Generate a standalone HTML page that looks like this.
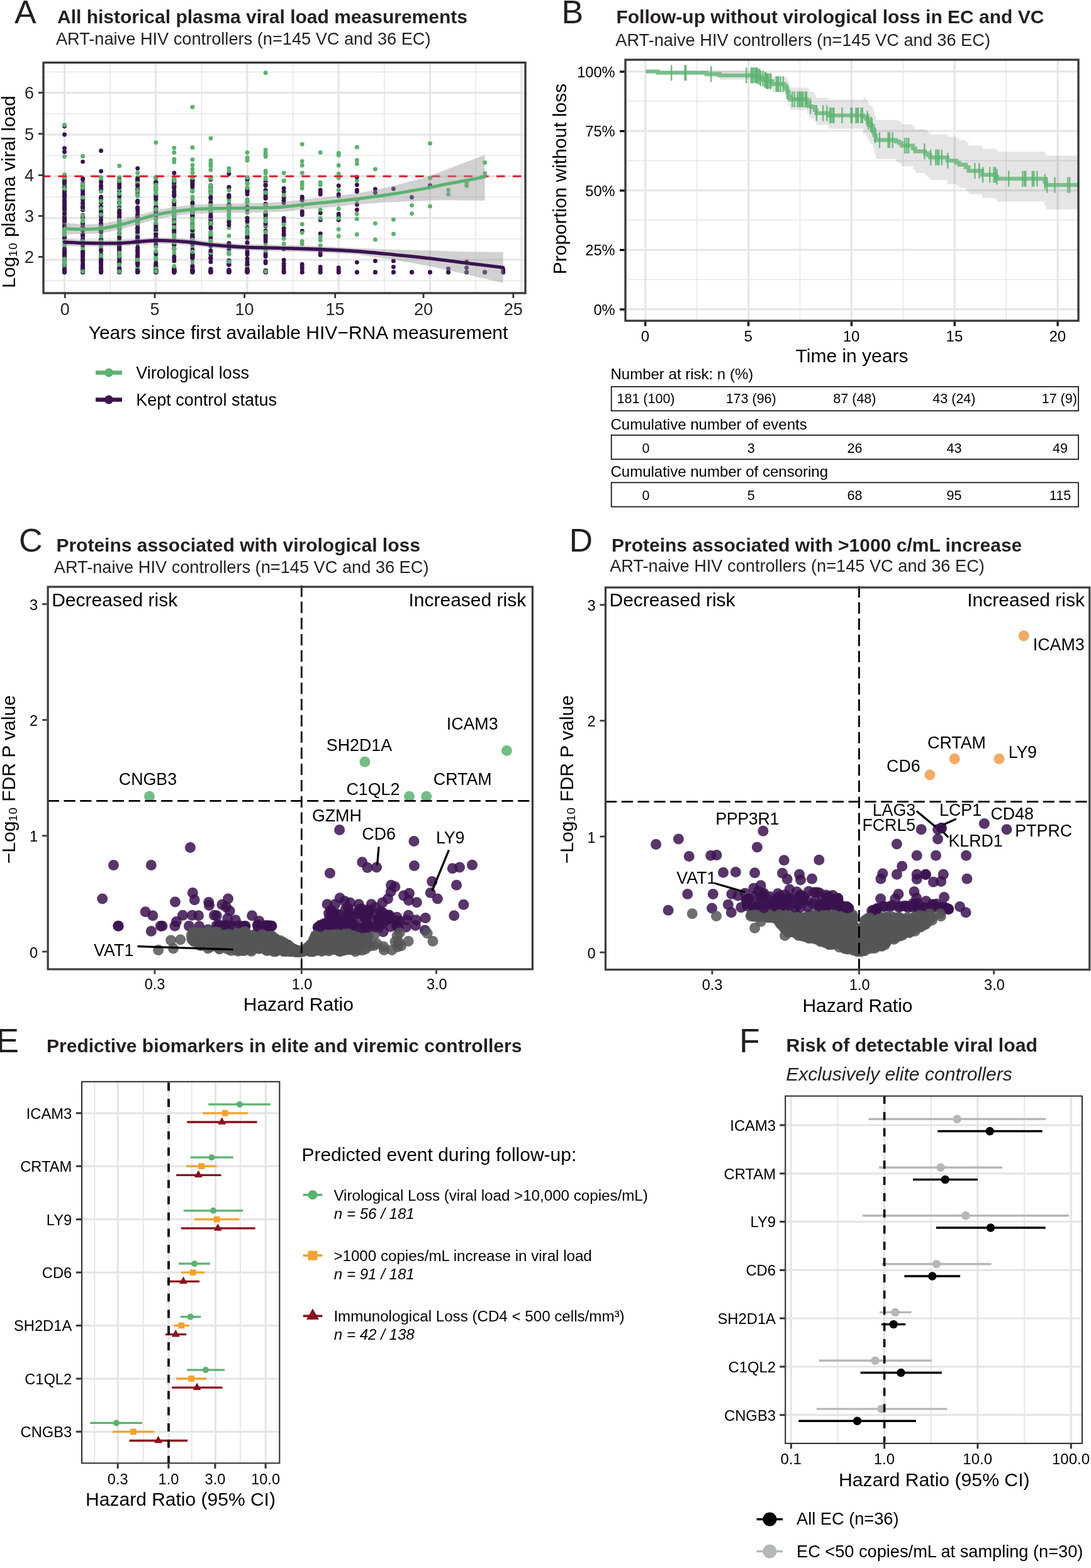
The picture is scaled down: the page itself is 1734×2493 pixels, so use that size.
<!DOCTYPE html>
<html lang="en"><head><meta charset="utf-8"><title>Figure</title>
<style>
html,body{margin:0;padding:0;background:#fff;}
svg{display:block;}
text{font-family:'Liberation Sans', sans-serif;}
</style></head>
<body>
<svg width="1734" height="2493" viewBox="0 0 1734 2493" font-family="'Liberation Sans', sans-serif">
<rect width="1734" height="2493" fill="#fff"/>
<text x="23.00" y="37.20" font-size="52" fill="#231F20">A</text>
<text x="91.00" y="37.30" font-size="30" font-weight="bold" fill="#231F20">All historical plasma viral load measurements</text>
<text x="88.90" y="71.00" font-size="27.2" fill="#231F20">ART-naive HIV controllers (n=145 VC and 36 EC)</text>
<clipPath id="clipA"><rect x="69.0" y="99.5" width="766.0" height="366.5"/></clipPath>
<g clip-path="url(#clipA)">
<line x1="175.12" y1="99.50" x2="175.12" y2="466.00" stroke="#E5E5E5" stroke-width="1.4"/>
<line x1="320.38" y1="99.50" x2="320.38" y2="466.00" stroke="#E5E5E5" stroke-width="1.4"/>
<line x1="465.62" y1="99.50" x2="465.62" y2="466.00" stroke="#E5E5E5" stroke-width="1.4"/>
<line x1="610.88" y1="99.50" x2="610.88" y2="466.00" stroke="#E5E5E5" stroke-width="1.4"/>
<line x1="756.12" y1="99.50" x2="756.12" y2="466.00" stroke="#E5E5E5" stroke-width="1.4"/>
<line x1="69.00" y1="446.18" x2="835.00" y2="446.18" stroke="#E5E5E5" stroke-width="1.4"/>
<line x1="69.00" y1="379.82" x2="835.00" y2="379.82" stroke="#E5E5E5" stroke-width="1.4"/>
<line x1="69.00" y1="313.48" x2="835.00" y2="313.48" stroke="#E5E5E5" stroke-width="1.4"/>
<line x1="69.00" y1="247.12" x2="835.00" y2="247.12" stroke="#E5E5E5" stroke-width="1.4"/>
<line x1="69.00" y1="180.78" x2="835.00" y2="180.78" stroke="#E5E5E5" stroke-width="1.4"/>
<line x1="69.00" y1="114.43" x2="835.00" y2="114.43" stroke="#E5E5E5" stroke-width="1.4"/>
<line x1="102.50" y1="99.50" x2="102.50" y2="466.00" stroke="#E5E5E5" stroke-width="3.0"/>
<line x1="247.75" y1="99.50" x2="247.75" y2="466.00" stroke="#E5E5E5" stroke-width="3.0"/>
<line x1="393.00" y1="99.50" x2="393.00" y2="466.00" stroke="#E5E5E5" stroke-width="3.0"/>
<line x1="538.25" y1="99.50" x2="538.25" y2="466.00" stroke="#E5E5E5" stroke-width="3.0"/>
<line x1="683.50" y1="99.50" x2="683.50" y2="466.00" stroke="#E5E5E5" stroke-width="3.0"/>
<line x1="828.75" y1="99.50" x2="828.75" y2="466.00" stroke="#E5E5E5" stroke-width="3.0"/>
<line x1="69.00" y1="413.00" x2="835.00" y2="413.00" stroke="#E5E5E5" stroke-width="3.0"/>
<line x1="69.00" y1="346.65" x2="835.00" y2="346.65" stroke="#E5E5E5" stroke-width="3.0"/>
<line x1="69.00" y1="280.30" x2="835.00" y2="280.30" stroke="#E5E5E5" stroke-width="3.0"/>
<line x1="69.00" y1="213.95" x2="835.00" y2="213.95" stroke="#E5E5E5" stroke-width="3.0"/>
<line x1="69.00" y1="147.60" x2="835.00" y2="147.60" stroke="#E5E5E5" stroke-width="3.0"/>
<circle cx="102.5" cy="311.5" r="3.45" fill="#3B1250"/>
<circle cx="276.8" cy="318.6" r="3.45" fill="#3B1250"/>
<circle cx="189.7" cy="408.5" r="3.45" fill="#3B1250"/>
<circle cx="363.9" cy="431.2" r="3.45" fill="#3B1250"/>
<circle cx="131.6" cy="312.2" r="3.45" fill="#5CB270"/>
<circle cx="363.9" cy="432.3" r="3.45" fill="#3B1250"/>
<circle cx="422.1" cy="430.3" r="3.45" fill="#3B1250"/>
<circle cx="247.8" cy="357.4" r="3.45" fill="#3B1250"/>
<circle cx="247.8" cy="289.9" r="3.45" fill="#3B1250"/>
<circle cx="247.8" cy="372.1" r="3.45" fill="#3B1250"/>
<circle cx="218.7" cy="431.7" r="3.45" fill="#3B1250"/>
<circle cx="393.0" cy="375.1" r="3.45" fill="#3B1250"/>
<circle cx="131.6" cy="408.1" r="3.45" fill="#3B1250"/>
<circle cx="131.6" cy="412.8" r="3.45" fill="#5CB270"/>
<circle cx="102.5" cy="393.7" r="3.45" fill="#5CB270"/>
<circle cx="102.5" cy="418.1" r="3.45" fill="#3B1250"/>
<circle cx="218.7" cy="380.8" r="3.45" fill="#3B1250"/>
<circle cx="160.6" cy="383.6" r="3.45" fill="#3B1250"/>
<circle cx="334.9" cy="405.1" r="3.45" fill="#3B1250"/>
<circle cx="189.7" cy="391.5" r="3.45" fill="#5CB270"/>
<circle cx="305.9" cy="430.8" r="3.45" fill="#3B1250"/>
<circle cx="102.5" cy="430.4" r="3.45" fill="#3B1250"/>
<circle cx="334.9" cy="348.9" r="3.45" fill="#3B1250"/>
<circle cx="102.5" cy="335.1" r="3.45" fill="#5CB270"/>
<circle cx="189.7" cy="403.2" r="3.45" fill="#3B1250"/>
<circle cx="276.8" cy="432.8" r="3.45" fill="#3B1250"/>
<circle cx="189.7" cy="300.8" r="3.45" fill="#3B1250"/>
<circle cx="160.6" cy="348.9" r="3.45" fill="#5CB270"/>
<circle cx="131.6" cy="402.3" r="3.45" fill="#3B1250"/>
<circle cx="218.7" cy="300.3" r="3.45" fill="#3B1250"/>
<circle cx="276.8" cy="429.5" r="3.45" fill="#3B1250"/>
<circle cx="247.8" cy="302.8" r="3.45" fill="#3B1250"/>
<circle cx="218.7" cy="415.9" r="3.45" fill="#3B1250"/>
<circle cx="102.5" cy="431.6" r="3.45" fill="#5CB270"/>
<circle cx="276.8" cy="304.9" r="3.45" fill="#5CB270"/>
<circle cx="102.5" cy="353.2" r="3.45" fill="#3B1250"/>
<circle cx="218.7" cy="282.3" r="3.45" fill="#5CB270"/>
<circle cx="363.9" cy="432.6" r="3.45" fill="#3B1250"/>
<circle cx="305.9" cy="377.8" r="3.45" fill="#5CB270"/>
<circle cx="363.9" cy="319.2" r="3.45" fill="#5CB270"/>
<circle cx="102.5" cy="427.1" r="3.45" fill="#3B1250"/>
<circle cx="189.7" cy="360.9" r="3.45" fill="#5CB270"/>
<circle cx="276.8" cy="291.1" r="3.45" fill="#3B1250"/>
<circle cx="160.6" cy="426.9" r="3.45" fill="#3B1250"/>
<circle cx="305.9" cy="415.5" r="3.45" fill="#5CB270"/>
<circle cx="247.8" cy="311.5" r="3.45" fill="#3B1250"/>
<circle cx="247.8" cy="318.9" r="3.45" fill="#5CB270"/>
<circle cx="393.0" cy="317.2" r="3.45" fill="#5CB270"/>
<circle cx="131.6" cy="300.3" r="3.45" fill="#3B1250"/>
<circle cx="218.7" cy="430.1" r="3.45" fill="#3B1250"/>
<circle cx="363.9" cy="299.1" r="3.45" fill="#3B1250"/>
<circle cx="102.5" cy="424.1" r="3.45" fill="#3B1250"/>
<circle cx="189.7" cy="329.6" r="3.45" fill="#3B1250"/>
<circle cx="189.7" cy="352.3" r="3.45" fill="#3B1250"/>
<circle cx="160.6" cy="282.3" r="3.45" fill="#5CB270"/>
<circle cx="276.8" cy="431.2" r="3.45" fill="#3B1250"/>
<circle cx="102.5" cy="431.8" r="3.45" fill="#3B1250"/>
<circle cx="160.6" cy="296.5" r="3.45" fill="#5CB270"/>
<circle cx="363.9" cy="315.6" r="3.45" fill="#5CB270"/>
<circle cx="160.6" cy="356.4" r="3.45" fill="#3B1250"/>
<circle cx="393.0" cy="283.7" r="3.45" fill="#3B1250"/>
<circle cx="102.5" cy="420.0" r="3.45" fill="#3B1250"/>
<circle cx="334.9" cy="334.1" r="3.45" fill="#3B1250"/>
<circle cx="131.6" cy="329.0" r="3.45" fill="#3B1250"/>
<circle cx="218.7" cy="405.2" r="3.45" fill="#3B1250"/>
<circle cx="131.6" cy="412.5" r="3.45" fill="#3B1250"/>
<circle cx="305.9" cy="431.0" r="3.45" fill="#3B1250"/>
<circle cx="334.9" cy="389.4" r="3.45" fill="#5CB270"/>
<circle cx="247.8" cy="383.3" r="3.45" fill="#3B1250"/>
<circle cx="305.9" cy="304.1" r="3.45" fill="#3B1250"/>
<circle cx="218.7" cy="386.0" r="3.45" fill="#3B1250"/>
<circle cx="189.7" cy="282.3" r="3.45" fill="#5CB270"/>
<circle cx="189.7" cy="345.8" r="3.45" fill="#3B1250"/>
<circle cx="393.0" cy="368.5" r="3.45" fill="#3B1250"/>
<circle cx="102.5" cy="432.6" r="3.45" fill="#3B1250"/>
<circle cx="422.1" cy="295.1" r="3.45" fill="#5CB270"/>
<circle cx="422.1" cy="304.4" r="3.45" fill="#5CB270"/>
<circle cx="189.7" cy="322.3" r="3.45" fill="#3B1250"/>
<circle cx="160.6" cy="396.3" r="3.45" fill="#3B1250"/>
<circle cx="189.7" cy="282.3" r="3.45" fill="#5CB270"/>
<circle cx="393.0" cy="328.9" r="3.45" fill="#3B1250"/>
<circle cx="247.8" cy="388.4" r="3.45" fill="#5CB270"/>
<circle cx="160.6" cy="408.4" r="3.45" fill="#3B1250"/>
<circle cx="334.9" cy="411.2" r="3.45" fill="#5CB270"/>
<circle cx="102.5" cy="414.3" r="3.45" fill="#3B1250"/>
<circle cx="218.7" cy="301.7" r="3.45" fill="#3B1250"/>
<circle cx="131.6" cy="293.9" r="3.45" fill="#3B1250"/>
<circle cx="218.7" cy="432.4" r="3.45" fill="#3B1250"/>
<circle cx="247.8" cy="299.0" r="3.45" fill="#3B1250"/>
<circle cx="334.9" cy="285.4" r="3.45" fill="#3B1250"/>
<circle cx="422.1" cy="353.7" r="3.45" fill="#5CB270"/>
<circle cx="131.6" cy="324.3" r="3.45" fill="#3B1250"/>
<circle cx="363.9" cy="324.6" r="3.45" fill="#5CB270"/>
<circle cx="422.1" cy="430.8" r="3.45" fill="#3B1250"/>
<circle cx="218.7" cy="405.7" r="3.45" fill="#5CB270"/>
<circle cx="247.8" cy="282.3" r="3.45" fill="#5CB270"/>
<circle cx="131.6" cy="426.7" r="3.45" fill="#3B1250"/>
<circle cx="189.7" cy="387.7" r="3.45" fill="#3B1250"/>
<circle cx="160.6" cy="413.2" r="3.45" fill="#3B1250"/>
<circle cx="102.5" cy="313.1" r="3.45" fill="#3B1250"/>
<circle cx="131.6" cy="429.5" r="3.45" fill="#3B1250"/>
<circle cx="102.5" cy="413.8" r="3.45" fill="#5CB270"/>
<circle cx="247.8" cy="340.7" r="3.45" fill="#3B1250"/>
<circle cx="276.8" cy="296.0" r="3.45" fill="#3B1250"/>
<circle cx="131.6" cy="432.3" r="3.45" fill="#3B1250"/>
<circle cx="363.9" cy="388.2" r="3.45" fill="#3B1250"/>
<circle cx="102.5" cy="403.9" r="3.45" fill="#3B1250"/>
<circle cx="102.5" cy="300.9" r="3.45" fill="#3B1250"/>
<circle cx="247.8" cy="421.3" r="3.45" fill="#3B1250"/>
<circle cx="189.7" cy="355.9" r="3.45" fill="#3B1250"/>
<circle cx="160.6" cy="355.3" r="3.45" fill="#3B1250"/>
<circle cx="102.5" cy="427.2" r="3.45" fill="#3B1250"/>
<circle cx="422.1" cy="315.5" r="3.45" fill="#3B1250"/>
<circle cx="422.1" cy="432.1" r="3.45" fill="#3B1250"/>
<circle cx="247.8" cy="432.5" r="3.45" fill="#3B1250"/>
<circle cx="189.7" cy="407.9" r="3.45" fill="#3B1250"/>
<circle cx="334.9" cy="356.8" r="3.45" fill="#3B1250"/>
<circle cx="102.5" cy="297.1" r="3.45" fill="#3B1250"/>
<circle cx="102.5" cy="405.3" r="3.45" fill="#3B1250"/>
<circle cx="131.6" cy="389.9" r="3.45" fill="#3B1250"/>
<circle cx="131.6" cy="309.6" r="3.45" fill="#5CB270"/>
<circle cx="393.0" cy="282.3" r="3.45" fill="#5CB270"/>
<circle cx="218.7" cy="286.2" r="3.45" fill="#3B1250"/>
<circle cx="276.8" cy="350.1" r="3.45" fill="#5CB270"/>
<circle cx="247.8" cy="328.2" r="3.45" fill="#3B1250"/>
<circle cx="160.6" cy="361.5" r="3.45" fill="#5CB270"/>
<circle cx="102.5" cy="350.8" r="3.45" fill="#3B1250"/>
<circle cx="218.7" cy="430.1" r="3.45" fill="#3B1250"/>
<circle cx="218.7" cy="282.3" r="3.45" fill="#5CB270"/>
<circle cx="160.6" cy="428.4" r="3.45" fill="#3B1250"/>
<circle cx="276.8" cy="371.6" r="3.45" fill="#5CB270"/>
<circle cx="131.6" cy="412.3" r="3.45" fill="#5CB270"/>
<circle cx="247.8" cy="429.9" r="3.45" fill="#3B1250"/>
<circle cx="334.9" cy="347.5" r="3.45" fill="#3B1250"/>
<circle cx="363.9" cy="432.6" r="3.45" fill="#3B1250"/>
<circle cx="131.6" cy="408.0" r="3.45" fill="#3B1250"/>
<circle cx="102.5" cy="289.5" r="3.45" fill="#3B1250"/>
<circle cx="247.8" cy="427.4" r="3.45" fill="#3B1250"/>
<circle cx="131.6" cy="390.3" r="3.45" fill="#3B1250"/>
<circle cx="102.5" cy="353.0" r="3.45" fill="#5CB270"/>
<circle cx="305.9" cy="286.7" r="3.45" fill="#3B1250"/>
<circle cx="393.0" cy="335.9" r="3.45" fill="#5CB270"/>
<circle cx="247.8" cy="282.3" r="3.45" fill="#5CB270"/>
<circle cx="189.7" cy="342.6" r="3.45" fill="#5CB270"/>
<circle cx="160.6" cy="418.1" r="3.45" fill="#3B1250"/>
<circle cx="247.8" cy="369.0" r="3.45" fill="#3B1250"/>
<circle cx="422.1" cy="375.8" r="3.45" fill="#5CB270"/>
<circle cx="131.6" cy="410.4" r="3.45" fill="#5CB270"/>
<circle cx="102.5" cy="374.3" r="3.45" fill="#3B1250"/>
<circle cx="422.1" cy="374.2" r="3.45" fill="#3B1250"/>
<circle cx="305.9" cy="379.8" r="3.45" fill="#3B1250"/>
<circle cx="218.7" cy="431.1" r="3.45" fill="#3B1250"/>
<circle cx="218.7" cy="375.4" r="3.45" fill="#3B1250"/>
<circle cx="102.5" cy="297.4" r="3.45" fill="#3B1250"/>
<circle cx="102.5" cy="333.5" r="3.45" fill="#3B1250"/>
<circle cx="160.6" cy="335.1" r="3.45" fill="#3B1250"/>
<circle cx="102.5" cy="431.4" r="3.45" fill="#3B1250"/>
<circle cx="189.7" cy="363.2" r="3.45" fill="#3B1250"/>
<circle cx="393.0" cy="421.0" r="3.45" fill="#3B1250"/>
<circle cx="422.1" cy="432.4" r="3.45" fill="#3B1250"/>
<circle cx="102.5" cy="356.6" r="3.45" fill="#3B1250"/>
<circle cx="393.0" cy="355.6" r="3.45" fill="#5CB270"/>
<circle cx="160.6" cy="425.3" r="3.45" fill="#3B1250"/>
<circle cx="305.9" cy="354.2" r="3.45" fill="#5CB270"/>
<circle cx="189.7" cy="303.8" r="3.45" fill="#3B1250"/>
<circle cx="276.8" cy="296.4" r="3.45" fill="#3B1250"/>
<circle cx="189.7" cy="286.2" r="3.45" fill="#3B1250"/>
<circle cx="247.8" cy="413.3" r="3.45" fill="#5CB270"/>
<circle cx="422.1" cy="359.5" r="3.45" fill="#3B1250"/>
<circle cx="218.7" cy="384.2" r="3.45" fill="#3B1250"/>
<circle cx="334.9" cy="432.2" r="3.45" fill="#3B1250"/>
<circle cx="102.5" cy="420.1" r="3.45" fill="#3B1250"/>
<circle cx="189.7" cy="287.9" r="3.45" fill="#3B1250"/>
<circle cx="189.7" cy="316.3" r="3.45" fill="#5CB270"/>
<circle cx="305.9" cy="428.8" r="3.45" fill="#3B1250"/>
<circle cx="189.7" cy="382.1" r="3.45" fill="#3B1250"/>
<circle cx="189.7" cy="430.2" r="3.45" fill="#3B1250"/>
<circle cx="189.7" cy="332.2" r="3.45" fill="#5CB270"/>
<circle cx="189.7" cy="391.1" r="3.45" fill="#3B1250"/>
<circle cx="102.5" cy="429.5" r="3.45" fill="#3B1250"/>
<circle cx="131.6" cy="353.1" r="3.45" fill="#3B1250"/>
<circle cx="422.1" cy="342.5" r="3.45" fill="#3B1250"/>
<circle cx="218.7" cy="386.2" r="3.45" fill="#5CB270"/>
<circle cx="189.7" cy="420.5" r="3.45" fill="#5CB270"/>
<circle cx="305.9" cy="432.2" r="3.45" fill="#3B1250"/>
<circle cx="276.8" cy="429.2" r="3.45" fill="#3B1250"/>
<circle cx="189.7" cy="431.1" r="3.45" fill="#3B1250"/>
<circle cx="131.6" cy="389.0" r="3.45" fill="#3B1250"/>
<circle cx="334.9" cy="282.3" r="3.45" fill="#5CB270"/>
<circle cx="102.5" cy="402.9" r="3.45" fill="#3B1250"/>
<circle cx="102.5" cy="412.6" r="3.45" fill="#3B1250"/>
<circle cx="218.7" cy="341.2" r="3.45" fill="#5CB270"/>
<circle cx="218.7" cy="432.3" r="3.45" fill="#3B1250"/>
<circle cx="276.8" cy="305.3" r="3.45" fill="#3B1250"/>
<circle cx="102.5" cy="429.6" r="3.45" fill="#3B1250"/>
<circle cx="218.7" cy="336.3" r="3.45" fill="#3B1250"/>
<circle cx="131.6" cy="430.8" r="3.45" fill="#3B1250"/>
<circle cx="160.6" cy="431.2" r="3.45" fill="#3B1250"/>
<circle cx="363.9" cy="392.1" r="3.45" fill="#5CB270"/>
<circle cx="218.7" cy="426.7" r="3.45" fill="#3B1250"/>
<circle cx="102.5" cy="419.4" r="3.45" fill="#3B1250"/>
<circle cx="276.8" cy="427.4" r="3.45" fill="#3B1250"/>
<circle cx="160.6" cy="314.5" r="3.45" fill="#3B1250"/>
<circle cx="363.9" cy="297.5" r="3.45" fill="#3B1250"/>
<circle cx="305.9" cy="403.5" r="3.45" fill="#3B1250"/>
<circle cx="276.8" cy="333.9" r="3.45" fill="#5CB270"/>
<circle cx="305.9" cy="365.8" r="3.45" fill="#3B1250"/>
<circle cx="363.9" cy="432.6" r="3.45" fill="#3B1250"/>
<circle cx="102.5" cy="428.5" r="3.45" fill="#3B1250"/>
<circle cx="102.5" cy="378.3" r="3.45" fill="#3B1250"/>
<circle cx="334.9" cy="401.7" r="3.45" fill="#3B1250"/>
<circle cx="102.5" cy="397.4" r="3.45" fill="#3B1250"/>
<circle cx="102.5" cy="282.3" r="3.45" fill="#5CB270"/>
<circle cx="276.8" cy="293.7" r="3.45" fill="#3B1250"/>
<circle cx="363.9" cy="335.1" r="3.45" fill="#5CB270"/>
<circle cx="102.5" cy="431.6" r="3.45" fill="#3B1250"/>
<circle cx="160.6" cy="302.6" r="3.45" fill="#3B1250"/>
<circle cx="102.5" cy="432.6" r="3.45" fill="#3B1250"/>
<circle cx="218.7" cy="332.6" r="3.45" fill="#3B1250"/>
<circle cx="276.8" cy="370.3" r="3.45" fill="#3B1250"/>
<circle cx="160.6" cy="370.2" r="3.45" fill="#5CB270"/>
<circle cx="305.9" cy="406.5" r="3.45" fill="#3B1250"/>
<circle cx="160.6" cy="432.5" r="3.45" fill="#3B1250"/>
<circle cx="218.7" cy="354.4" r="3.45" fill="#5CB270"/>
<circle cx="160.6" cy="428.2" r="3.45" fill="#3B1250"/>
<circle cx="218.7" cy="284.1" r="3.45" fill="#3B1250"/>
<circle cx="422.1" cy="366.9" r="3.45" fill="#3B1250"/>
<circle cx="102.5" cy="298.9" r="3.45" fill="#3B1250"/>
<circle cx="102.5" cy="417.8" r="3.45" fill="#3B1250"/>
<circle cx="189.7" cy="308.8" r="3.45" fill="#3B1250"/>
<circle cx="218.7" cy="292.5" r="3.45" fill="#3B1250"/>
<circle cx="189.7" cy="419.3" r="3.45" fill="#3B1250"/>
<circle cx="276.8" cy="299.1" r="3.45" fill="#5CB270"/>
<circle cx="276.8" cy="429.5" r="3.45" fill="#3B1250"/>
<circle cx="393.0" cy="321.6" r="3.45" fill="#3B1250"/>
<circle cx="102.5" cy="301.9" r="3.45" fill="#3B1250"/>
<circle cx="422.1" cy="295.2" r="3.45" fill="#3B1250"/>
<circle cx="218.7" cy="432.4" r="3.45" fill="#3B1250"/>
<circle cx="131.6" cy="373.5" r="3.45" fill="#3B1250"/>
<circle cx="102.5" cy="304.8" r="3.45" fill="#3B1250"/>
<circle cx="247.8" cy="298.0" r="3.45" fill="#3B1250"/>
<circle cx="218.7" cy="431.2" r="3.45" fill="#3B1250"/>
<circle cx="276.8" cy="307.3" r="3.45" fill="#5CB270"/>
<circle cx="422.1" cy="308.6" r="3.45" fill="#5CB270"/>
<circle cx="218.7" cy="346.8" r="3.45" fill="#3B1250"/>
<circle cx="393.0" cy="304.2" r="3.45" fill="#3B1250"/>
<circle cx="305.9" cy="304.4" r="3.45" fill="#5CB270"/>
<circle cx="102.5" cy="403.2" r="3.45" fill="#3B1250"/>
<circle cx="334.9" cy="344.7" r="3.45" fill="#3B1250"/>
<circle cx="189.7" cy="393.4" r="3.45" fill="#3B1250"/>
<circle cx="189.7" cy="298.6" r="3.45" fill="#3B1250"/>
<circle cx="189.7" cy="390.6" r="3.45" fill="#3B1250"/>
<circle cx="334.9" cy="341.7" r="3.45" fill="#3B1250"/>
<circle cx="218.7" cy="290.6" r="3.45" fill="#3B1250"/>
<circle cx="363.9" cy="325.3" r="3.45" fill="#5CB270"/>
<circle cx="334.9" cy="303.1" r="3.45" fill="#5CB270"/>
<circle cx="102.5" cy="426.0" r="3.45" fill="#3B1250"/>
<circle cx="189.7" cy="377.4" r="3.45" fill="#5CB270"/>
<circle cx="276.8" cy="426.4" r="3.45" fill="#3B1250"/>
<circle cx="131.6" cy="354.9" r="3.45" fill="#3B1250"/>
<circle cx="189.7" cy="308.2" r="3.45" fill="#3B1250"/>
<circle cx="422.1" cy="329.2" r="3.45" fill="#5CB270"/>
<circle cx="102.5" cy="428.2" r="3.45" fill="#3B1250"/>
<circle cx="189.7" cy="431.1" r="3.45" fill="#3B1250"/>
<circle cx="393.0" cy="404.2" r="3.45" fill="#5CB270"/>
<circle cx="247.8" cy="372.6" r="3.45" fill="#3B1250"/>
<circle cx="276.8" cy="414.9" r="3.45" fill="#3B1250"/>
<circle cx="276.8" cy="299.5" r="3.45" fill="#3B1250"/>
<circle cx="247.8" cy="337.8" r="3.45" fill="#3B1250"/>
<circle cx="131.6" cy="432.3" r="3.45" fill="#3B1250"/>
<circle cx="276.8" cy="389.5" r="3.45" fill="#5CB270"/>
<circle cx="305.9" cy="289.6" r="3.45" fill="#5CB270"/>
<circle cx="189.7" cy="321.4" r="3.45" fill="#3B1250"/>
<circle cx="247.8" cy="296.5" r="3.45" fill="#5CB270"/>
<circle cx="189.7" cy="386.3" r="3.45" fill="#3B1250"/>
<circle cx="102.5" cy="420.8" r="3.45" fill="#3B1250"/>
<circle cx="422.1" cy="346.1" r="3.45" fill="#5CB270"/>
<circle cx="160.6" cy="302.6" r="3.45" fill="#3B1250"/>
<circle cx="393.0" cy="369.5" r="3.45" fill="#5CB270"/>
<circle cx="334.9" cy="318.8" r="3.45" fill="#5CB270"/>
<circle cx="363.9" cy="310.1" r="3.45" fill="#5CB270"/>
<circle cx="160.6" cy="432.9" r="3.45" fill="#3B1250"/>
<circle cx="422.1" cy="294.5" r="3.45" fill="#5CB270"/>
<circle cx="131.6" cy="432.2" r="3.45" fill="#3B1250"/>
<circle cx="131.6" cy="432.8" r="3.45" fill="#3B1250"/>
<circle cx="102.5" cy="431.7" r="3.45" fill="#3B1250"/>
<circle cx="334.9" cy="391.3" r="3.45" fill="#3B1250"/>
<circle cx="131.6" cy="414.2" r="3.45" fill="#3B1250"/>
<circle cx="102.5" cy="316.8" r="3.45" fill="#3B1250"/>
<circle cx="189.7" cy="409.1" r="3.45" fill="#3B1250"/>
<circle cx="247.8" cy="330.1" r="3.45" fill="#3B1250"/>
<circle cx="189.7" cy="416.4" r="3.45" fill="#3B1250"/>
<circle cx="276.8" cy="366.5" r="3.45" fill="#3B1250"/>
<circle cx="160.6" cy="343.0" r="3.45" fill="#3B1250"/>
<circle cx="247.8" cy="330.6" r="3.45" fill="#3B1250"/>
<circle cx="131.6" cy="373.3" r="3.45" fill="#3B1250"/>
<circle cx="218.7" cy="412.4" r="3.45" fill="#5CB270"/>
<circle cx="189.7" cy="359.7" r="3.45" fill="#3B1250"/>
<circle cx="305.9" cy="392.0" r="3.45" fill="#5CB270"/>
<circle cx="131.6" cy="377.0" r="3.45" fill="#3B1250"/>
<circle cx="247.8" cy="282.3" r="3.45" fill="#5CB270"/>
<circle cx="189.7" cy="431.6" r="3.45" fill="#3B1250"/>
<circle cx="422.1" cy="432.3" r="3.45" fill="#3B1250"/>
<circle cx="334.9" cy="355.4" r="3.45" fill="#3B1250"/>
<circle cx="305.9" cy="431.7" r="3.45" fill="#3B1250"/>
<circle cx="393.0" cy="338.0" r="3.45" fill="#5CB270"/>
<circle cx="102.5" cy="432.8" r="3.45" fill="#3B1250"/>
<circle cx="334.9" cy="432.7" r="3.45" fill="#3B1250"/>
<circle cx="276.8" cy="429.2" r="3.45" fill="#3B1250"/>
<circle cx="422.1" cy="282.3" r="3.45" fill="#5CB270"/>
<circle cx="102.5" cy="408.0" r="3.45" fill="#5CB270"/>
<circle cx="247.8" cy="348.9" r="3.45" fill="#5CB270"/>
<circle cx="363.9" cy="350.6" r="3.45" fill="#5CB270"/>
<circle cx="189.7" cy="370.6" r="3.45" fill="#3B1250"/>
<circle cx="247.8" cy="365.0" r="3.45" fill="#5CB270"/>
<circle cx="131.6" cy="431.6" r="3.45" fill="#3B1250"/>
<circle cx="160.6" cy="341.0" r="3.45" fill="#5CB270"/>
<circle cx="189.7" cy="360.3" r="3.45" fill="#5CB270"/>
<circle cx="363.9" cy="430.2" r="3.45" fill="#3B1250"/>
<circle cx="334.9" cy="308.5" r="3.45" fill="#5CB270"/>
<circle cx="218.7" cy="357.5" r="3.45" fill="#3B1250"/>
<circle cx="131.6" cy="358.4" r="3.45" fill="#5CB270"/>
<circle cx="276.8" cy="388.4" r="3.45" fill="#3B1250"/>
<circle cx="102.5" cy="409.2" r="3.45" fill="#3B1250"/>
<circle cx="276.8" cy="431.7" r="3.45" fill="#3B1250"/>
<circle cx="422.1" cy="326.4" r="3.45" fill="#5CB270"/>
<circle cx="393.0" cy="378.7" r="3.45" fill="#3B1250"/>
<circle cx="160.6" cy="431.9" r="3.45" fill="#3B1250"/>
<circle cx="189.7" cy="288.2" r="3.45" fill="#3B1250"/>
<circle cx="247.8" cy="409.2" r="3.45" fill="#5CB270"/>
<circle cx="189.7" cy="421.4" r="3.45" fill="#5CB270"/>
<circle cx="160.6" cy="409.3" r="3.45" fill="#3B1250"/>
<circle cx="102.5" cy="432.4" r="3.45" fill="#3B1250"/>
<circle cx="334.9" cy="431.6" r="3.45" fill="#3B1250"/>
<circle cx="247.8" cy="390.0" r="3.45" fill="#3B1250"/>
<circle cx="305.9" cy="421.1" r="3.45" fill="#5CB270"/>
<circle cx="334.9" cy="356.7" r="3.45" fill="#5CB270"/>
<circle cx="102.5" cy="432.7" r="3.45" fill="#3B1250"/>
<circle cx="305.9" cy="383.8" r="3.45" fill="#3B1250"/>
<circle cx="247.8" cy="285.4" r="3.45" fill="#5CB270"/>
<circle cx="276.8" cy="282.3" r="3.45" fill="#5CB270"/>
<circle cx="160.6" cy="407.9" r="3.45" fill="#3B1250"/>
<circle cx="276.8" cy="429.4" r="3.45" fill="#3B1250"/>
<circle cx="102.5" cy="424.3" r="3.45" fill="#5CB270"/>
<circle cx="131.6" cy="432.2" r="3.45" fill="#3B1250"/>
<circle cx="189.7" cy="431.3" r="3.45" fill="#3B1250"/>
<circle cx="276.8" cy="431.2" r="3.45" fill="#3B1250"/>
<circle cx="102.5" cy="282.3" r="3.45" fill="#5CB270"/>
<circle cx="305.9" cy="428.9" r="3.45" fill="#3B1250"/>
<circle cx="189.7" cy="431.0" r="3.45" fill="#3B1250"/>
<circle cx="422.1" cy="432.1" r="3.45" fill="#3B1250"/>
<circle cx="247.8" cy="282.3" r="3.45" fill="#5CB270"/>
<circle cx="189.7" cy="430.9" r="3.45" fill="#3B1250"/>
<circle cx="218.7" cy="330.8" r="3.45" fill="#3B1250"/>
<circle cx="422.1" cy="290.1" r="3.45" fill="#5CB270"/>
<circle cx="334.9" cy="346.1" r="3.45" fill="#5CB270"/>
<circle cx="102.5" cy="397.6" r="3.45" fill="#3B1250"/>
<circle cx="247.8" cy="355.8" r="3.45" fill="#3B1250"/>
<circle cx="160.6" cy="410.3" r="3.45" fill="#5CB270"/>
<circle cx="305.9" cy="377.4" r="3.45" fill="#3B1250"/>
<circle cx="276.8" cy="350.1" r="3.45" fill="#3B1250"/>
<circle cx="305.9" cy="293.5" r="3.45" fill="#5CB270"/>
<circle cx="393.0" cy="361.9" r="3.45" fill="#3B1250"/>
<circle cx="131.6" cy="399.1" r="3.45" fill="#3B1250"/>
<circle cx="247.8" cy="296.5" r="3.45" fill="#5CB270"/>
<circle cx="102.5" cy="332.1" r="3.45" fill="#3B1250"/>
<circle cx="422.1" cy="430.3" r="3.45" fill="#3B1250"/>
<circle cx="131.6" cy="431.6" r="3.45" fill="#5CB270"/>
<circle cx="247.8" cy="431.1" r="3.45" fill="#3B1250"/>
<circle cx="393.0" cy="351.1" r="3.45" fill="#3B1250"/>
<circle cx="102.5" cy="321.6" r="3.45" fill="#3B1250"/>
<circle cx="160.6" cy="301.3" r="3.45" fill="#3B1250"/>
<circle cx="218.7" cy="384.9" r="3.45" fill="#3B1250"/>
<circle cx="218.7" cy="301.1" r="3.45" fill="#3B1250"/>
<circle cx="131.6" cy="431.2" r="3.45" fill="#3B1250"/>
<circle cx="102.5" cy="339.5" r="3.45" fill="#3B1250"/>
<circle cx="334.9" cy="338.1" r="3.45" fill="#3B1250"/>
<circle cx="276.8" cy="338.0" r="3.45" fill="#5CB270"/>
<circle cx="218.7" cy="432.3" r="3.45" fill="#3B1250"/>
<circle cx="131.6" cy="431.6" r="3.45" fill="#5CB270"/>
<circle cx="131.6" cy="285.6" r="3.45" fill="#3B1250"/>
<circle cx="189.7" cy="375.0" r="3.45" fill="#3B1250"/>
<circle cx="247.8" cy="320.2" r="3.45" fill="#5CB270"/>
<circle cx="305.9" cy="407.7" r="3.45" fill="#3B1250"/>
<circle cx="247.8" cy="314.4" r="3.45" fill="#3B1250"/>
<circle cx="305.9" cy="425.8" r="3.45" fill="#5CB270"/>
<circle cx="102.5" cy="432.7" r="3.45" fill="#3B1250"/>
<circle cx="160.6" cy="333.2" r="3.45" fill="#3B1250"/>
<circle cx="160.6" cy="359.3" r="3.45" fill="#3B1250"/>
<circle cx="160.6" cy="294.9" r="3.45" fill="#5CB270"/>
<circle cx="305.9" cy="324.5" r="3.45" fill="#3B1250"/>
<circle cx="160.6" cy="359.7" r="3.45" fill="#5CB270"/>
<circle cx="102.5" cy="432.2" r="3.45" fill="#3B1250"/>
<circle cx="363.9" cy="431.9" r="3.45" fill="#3B1250"/>
<circle cx="334.9" cy="363.2" r="3.45" fill="#3B1250"/>
<circle cx="189.7" cy="390.7" r="3.45" fill="#3B1250"/>
<circle cx="218.7" cy="347.5" r="3.45" fill="#5CB270"/>
<circle cx="131.6" cy="386.2" r="3.45" fill="#3B1250"/>
<circle cx="276.8" cy="432.0" r="3.45" fill="#3B1250"/>
<circle cx="160.6" cy="363.9" r="3.45" fill="#5CB270"/>
<circle cx="305.9" cy="287.3" r="3.45" fill="#3B1250"/>
<circle cx="131.6" cy="299.4" r="3.45" fill="#3B1250"/>
<circle cx="160.6" cy="282.3" r="3.45" fill="#5CB270"/>
<circle cx="422.1" cy="379.0" r="3.45" fill="#5CB270"/>
<circle cx="189.7" cy="356.2" r="3.45" fill="#5CB270"/>
<circle cx="189.7" cy="349.1" r="3.45" fill="#5CB270"/>
<circle cx="247.8" cy="431.8" r="3.45" fill="#3B1250"/>
<circle cx="189.7" cy="395.1" r="3.45" fill="#3B1250"/>
<circle cx="276.8" cy="394.8" r="3.45" fill="#3B1250"/>
<circle cx="189.7" cy="431.5" r="3.45" fill="#3B1250"/>
<circle cx="189.7" cy="411.0" r="3.45" fill="#3B1250"/>
<circle cx="334.9" cy="324.9" r="3.45" fill="#5CB270"/>
<circle cx="131.6" cy="394.4" r="3.45" fill="#5CB270"/>
<circle cx="102.5" cy="310.0" r="3.45" fill="#3B1250"/>
<circle cx="276.8" cy="359.3" r="3.45" fill="#5CB270"/>
<circle cx="393.0" cy="290.6" r="3.45" fill="#5CB270"/>
<circle cx="247.8" cy="282.3" r="3.45" fill="#5CB270"/>
<circle cx="247.8" cy="432.2" r="3.45" fill="#3B1250"/>
<circle cx="218.7" cy="431.6" r="3.45" fill="#5CB270"/>
<circle cx="247.8" cy="338.8" r="3.45" fill="#5CB270"/>
<circle cx="160.6" cy="362.5" r="3.45" fill="#3B1250"/>
<circle cx="334.9" cy="432.5" r="3.45" fill="#3B1250"/>
<circle cx="305.9" cy="387.7" r="3.45" fill="#3B1250"/>
<circle cx="218.7" cy="347.8" r="3.45" fill="#3B1250"/>
<circle cx="334.9" cy="416.4" r="3.45" fill="#3B1250"/>
<circle cx="276.8" cy="389.7" r="3.45" fill="#3B1250"/>
<circle cx="218.7" cy="415.0" r="3.45" fill="#3B1250"/>
<circle cx="218.7" cy="430.4" r="3.45" fill="#3B1250"/>
<circle cx="131.6" cy="419.8" r="3.45" fill="#3B1250"/>
<circle cx="131.6" cy="406.2" r="3.45" fill="#5CB270"/>
<circle cx="247.8" cy="312.4" r="3.45" fill="#3B1250"/>
<circle cx="218.7" cy="432.3" r="3.45" fill="#3B1250"/>
<circle cx="422.1" cy="288.8" r="3.45" fill="#3B1250"/>
<circle cx="218.7" cy="331.1" r="3.45" fill="#3B1250"/>
<circle cx="305.9" cy="337.8" r="3.45" fill="#5CB270"/>
<circle cx="160.6" cy="296.7" r="3.45" fill="#3B1250"/>
<circle cx="102.5" cy="421.1" r="3.45" fill="#3B1250"/>
<circle cx="189.7" cy="292.0" r="3.45" fill="#3B1250"/>
<circle cx="422.1" cy="326.0" r="3.45" fill="#5CB270"/>
<circle cx="422.1" cy="324.9" r="3.45" fill="#5CB270"/>
<circle cx="334.9" cy="409.6" r="3.45" fill="#3B1250"/>
<circle cx="131.6" cy="380.4" r="3.45" fill="#5CB270"/>
<circle cx="393.0" cy="346.7" r="3.45" fill="#3B1250"/>
<circle cx="131.6" cy="391.0" r="3.45" fill="#3B1250"/>
<circle cx="247.8" cy="290.9" r="3.45" fill="#3B1250"/>
<circle cx="305.9" cy="378.1" r="3.45" fill="#3B1250"/>
<circle cx="218.7" cy="418.8" r="3.45" fill="#3B1250"/>
<circle cx="102.5" cy="430.8" r="3.45" fill="#3B1250"/>
<circle cx="131.6" cy="318.2" r="3.45" fill="#3B1250"/>
<circle cx="276.8" cy="351.0" r="3.45" fill="#3B1250"/>
<circle cx="422.1" cy="375.1" r="3.45" fill="#3B1250"/>
<circle cx="247.8" cy="282.3" r="3.45" fill="#5CB270"/>
<circle cx="247.8" cy="424.6" r="3.45" fill="#3B1250"/>
<circle cx="276.8" cy="377.3" r="3.45" fill="#3B1250"/>
<circle cx="131.6" cy="283.6" r="3.45" fill="#5CB270"/>
<circle cx="305.9" cy="354.4" r="3.45" fill="#5CB270"/>
<circle cx="131.6" cy="310.6" r="3.45" fill="#5CB270"/>
<circle cx="363.9" cy="316.0" r="3.45" fill="#5CB270"/>
<circle cx="363.9" cy="431.7" r="3.45" fill="#3B1250"/>
<circle cx="305.9" cy="377.2" r="3.45" fill="#3B1250"/>
<circle cx="160.6" cy="431.3" r="3.45" fill="#3B1250"/>
<circle cx="422.1" cy="354.6" r="3.45" fill="#5CB270"/>
<circle cx="218.7" cy="344.2" r="3.45" fill="#5CB270"/>
<circle cx="422.1" cy="313.7" r="3.45" fill="#3B1250"/>
<circle cx="189.7" cy="312.3" r="3.45" fill="#3B1250"/>
<circle cx="102.5" cy="398.1" r="3.45" fill="#3B1250"/>
<circle cx="189.7" cy="428.5" r="3.45" fill="#3B1250"/>
<circle cx="363.9" cy="421.0" r="3.45" fill="#3B1250"/>
<circle cx="218.7" cy="382.5" r="3.45" fill="#3B1250"/>
<circle cx="160.6" cy="316.2" r="3.45" fill="#3B1250"/>
<circle cx="160.6" cy="419.8" r="3.45" fill="#3B1250"/>
<circle cx="102.5" cy="311.7" r="3.45" fill="#3B1250"/>
<circle cx="422.1" cy="431.7" r="3.45" fill="#3B1250"/>
<circle cx="276.8" cy="285.4" r="3.45" fill="#3B1250"/>
<circle cx="131.6" cy="386.1" r="3.45" fill="#3B1250"/>
<circle cx="247.8" cy="339.1" r="3.45" fill="#3B1250"/>
<circle cx="218.7" cy="409.5" r="3.45" fill="#3B1250"/>
<circle cx="247.8" cy="367.0" r="3.45" fill="#3B1250"/>
<circle cx="218.7" cy="287.2" r="3.45" fill="#3B1250"/>
<circle cx="305.9" cy="282.3" r="3.45" fill="#5CB270"/>
<circle cx="131.6" cy="431.1" r="3.45" fill="#3B1250"/>
<circle cx="334.9" cy="383.5" r="3.45" fill="#3B1250"/>
<circle cx="305.9" cy="432.1" r="3.45" fill="#3B1250"/>
<circle cx="393.0" cy="393.3" r="3.45" fill="#5CB270"/>
<circle cx="189.7" cy="431.6" r="3.45" fill="#3B1250"/>
<circle cx="189.7" cy="397.0" r="3.45" fill="#5CB270"/>
<circle cx="102.5" cy="327.6" r="3.45" fill="#3B1250"/>
<circle cx="189.7" cy="428.9" r="3.45" fill="#3B1250"/>
<circle cx="247.8" cy="301.3" r="3.45" fill="#3B1250"/>
<circle cx="189.7" cy="334.8" r="3.45" fill="#5CB270"/>
<circle cx="160.6" cy="317.2" r="3.45" fill="#3B1250"/>
<circle cx="305.9" cy="383.9" r="3.45" fill="#3B1250"/>
<circle cx="247.8" cy="407.8" r="3.45" fill="#5CB270"/>
<circle cx="247.8" cy="430.4" r="3.45" fill="#3B1250"/>
<circle cx="102.5" cy="367.6" r="3.45" fill="#3B1250"/>
<circle cx="334.9" cy="282.3" r="3.45" fill="#5CB270"/>
<circle cx="218.7" cy="285.6" r="3.45" fill="#3B1250"/>
<circle cx="160.6" cy="415.4" r="3.45" fill="#3B1250"/>
<circle cx="247.8" cy="309.3" r="3.45" fill="#3B1250"/>
<circle cx="422.1" cy="325.6" r="3.45" fill="#5CB270"/>
<circle cx="363.9" cy="419.7" r="3.45" fill="#3B1250"/>
<circle cx="189.7" cy="428.2" r="3.45" fill="#3B1250"/>
<circle cx="131.6" cy="318.6" r="3.45" fill="#5CB270"/>
<circle cx="189.7" cy="335.1" r="3.45" fill="#3B1250"/>
<circle cx="305.9" cy="383.3" r="3.45" fill="#3B1250"/>
<circle cx="218.7" cy="376.4" r="3.45" fill="#5CB270"/>
<circle cx="189.7" cy="350.6" r="3.45" fill="#3B1250"/>
<circle cx="276.8" cy="308.1" r="3.45" fill="#5CB270"/>
<circle cx="218.7" cy="296.7" r="3.45" fill="#5CB270"/>
<circle cx="247.8" cy="290.3" r="3.45" fill="#3B1250"/>
<circle cx="102.5" cy="389.0" r="3.45" fill="#3B1250"/>
<circle cx="276.8" cy="410.7" r="3.45" fill="#3B1250"/>
<circle cx="218.7" cy="372.6" r="3.45" fill="#3B1250"/>
<circle cx="305.9" cy="432.0" r="3.45" fill="#3B1250"/>
<circle cx="247.8" cy="429.7" r="3.45" fill="#3B1250"/>
<circle cx="276.8" cy="318.1" r="3.45" fill="#5CB270"/>
<circle cx="247.8" cy="410.9" r="3.45" fill="#5CB270"/>
<circle cx="393.0" cy="394.6" r="3.45" fill="#3B1250"/>
<circle cx="131.6" cy="382.2" r="3.45" fill="#3B1250"/>
<circle cx="102.5" cy="431.6" r="3.45" fill="#3B1250"/>
<circle cx="422.1" cy="432.1" r="3.45" fill="#3B1250"/>
<circle cx="305.9" cy="342.5" r="3.45" fill="#5CB270"/>
<circle cx="131.6" cy="411.3" r="3.45" fill="#3B1250"/>
<circle cx="189.7" cy="400.0" r="3.45" fill="#3B1250"/>
<circle cx="131.6" cy="431.4" r="3.45" fill="#3B1250"/>
<circle cx="102.5" cy="316.3" r="3.45" fill="#5CB270"/>
<circle cx="189.7" cy="432.5" r="3.45" fill="#3B1250"/>
<circle cx="247.8" cy="430.9" r="3.45" fill="#3B1250"/>
<circle cx="247.8" cy="334.5" r="3.45" fill="#3B1250"/>
<circle cx="305.9" cy="342.6" r="3.45" fill="#3B1250"/>
<circle cx="334.9" cy="294.8" r="3.45" fill="#3B1250"/>
<circle cx="218.7" cy="291.3" r="3.45" fill="#5CB270"/>
<circle cx="247.8" cy="378.2" r="3.45" fill="#3B1250"/>
<circle cx="422.1" cy="324.2" r="3.45" fill="#3B1250"/>
<circle cx="131.6" cy="299.6" r="3.45" fill="#3B1250"/>
<circle cx="393.0" cy="371.6" r="3.45" fill="#5CB270"/>
<circle cx="334.9" cy="431.1" r="3.45" fill="#3B1250"/>
<circle cx="102.5" cy="429.6" r="3.45" fill="#3B1250"/>
<circle cx="102.5" cy="344.1" r="3.45" fill="#3B1250"/>
<circle cx="131.6" cy="421.9" r="3.45" fill="#3B1250"/>
<circle cx="189.7" cy="423.9" r="3.45" fill="#5CB270"/>
<circle cx="160.6" cy="295.1" r="3.45" fill="#3B1250"/>
<circle cx="334.9" cy="334.2" r="3.45" fill="#5CB270"/>
<circle cx="393.0" cy="411.2" r="3.45" fill="#3B1250"/>
<circle cx="189.7" cy="415.1" r="3.45" fill="#5CB270"/>
<circle cx="305.9" cy="290.9" r="3.45" fill="#5CB270"/>
<circle cx="102.5" cy="332.1" r="3.45" fill="#5CB270"/>
<circle cx="247.8" cy="380.8" r="3.45" fill="#3B1250"/>
<circle cx="189.7" cy="431.6" r="3.45" fill="#5CB270"/>
<circle cx="218.7" cy="431.3" r="3.45" fill="#3B1250"/>
<circle cx="393.0" cy="298.4" r="3.45" fill="#5CB270"/>
<circle cx="334.9" cy="329.7" r="3.45" fill="#3B1250"/>
<circle cx="276.8" cy="341.6" r="3.45" fill="#3B1250"/>
<circle cx="305.9" cy="373.2" r="3.45" fill="#5CB270"/>
<circle cx="305.9" cy="336.3" r="3.45" fill="#3B1250"/>
<circle cx="131.6" cy="430.1" r="3.45" fill="#3B1250"/>
<circle cx="247.8" cy="430.5" r="3.45" fill="#3B1250"/>
<circle cx="276.8" cy="288.7" r="3.45" fill="#3B1250"/>
<circle cx="276.8" cy="363.8" r="3.45" fill="#3B1250"/>
<circle cx="334.9" cy="283.8" r="3.45" fill="#5CB270"/>
<circle cx="189.7" cy="407.6" r="3.45" fill="#3B1250"/>
<circle cx="160.6" cy="431.6" r="3.45" fill="#5CB270"/>
<circle cx="189.7" cy="304.5" r="3.45" fill="#3B1250"/>
<circle cx="393.0" cy="378.5" r="3.45" fill="#5CB270"/>
<circle cx="393.0" cy="332.6" r="3.45" fill="#3B1250"/>
<circle cx="102.5" cy="293.9" r="3.45" fill="#3B1250"/>
<circle cx="102.5" cy="431.0" r="3.45" fill="#3B1250"/>
<circle cx="334.9" cy="427.6" r="3.45" fill="#3B1250"/>
<circle cx="276.8" cy="311.8" r="3.45" fill="#3B1250"/>
<circle cx="276.8" cy="345.3" r="3.45" fill="#3B1250"/>
<circle cx="422.1" cy="379.6" r="3.45" fill="#3B1250"/>
<circle cx="189.7" cy="432.5" r="3.45" fill="#3B1250"/>
<circle cx="131.6" cy="333.4" r="3.45" fill="#3B1250"/>
<circle cx="218.7" cy="418.7" r="3.45" fill="#3B1250"/>
<circle cx="189.7" cy="414.7" r="3.45" fill="#3B1250"/>
<circle cx="160.6" cy="430.3" r="3.45" fill="#3B1250"/>
<circle cx="393.0" cy="430.1" r="3.45" fill="#3B1250"/>
<circle cx="189.7" cy="300.7" r="3.45" fill="#5CB270"/>
<circle cx="160.6" cy="392.1" r="3.45" fill="#3B1250"/>
<circle cx="160.6" cy="287.8" r="3.45" fill="#3B1250"/>
<circle cx="422.1" cy="346.5" r="3.45" fill="#3B1250"/>
<circle cx="305.9" cy="431.3" r="3.45" fill="#3B1250"/>
<circle cx="131.6" cy="303.6" r="3.45" fill="#5CB270"/>
<circle cx="305.9" cy="377.1" r="3.45" fill="#3B1250"/>
<circle cx="218.7" cy="307.0" r="3.45" fill="#5CB270"/>
<circle cx="363.9" cy="387.2" r="3.45" fill="#3B1250"/>
<circle cx="305.9" cy="423.8" r="3.45" fill="#3B1250"/>
<circle cx="102.5" cy="413.0" r="3.45" fill="#3B1250"/>
<circle cx="276.8" cy="330.2" r="3.45" fill="#3B1250"/>
<circle cx="189.7" cy="407.9" r="3.45" fill="#5CB270"/>
<circle cx="247.8" cy="381.0" r="3.45" fill="#3B1250"/>
<circle cx="363.9" cy="375.0" r="3.45" fill="#5CB270"/>
<circle cx="131.6" cy="381.0" r="3.45" fill="#3B1250"/>
<circle cx="393.0" cy="385.7" r="3.45" fill="#3B1250"/>
<circle cx="422.1" cy="387.8" r="3.45" fill="#5CB270"/>
<circle cx="102.5" cy="417.3" r="3.45" fill="#5CB270"/>
<circle cx="218.7" cy="409.4" r="3.45" fill="#3B1250"/>
<circle cx="131.6" cy="291.6" r="3.45" fill="#3B1250"/>
<circle cx="160.6" cy="328.4" r="3.45" fill="#3B1250"/>
<circle cx="276.8" cy="382.8" r="3.45" fill="#3B1250"/>
<circle cx="102.5" cy="313.5" r="3.45" fill="#5CB270"/>
<circle cx="102.5" cy="431.6" r="3.45" fill="#5CB270"/>
<circle cx="247.8" cy="377.0" r="3.45" fill="#3B1250"/>
<circle cx="276.8" cy="432.7" r="3.45" fill="#3B1250"/>
<circle cx="102.5" cy="325.5" r="3.45" fill="#3B1250"/>
<circle cx="305.9" cy="366.6" r="3.45" fill="#3B1250"/>
<circle cx="393.0" cy="282.3" r="3.45" fill="#5CB270"/>
<circle cx="218.7" cy="431.5" r="3.45" fill="#3B1250"/>
<circle cx="189.7" cy="430.1" r="3.45" fill="#3B1250"/>
<circle cx="276.8" cy="431.2" r="3.45" fill="#3B1250"/>
<circle cx="218.7" cy="322.2" r="3.45" fill="#3B1250"/>
<circle cx="102.5" cy="360.1" r="3.45" fill="#3B1250"/>
<circle cx="102.5" cy="293.7" r="3.45" fill="#3B1250"/>
<circle cx="131.6" cy="342.0" r="3.45" fill="#3B1250"/>
<circle cx="218.7" cy="370.8" r="3.45" fill="#5CB270"/>
<circle cx="102.5" cy="349.8" r="3.45" fill="#3B1250"/>
<circle cx="189.7" cy="431.6" r="3.45" fill="#3B1250"/>
<circle cx="102.5" cy="420.6" r="3.45" fill="#3B1250"/>
<circle cx="363.9" cy="329.7" r="3.45" fill="#5CB270"/>
<circle cx="160.6" cy="431.5" r="3.45" fill="#3B1250"/>
<circle cx="276.8" cy="432.2" r="3.45" fill="#3B1250"/>
<circle cx="102.5" cy="432.9" r="3.45" fill="#3B1250"/>
<circle cx="131.6" cy="432.9" r="3.45" fill="#3B1250"/>
<circle cx="160.6" cy="432.9" r="3.45" fill="#3B1250"/>
<circle cx="189.7" cy="432.9" r="3.45" fill="#3B1250"/>
<circle cx="218.7" cy="432.9" r="3.45" fill="#3B1250"/>
<circle cx="247.8" cy="432.9" r="3.45" fill="#3B1250"/>
<circle cx="276.8" cy="432.9" r="3.45" fill="#3B1250"/>
<circle cx="305.9" cy="432.9" r="3.45" fill="#3B1250"/>
<circle cx="334.9" cy="432.9" r="3.45" fill="#3B1250"/>
<circle cx="363.9" cy="432.9" r="3.45" fill="#3B1250"/>
<circle cx="393.0" cy="432.9" r="3.45" fill="#3B1250"/>
<circle cx="422.1" cy="432.9" r="3.45" fill="#3B1250"/>
<circle cx="451.1" cy="432.9" r="3.45" fill="#3B1250"/>
<circle cx="480.2" cy="432.9" r="3.45" fill="#3B1250"/>
<circle cx="509.2" cy="432.9" r="3.45" fill="#3B1250"/>
<circle cx="538.2" cy="432.9" r="3.45" fill="#3B1250"/>
<circle cx="567.3" cy="432.9" r="3.45" fill="#3B1250"/>
<circle cx="596.4" cy="432.9" r="3.45" fill="#3B1250"/>
<circle cx="625.4" cy="432.9" r="3.45" fill="#3B1250"/>
<circle cx="654.5" cy="432.9" r="3.45" fill="#3B1250"/>
<circle cx="683.5" cy="432.9" r="3.45" fill="#3B1250"/>
<circle cx="712.6" cy="432.9" r="3.45" fill="#3B1250"/>
<circle cx="741.6" cy="432.9" r="3.45" fill="#3B1250"/>
<circle cx="770.6" cy="432.9" r="3.45" fill="#3B1250"/>
<circle cx="799.7" cy="432.9" r="3.45" fill="#3B1250"/>
<circle cx="363.9" cy="415.4" r="3.45" fill="#3B1250"/>
<circle cx="160.6" cy="431.4" r="3.45" fill="#3B1250"/>
<circle cx="102.5" cy="327.3" r="3.45" fill="#3B1250"/>
<circle cx="218.7" cy="370.5" r="3.45" fill="#5CB270"/>
<circle cx="276.8" cy="297.6" r="3.45" fill="#3B1250"/>
<circle cx="305.9" cy="374.1" r="3.45" fill="#5CB270"/>
<circle cx="393.0" cy="432.3" r="3.45" fill="#3B1250"/>
<circle cx="218.7" cy="323.3" r="3.45" fill="#5CB270"/>
<circle cx="393.0" cy="377.0" r="3.45" fill="#3B1250"/>
<circle cx="218.7" cy="376.8" r="3.45" fill="#3B1250"/>
<circle cx="276.8" cy="432.7" r="3.45" fill="#3B1250"/>
<circle cx="102.5" cy="422.1" r="3.45" fill="#3B1250"/>
<circle cx="276.8" cy="291.7" r="3.45" fill="#5CB270"/>
<circle cx="334.9" cy="431.6" r="3.45" fill="#3B1250"/>
<circle cx="218.7" cy="398.4" r="3.45" fill="#3B1250"/>
<circle cx="102.5" cy="430.5" r="3.45" fill="#3B1250"/>
<circle cx="422.1" cy="383.4" r="3.45" fill="#3B1250"/>
<circle cx="305.9" cy="338.3" r="3.45" fill="#3B1250"/>
<circle cx="102.5" cy="313.8" r="3.45" fill="#5CB270"/>
<circle cx="131.6" cy="307.6" r="3.45" fill="#3B1250"/>
<circle cx="102.5" cy="312.4" r="3.45" fill="#3B1250"/>
<circle cx="160.6" cy="416.2" r="3.45" fill="#3B1250"/>
<circle cx="102.5" cy="337.8" r="3.45" fill="#3B1250"/>
<circle cx="276.8" cy="322.6" r="3.45" fill="#3B1250"/>
<circle cx="131.6" cy="326.0" r="3.45" fill="#3B1250"/>
<circle cx="131.6" cy="407.3" r="3.45" fill="#3B1250"/>
<circle cx="102.5" cy="289.5" r="3.45" fill="#3B1250"/>
<circle cx="160.6" cy="366.0" r="3.45" fill="#3B1250"/>
<circle cx="189.7" cy="431.8" r="3.45" fill="#3B1250"/>
<circle cx="276.8" cy="356.4" r="3.45" fill="#3B1250"/>
<circle cx="276.8" cy="431.7" r="3.45" fill="#3B1250"/>
<circle cx="276.8" cy="326.6" r="3.45" fill="#3B1250"/>
<circle cx="218.7" cy="432.4" r="3.45" fill="#3B1250"/>
<circle cx="131.6" cy="387.6" r="3.45" fill="#3B1250"/>
<circle cx="160.6" cy="282.3" r="3.45" fill="#5CB270"/>
<circle cx="160.6" cy="389.4" r="3.45" fill="#5CB270"/>
<circle cx="334.9" cy="375.0" r="3.45" fill="#3B1250"/>
<circle cx="102.5" cy="347.7" r="3.45" fill="#3B1250"/>
<circle cx="102.5" cy="413.2" r="3.45" fill="#3B1250"/>
<circle cx="422.1" cy="358.3" r="3.45" fill="#5CB270"/>
<circle cx="247.8" cy="418.2" r="3.45" fill="#3B1250"/>
<circle cx="247.8" cy="364.5" r="3.45" fill="#3B1250"/>
<circle cx="102.5" cy="412.8" r="3.45" fill="#3B1250"/>
<circle cx="160.6" cy="431.4" r="3.45" fill="#3B1250"/>
<circle cx="102.5" cy="427.9" r="3.45" fill="#3B1250"/>
<circle cx="276.8" cy="321.7" r="3.45" fill="#3B1250"/>
<circle cx="276.8" cy="431.2" r="3.45" fill="#3B1250"/>
<circle cx="305.9" cy="406.4" r="3.45" fill="#3B1250"/>
<circle cx="131.6" cy="424.2" r="3.45" fill="#3B1250"/>
<circle cx="363.9" cy="386.6" r="3.45" fill="#3B1250"/>
<circle cx="422.1" cy="415.2" r="3.45" fill="#5CB270"/>
<circle cx="334.9" cy="432.8" r="3.45" fill="#3B1250"/>
<circle cx="102.5" cy="427.0" r="3.45" fill="#3B1250"/>
<circle cx="422.1" cy="432.6" r="3.45" fill="#3B1250"/>
<circle cx="247.8" cy="343.0" r="3.45" fill="#3B1250"/>
<circle cx="189.7" cy="345.7" r="3.45" fill="#3B1250"/>
<circle cx="131.6" cy="432.8" r="3.45" fill="#3B1250"/>
<circle cx="189.7" cy="431.5" r="3.45" fill="#3B1250"/>
<circle cx="363.9" cy="328.6" r="3.45" fill="#5CB270"/>
<circle cx="305.9" cy="297.4" r="3.45" fill="#5CB270"/>
<circle cx="189.7" cy="337.1" r="3.45" fill="#3B1250"/>
<circle cx="393.0" cy="304.9" r="3.45" fill="#3B1250"/>
<circle cx="102.5" cy="282.3" r="3.45" fill="#5CB270"/>
<circle cx="218.7" cy="431.6" r="3.45" fill="#5CB270"/>
<circle cx="276.8" cy="402.9" r="3.45" fill="#5CB270"/>
<circle cx="422.1" cy="432.6" r="3.45" fill="#3B1250"/>
<circle cx="218.7" cy="399.6" r="3.45" fill="#5CB270"/>
<circle cx="131.6" cy="324.4" r="3.45" fill="#5CB270"/>
<circle cx="160.6" cy="430.9" r="3.45" fill="#3B1250"/>
<circle cx="334.9" cy="401.3" r="3.45" fill="#3B1250"/>
<circle cx="276.8" cy="288.7" r="3.45" fill="#3B1250"/>
<circle cx="131.6" cy="384.1" r="3.45" fill="#5CB270"/>
<circle cx="131.6" cy="429.9" r="3.45" fill="#3B1250"/>
<circle cx="363.9" cy="326.0" r="3.45" fill="#3B1250"/>
<circle cx="189.7" cy="430.1" r="3.45" fill="#3B1250"/>
<circle cx="160.6" cy="380.3" r="3.45" fill="#3B1250"/>
<circle cx="102.5" cy="331.1" r="3.45" fill="#5CB270"/>
<circle cx="160.6" cy="329.3" r="3.45" fill="#3B1250"/>
<circle cx="131.6" cy="363.1" r="3.45" fill="#3B1250"/>
<circle cx="218.7" cy="369.4" r="3.45" fill="#3B1250"/>
<circle cx="247.8" cy="293.5" r="3.45" fill="#3B1250"/>
<circle cx="363.9" cy="430.8" r="3.45" fill="#3B1250"/>
<circle cx="334.9" cy="308.6" r="3.45" fill="#5CB270"/>
<circle cx="305.9" cy="282.3" r="3.45" fill="#5CB270"/>
<circle cx="422.1" cy="339.2" r="3.45" fill="#3B1250"/>
<circle cx="218.7" cy="354.0" r="3.45" fill="#3B1250"/>
<circle cx="422.1" cy="307.8" r="3.45" fill="#3B1250"/>
<circle cx="247.8" cy="332.1" r="3.45" fill="#3B1250"/>
<circle cx="131.6" cy="366.8" r="3.45" fill="#5CB270"/>
<circle cx="189.7" cy="324.4" r="3.45" fill="#5CB270"/>
<circle cx="276.8" cy="285.6" r="3.45" fill="#5CB270"/>
<circle cx="276.8" cy="367.0" r="3.45" fill="#3B1250"/>
<circle cx="102.5" cy="331.3" r="3.45" fill="#3B1250"/>
<circle cx="276.8" cy="305.0" r="3.45" fill="#3B1250"/>
<circle cx="247.8" cy="347.1" r="3.45" fill="#5CB270"/>
<circle cx="334.9" cy="355.4" r="3.45" fill="#3B1250"/>
<circle cx="102.5" cy="387.7" r="3.45" fill="#3B1250"/>
<circle cx="160.6" cy="431.6" r="3.45" fill="#5CB270"/>
<circle cx="102.5" cy="368.9" r="3.45" fill="#3B1250"/>
<circle cx="305.9" cy="372.2" r="3.45" fill="#3B1250"/>
<circle cx="422.1" cy="431.2" r="3.45" fill="#3B1250"/>
<circle cx="334.9" cy="373.0" r="3.45" fill="#5CB270"/>
<circle cx="363.9" cy="419.2" r="3.45" fill="#3B1250"/>
<circle cx="160.6" cy="399.1" r="3.45" fill="#3B1250"/>
<circle cx="334.9" cy="344.8" r="3.45" fill="#5CB270"/>
<circle cx="218.7" cy="355.2" r="3.45" fill="#3B1250"/>
<circle cx="160.6" cy="335.2" r="3.45" fill="#5CB270"/>
<circle cx="276.8" cy="342.1" r="3.45" fill="#5CB270"/>
<circle cx="102.5" cy="315.8" r="3.45" fill="#3B1250"/>
<circle cx="160.6" cy="331.8" r="3.45" fill="#3B1250"/>
<circle cx="131.6" cy="365.9" r="3.45" fill="#3B1250"/>
<circle cx="160.6" cy="349.2" r="3.45" fill="#5CB270"/>
<circle cx="218.7" cy="329.9" r="3.45" fill="#3B1250"/>
<circle cx="102.5" cy="407.4" r="3.45" fill="#3B1250"/>
<circle cx="102.5" cy="431.1" r="3.45" fill="#3B1250"/>
<circle cx="160.6" cy="316.9" r="3.45" fill="#3B1250"/>
<circle cx="393.0" cy="404.7" r="3.45" fill="#3B1250"/>
<circle cx="393.0" cy="431.7" r="3.45" fill="#3B1250"/>
<circle cx="393.0" cy="432.2" r="3.45" fill="#3B1250"/>
<circle cx="102.5" cy="305.3" r="3.45" fill="#3B1250"/>
<circle cx="131.6" cy="317.0" r="3.45" fill="#3B1250"/>
<circle cx="102.5" cy="400.0" r="3.45" fill="#5CB270"/>
<circle cx="363.9" cy="396.6" r="3.45" fill="#3B1250"/>
<circle cx="393.0" cy="432.1" r="3.45" fill="#3B1250"/>
<circle cx="160.6" cy="344.1" r="3.45" fill="#3B1250"/>
<circle cx="102.5" cy="356.9" r="3.45" fill="#3B1250"/>
<circle cx="102.5" cy="282.3" r="3.45" fill="#5CB270"/>
<circle cx="247.8" cy="355.4" r="3.45" fill="#5CB270"/>
<circle cx="247.8" cy="384.5" r="3.45" fill="#3B1250"/>
<circle cx="276.8" cy="339.7" r="3.45" fill="#3B1250"/>
<circle cx="305.9" cy="405.3" r="3.45" fill="#3B1250"/>
<circle cx="102.5" cy="310.6" r="3.45" fill="#3B1250"/>
<circle cx="102.5" cy="353.1" r="3.45" fill="#5CB270"/>
<circle cx="189.7" cy="374.1" r="3.45" fill="#5CB270"/>
<circle cx="276.8" cy="361.3" r="3.45" fill="#5CB270"/>
<circle cx="218.7" cy="386.6" r="3.45" fill="#3B1250"/>
<circle cx="102.5" cy="389.1" r="3.45" fill="#5CB270"/>
<circle cx="305.9" cy="292.5" r="3.45" fill="#3B1250"/>
<circle cx="363.9" cy="312.1" r="3.45" fill="#3B1250"/>
<circle cx="334.9" cy="410.1" r="3.45" fill="#3B1250"/>
<circle cx="160.6" cy="304.7" r="3.45" fill="#5CB270"/>
<circle cx="189.7" cy="417.9" r="3.45" fill="#3B1250"/>
<circle cx="305.9" cy="286.4" r="3.45" fill="#3B1250"/>
<circle cx="218.7" cy="344.6" r="3.45" fill="#3B1250"/>
<circle cx="131.6" cy="430.3" r="3.45" fill="#3B1250"/>
<circle cx="131.6" cy="430.1" r="3.45" fill="#3B1250"/>
<circle cx="160.6" cy="364.4" r="3.45" fill="#5CB270"/>
<circle cx="102.5" cy="358.5" r="3.45" fill="#3B1250"/>
<circle cx="131.6" cy="322.7" r="3.45" fill="#3B1250"/>
<circle cx="218.7" cy="431.9" r="3.45" fill="#3B1250"/>
<circle cx="218.7" cy="430.9" r="3.45" fill="#3B1250"/>
<circle cx="363.9" cy="432.5" r="3.45" fill="#3B1250"/>
<circle cx="218.7" cy="412.1" r="3.45" fill="#3B1250"/>
<circle cx="102.5" cy="427.2" r="3.45" fill="#3B1250"/>
<circle cx="218.7" cy="397.6" r="3.45" fill="#3B1250"/>
<circle cx="102.5" cy="378.4" r="3.45" fill="#3B1250"/>
<circle cx="131.6" cy="392.3" r="3.45" fill="#5CB270"/>
<circle cx="131.6" cy="362.1" r="3.45" fill="#3B1250"/>
<circle cx="189.7" cy="408.5" r="3.45" fill="#3B1250"/>
<circle cx="131.6" cy="355.4" r="3.45" fill="#3B1250"/>
<circle cx="160.6" cy="284.9" r="3.45" fill="#5CB270"/>
<circle cx="305.9" cy="351.1" r="3.45" fill="#5CB270"/>
<circle cx="131.6" cy="426.1" r="3.45" fill="#3B1250"/>
<circle cx="218.7" cy="419.2" r="3.45" fill="#3B1250"/>
<circle cx="305.9" cy="285.2" r="3.45" fill="#5CB270"/>
<circle cx="102.5" cy="431.7" r="3.45" fill="#3B1250"/>
<circle cx="334.9" cy="316.9" r="3.45" fill="#5CB270"/>
<circle cx="305.9" cy="294.1" r="3.45" fill="#3B1250"/>
<circle cx="102.5" cy="432.4" r="3.45" fill="#3B1250"/>
<circle cx="363.9" cy="431.6" r="3.45" fill="#3B1250"/>
<circle cx="247.8" cy="424.6" r="3.45" fill="#5CB270"/>
<circle cx="131.6" cy="431.6" r="3.45" fill="#5CB270"/>
<circle cx="102.5" cy="310.3" r="3.45" fill="#3B1250"/>
<circle cx="247.8" cy="289.9" r="3.45" fill="#3B1250"/>
<circle cx="102.5" cy="421.1" r="3.45" fill="#3B1250"/>
<circle cx="160.6" cy="368.3" r="3.45" fill="#3B1250"/>
<circle cx="422.1" cy="407.7" r="3.45" fill="#3B1250"/>
<circle cx="160.6" cy="432.0" r="3.45" fill="#3B1250"/>
<circle cx="131.6" cy="346.4" r="3.45" fill="#5CB270"/>
<circle cx="305.9" cy="356.6" r="3.45" fill="#5CB270"/>
<circle cx="305.9" cy="409.3" r="3.45" fill="#3B1250"/>
<circle cx="102.5" cy="290.2" r="3.45" fill="#3B1250"/>
<circle cx="247.8" cy="371.9" r="3.45" fill="#3B1250"/>
<circle cx="276.8" cy="408.1" r="3.45" fill="#3B1250"/>
<circle cx="131.6" cy="401.7" r="3.45" fill="#3B1250"/>
<circle cx="218.7" cy="431.6" r="3.45" fill="#5CB270"/>
<circle cx="363.9" cy="313.0" r="3.45" fill="#3B1250"/>
<circle cx="102.5" cy="287.2" r="3.45" fill="#3B1250"/>
<circle cx="363.9" cy="302.6" r="3.45" fill="#5CB270"/>
<circle cx="160.6" cy="398.4" r="3.45" fill="#5CB270"/>
<circle cx="160.6" cy="428.2" r="3.45" fill="#3B1250"/>
<circle cx="102.5" cy="363.8" r="3.45" fill="#5CB270"/>
<circle cx="247.8" cy="367.2" r="3.45" fill="#5CB270"/>
<circle cx="131.6" cy="430.4" r="3.45" fill="#3B1250"/>
<circle cx="102.5" cy="370.2" r="3.45" fill="#3B1250"/>
<circle cx="160.6" cy="289.8" r="3.45" fill="#3B1250"/>
<circle cx="102.5" cy="396.0" r="3.45" fill="#3B1250"/>
<circle cx="276.8" cy="373.8" r="3.45" fill="#5CB270"/>
<circle cx="422.1" cy="355.6" r="3.45" fill="#3B1250"/>
<circle cx="160.6" cy="392.4" r="3.45" fill="#5CB270"/>
<circle cx="305.9" cy="430.5" r="3.45" fill="#3B1250"/>
<circle cx="160.6" cy="430.4" r="3.45" fill="#3B1250"/>
<circle cx="422.1" cy="405.6" r="3.45" fill="#3B1250"/>
<circle cx="393.0" cy="308.7" r="3.45" fill="#3B1250"/>
<circle cx="160.6" cy="431.1" r="3.45" fill="#3B1250"/>
<circle cx="393.0" cy="426.6" r="3.45" fill="#3B1250"/>
<circle cx="422.1" cy="301.7" r="3.45" fill="#5CB270"/>
<circle cx="247.8" cy="299.9" r="3.45" fill="#5CB270"/>
<circle cx="247.8" cy="382.7" r="3.45" fill="#3B1250"/>
<circle cx="218.7" cy="362.8" r="3.45" fill="#3B1250"/>
<circle cx="305.9" cy="301.0" r="3.45" fill="#5CB270"/>
<circle cx="305.9" cy="345.8" r="3.45" fill="#3B1250"/>
<circle cx="102.5" cy="431.2" r="3.45" fill="#3B1250"/>
<circle cx="160.6" cy="282.3" r="3.45" fill="#5CB270"/>
<circle cx="102.5" cy="402.3" r="3.45" fill="#5CB270"/>
<circle cx="334.9" cy="313.5" r="3.45" fill="#3B1250"/>
<circle cx="131.6" cy="403.6" r="3.45" fill="#3B1250"/>
<circle cx="276.8" cy="286.8" r="3.45" fill="#3B1250"/>
<circle cx="131.6" cy="372.5" r="3.45" fill="#3B1250"/>
<circle cx="160.6" cy="425.7" r="3.45" fill="#5CB270"/>
<circle cx="160.6" cy="350.1" r="3.45" fill="#3B1250"/>
<circle cx="189.7" cy="430.4" r="3.45" fill="#3B1250"/>
<circle cx="189.7" cy="427.3" r="3.45" fill="#3B1250"/>
<circle cx="334.9" cy="344.2" r="3.45" fill="#3B1250"/>
<circle cx="363.9" cy="390.5" r="3.45" fill="#3B1250"/>
<circle cx="131.6" cy="431.8" r="3.45" fill="#3B1250"/>
<circle cx="305.9" cy="432.5" r="3.45" fill="#3B1250"/>
<circle cx="305.9" cy="332.9" r="3.45" fill="#5CB270"/>
<circle cx="218.7" cy="353.6" r="3.45" fill="#3B1250"/>
<circle cx="160.6" cy="429.2" r="3.45" fill="#3B1250"/>
<circle cx="334.9" cy="432.6" r="3.45" fill="#3B1250"/>
<circle cx="160.6" cy="357.9" r="3.45" fill="#3B1250"/>
<circle cx="102.5" cy="409.1" r="3.45" fill="#3B1250"/>
<circle cx="305.9" cy="324.0" r="3.45" fill="#5CB270"/>
<circle cx="102.5" cy="428.6" r="3.45" fill="#3B1250"/>
<circle cx="276.8" cy="432.3" r="3.45" fill="#3B1250"/>
<circle cx="393.0" cy="421.4" r="3.45" fill="#3B1250"/>
<circle cx="218.7" cy="393.2" r="3.45" fill="#3B1250"/>
<circle cx="102.5" cy="408.0" r="3.45" fill="#3B1250"/>
<circle cx="218.7" cy="385.1" r="3.45" fill="#3B1250"/>
<circle cx="363.9" cy="389.5" r="3.45" fill="#3B1250"/>
<circle cx="102.5" cy="312.8" r="3.45" fill="#3B1250"/>
<circle cx="131.6" cy="333.7" r="3.45" fill="#3B1250"/>
<circle cx="305.9" cy="313.0" r="3.45" fill="#5CB270"/>
<circle cx="102.5" cy="430.1" r="3.45" fill="#3B1250"/>
<circle cx="218.7" cy="311.7" r="3.45" fill="#5CB270"/>
<circle cx="131.6" cy="366.4" r="3.45" fill="#3B1250"/>
<circle cx="305.9" cy="429.7" r="3.45" fill="#3B1250"/>
<circle cx="160.6" cy="432.6" r="3.45" fill="#3B1250"/>
<circle cx="102.5" cy="311.3" r="3.45" fill="#3B1250"/>
<circle cx="422.1" cy="339.8" r="3.45" fill="#3B1250"/>
<circle cx="160.6" cy="419.9" r="3.45" fill="#3B1250"/>
<circle cx="422.1" cy="284.5" r="3.45" fill="#5CB270"/>
<circle cx="102.5" cy="430.7" r="3.45" fill="#3B1250"/>
<circle cx="189.7" cy="297.7" r="3.45" fill="#3B1250"/>
<circle cx="160.6" cy="367.6" r="3.45" fill="#3B1250"/>
<circle cx="189.7" cy="397.9" r="3.45" fill="#3B1250"/>
<circle cx="131.6" cy="402.0" r="3.45" fill="#3B1250"/>
<circle cx="102.5" cy="356.0" r="3.45" fill="#5CB270"/>
<circle cx="102.5" cy="347.2" r="3.45" fill="#3B1250"/>
<circle cx="102.5" cy="398.1" r="3.45" fill="#5CB270"/>
<circle cx="160.6" cy="375.9" r="3.45" fill="#5CB270"/>
<circle cx="305.9" cy="403.5" r="3.45" fill="#3B1250"/>
<circle cx="102.5" cy="416.0" r="3.45" fill="#3B1250"/>
<circle cx="422.1" cy="293.0" r="3.45" fill="#5CB270"/>
<circle cx="102.5" cy="412.3" r="3.45" fill="#3B1250"/>
<circle cx="363.9" cy="326.8" r="3.45" fill="#3B1250"/>
<circle cx="393.0" cy="321.9" r="3.45" fill="#5CB270"/>
<circle cx="363.9" cy="362.2" r="3.45" fill="#5CB270"/>
<circle cx="363.9" cy="414.2" r="3.45" fill="#3B1250"/>
<circle cx="189.7" cy="405.1" r="3.45" fill="#3B1250"/>
<circle cx="160.6" cy="432.2" r="3.45" fill="#3B1250"/>
<circle cx="276.8" cy="395.6" r="3.45" fill="#3B1250"/>
<circle cx="276.8" cy="431.1" r="3.45" fill="#3B1250"/>
<circle cx="102.5" cy="305.7" r="3.45" fill="#3B1250"/>
<circle cx="102.5" cy="401.1" r="3.45" fill="#3B1250"/>
<circle cx="393.0" cy="318.4" r="3.45" fill="#5CB270"/>
<circle cx="247.8" cy="282.3" r="3.45" fill="#5CB270"/>
<circle cx="276.8" cy="343.4" r="3.45" fill="#5CB270"/>
<circle cx="102.5" cy="334.9" r="3.45" fill="#5CB270"/>
<circle cx="247.8" cy="430.8" r="3.45" fill="#3B1250"/>
<circle cx="218.7" cy="321.3" r="3.45" fill="#3B1250"/>
<circle cx="131.6" cy="431.9" r="3.45" fill="#3B1250"/>
<circle cx="102.5" cy="302.0" r="3.45" fill="#3B1250"/>
<circle cx="160.6" cy="342.2" r="3.45" fill="#3B1250"/>
<circle cx="131.6" cy="351.8" r="3.45" fill="#5CB270"/>
<circle cx="363.9" cy="431.6" r="3.45" fill="#5CB270"/>
<circle cx="305.9" cy="342.2" r="3.45" fill="#3B1250"/>
<circle cx="131.6" cy="430.0" r="3.45" fill="#3B1250"/>
<circle cx="247.8" cy="424.0" r="3.45" fill="#3B1250"/>
<circle cx="393.0" cy="431.5" r="3.45" fill="#3B1250"/>
<circle cx="305.9" cy="358.5" r="3.45" fill="#3B1250"/>
<circle cx="189.7" cy="381.3" r="3.45" fill="#5CB270"/>
<circle cx="305.9" cy="369.0" r="3.45" fill="#5CB270"/>
<circle cx="247.8" cy="379.3" r="3.45" fill="#3B1250"/>
<circle cx="247.8" cy="367.6" r="3.45" fill="#3B1250"/>
<circle cx="334.9" cy="304.4" r="3.45" fill="#3B1250"/>
<circle cx="218.7" cy="396.8" r="3.45" fill="#3B1250"/>
<circle cx="422.1" cy="415.6" r="3.45" fill="#3B1250"/>
<circle cx="189.7" cy="379.7" r="3.45" fill="#5CB270"/>
<circle cx="102.5" cy="290.3" r="3.45" fill="#3B1250"/>
<circle cx="131.6" cy="415.8" r="3.45" fill="#3B1250"/>
<circle cx="218.7" cy="426.1" r="3.45" fill="#5CB270"/>
<circle cx="305.9" cy="430.1" r="3.45" fill="#3B1250"/>
<circle cx="276.8" cy="431.5" r="3.45" fill="#3B1250"/>
<circle cx="189.7" cy="426.4" r="3.45" fill="#3B1250"/>
<circle cx="276.8" cy="430.6" r="3.45" fill="#3B1250"/>
<circle cx="247.8" cy="428.8" r="3.45" fill="#3B1250"/>
<circle cx="334.9" cy="359.3" r="3.45" fill="#5CB270"/>
<circle cx="363.9" cy="310.5" r="3.45" fill="#3B1250"/>
<circle cx="102.5" cy="376.5" r="3.45" fill="#5CB270"/>
<circle cx="189.7" cy="391.3" r="3.45" fill="#3B1250"/>
<circle cx="102.5" cy="430.1" r="3.45" fill="#3B1250"/>
<circle cx="160.6" cy="418.0" r="3.45" fill="#3B1250"/>
<circle cx="305.9" cy="397.1" r="3.45" fill="#3B1250"/>
<circle cx="160.6" cy="393.8" r="3.45" fill="#5CB270"/>
<circle cx="276.8" cy="397.1" r="3.45" fill="#5CB270"/>
<circle cx="393.0" cy="351.9" r="3.45" fill="#3B1250"/>
<circle cx="363.9" cy="353.6" r="3.45" fill="#5CB270"/>
<circle cx="276.8" cy="427.7" r="3.45" fill="#3B1250"/>
<circle cx="305.9" cy="409.6" r="3.45" fill="#3B1250"/>
<circle cx="189.7" cy="396.2" r="3.45" fill="#3B1250"/>
<circle cx="102.5" cy="373.4" r="3.45" fill="#5CB270"/>
<circle cx="393.0" cy="421.3" r="3.45" fill="#5CB270"/>
<circle cx="189.7" cy="294.3" r="3.45" fill="#3B1250"/>
<circle cx="276.8" cy="282.3" r="3.45" fill="#5CB270"/>
<circle cx="160.6" cy="361.0" r="3.45" fill="#5CB270"/>
<circle cx="393.0" cy="401.5" r="3.45" fill="#3B1250"/>
<circle cx="247.8" cy="332.0" r="3.45" fill="#3B1250"/>
<circle cx="393.0" cy="299.3" r="3.45" fill="#5CB270"/>
<circle cx="247.8" cy="400.6" r="3.45" fill="#3B1250"/>
<circle cx="131.6" cy="382.5" r="3.45" fill="#3B1250"/>
<circle cx="393.0" cy="427.8" r="3.45" fill="#5CB270"/>
<circle cx="422.1" cy="402.6" r="3.45" fill="#3B1250"/>
<circle cx="218.7" cy="374.0" r="3.45" fill="#5CB270"/>
<circle cx="218.7" cy="355.6" r="3.45" fill="#5CB270"/>
<circle cx="393.0" cy="419.7" r="3.45" fill="#3B1250"/>
<circle cx="363.9" cy="421.1" r="3.45" fill="#3B1250"/>
<circle cx="276.8" cy="432.9" r="3.45" fill="#3B1250"/>
<circle cx="363.9" cy="328.7" r="3.45" fill="#3B1250"/>
<circle cx="131.6" cy="331.2" r="3.45" fill="#5CB270"/>
<circle cx="305.9" cy="288.0" r="3.45" fill="#3B1250"/>
<circle cx="247.8" cy="316.5" r="3.45" fill="#3B1250"/>
<circle cx="247.8" cy="354.1" r="3.45" fill="#5CB270"/>
<circle cx="247.8" cy="432.8" r="3.45" fill="#3B1250"/>
<circle cx="102.5" cy="382.2" r="3.45" fill="#3B1250"/>
<circle cx="160.6" cy="343.3" r="3.45" fill="#3B1250"/>
<circle cx="102.5" cy="382.9" r="3.45" fill="#3B1250"/>
<circle cx="305.9" cy="405.5" r="3.45" fill="#3B1250"/>
<circle cx="102.5" cy="398.5" r="3.45" fill="#3B1250"/>
<circle cx="102.5" cy="386.0" r="3.45" fill="#5CB270"/>
<circle cx="247.8" cy="368.6" r="3.45" fill="#5CB270"/>
<circle cx="160.6" cy="424.7" r="3.45" fill="#3B1250"/>
<circle cx="393.0" cy="285.4" r="3.45" fill="#3B1250"/>
<circle cx="102.5" cy="430.1" r="3.45" fill="#3B1250"/>
<circle cx="393.0" cy="301.4" r="3.45" fill="#3B1250"/>
<circle cx="247.8" cy="403.8" r="3.45" fill="#3B1250"/>
<circle cx="334.9" cy="431.1" r="3.45" fill="#3B1250"/>
<circle cx="131.6" cy="389.6" r="3.45" fill="#3B1250"/>
<circle cx="276.8" cy="431.5" r="3.45" fill="#3B1250"/>
<circle cx="102.5" cy="432.6" r="3.45" fill="#3B1250"/>
<circle cx="218.7" cy="362.8" r="3.45" fill="#3B1250"/>
<circle cx="218.7" cy="409.5" r="3.45" fill="#5CB270"/>
<circle cx="102.5" cy="432.2" r="3.45" fill="#3B1250"/>
<circle cx="422.1" cy="311.9" r="3.45" fill="#3B1250"/>
<circle cx="334.9" cy="401.8" r="3.45" fill="#5CB270"/>
<circle cx="160.6" cy="355.4" r="3.45" fill="#3B1250"/>
<circle cx="131.6" cy="345.6" r="3.45" fill="#3B1250"/>
<circle cx="160.6" cy="382.2" r="3.45" fill="#3B1250"/>
<circle cx="363.9" cy="350.8" r="3.45" fill="#5CB270"/>
<circle cx="131.6" cy="310.4" r="3.45" fill="#3B1250"/>
<circle cx="218.7" cy="406.4" r="3.45" fill="#3B1250"/>
<circle cx="422.1" cy="336.8" r="3.45" fill="#5CB270"/>
<circle cx="334.9" cy="297.6" r="3.45" fill="#5CB270"/>
<circle cx="363.9" cy="344.5" r="3.45" fill="#5CB270"/>
<circle cx="102.5" cy="330.3" r="3.45" fill="#3B1250"/>
<circle cx="218.7" cy="344.6" r="3.45" fill="#3B1250"/>
<circle cx="334.9" cy="379.1" r="3.45" fill="#3B1250"/>
<circle cx="218.7" cy="381.7" r="3.45" fill="#3B1250"/>
<circle cx="160.6" cy="431.6" r="3.45" fill="#5CB270"/>
<circle cx="363.9" cy="339.6" r="3.45" fill="#5CB270"/>
<circle cx="160.6" cy="431.5" r="3.45" fill="#3B1250"/>
<circle cx="276.8" cy="344.8" r="3.45" fill="#5CB270"/>
<circle cx="247.8" cy="428.1" r="3.45" fill="#3B1250"/>
<circle cx="160.6" cy="322.0" r="3.45" fill="#3B1250"/>
<circle cx="363.9" cy="432.5" r="3.45" fill="#3B1250"/>
<circle cx="422.1" cy="432.4" r="3.45" fill="#3B1250"/>
<circle cx="131.6" cy="383.8" r="3.45" fill="#3B1250"/>
<circle cx="393.0" cy="431.9" r="3.45" fill="#3B1250"/>
<circle cx="247.8" cy="399.5" r="3.45" fill="#5CB270"/>
<circle cx="218.7" cy="319.4" r="3.45" fill="#3B1250"/>
<circle cx="218.7" cy="295.2" r="3.45" fill="#3B1250"/>
<circle cx="189.7" cy="403.0" r="3.45" fill="#3B1250"/>
<circle cx="102.5" cy="431.4" r="3.45" fill="#3B1250"/>
<circle cx="276.8" cy="429.2" r="3.45" fill="#3B1250"/>
<circle cx="305.9" cy="358.6" r="3.45" fill="#5CB270"/>
<circle cx="189.7" cy="360.5" r="3.45" fill="#3B1250"/>
<circle cx="276.8" cy="431.4" r="3.45" fill="#3B1250"/>
<circle cx="218.7" cy="378.9" r="3.45" fill="#3B1250"/>
<circle cx="102.5" cy="282.3" r="3.45" fill="#5CB270"/>
<circle cx="218.7" cy="308.4" r="3.45" fill="#3B1250"/>
<circle cx="218.7" cy="308.4" r="3.45" fill="#5CB270"/>
<circle cx="334.9" cy="298.9" r="3.45" fill="#3B1250"/>
<circle cx="247.8" cy="431.9" r="3.45" fill="#3B1250"/>
<circle cx="131.6" cy="363.7" r="3.45" fill="#3B1250"/>
<circle cx="422.1" cy="294.3" r="3.45" fill="#3B1250"/>
<circle cx="131.6" cy="329.6" r="3.45" fill="#3B1250"/>
<circle cx="218.7" cy="319.9" r="3.45" fill="#3B1250"/>
<circle cx="305.9" cy="365.4" r="3.45" fill="#5CB270"/>
<circle cx="247.8" cy="364.4" r="3.45" fill="#3B1250"/>
<circle cx="102.5" cy="333.3" r="3.45" fill="#3B1250"/>
<circle cx="102.5" cy="432.3" r="3.45" fill="#3B1250"/>
<circle cx="218.7" cy="408.6" r="3.45" fill="#3B1250"/>
<circle cx="334.9" cy="428.2" r="3.45" fill="#3B1250"/>
<circle cx="102.5" cy="369.8" r="3.45" fill="#5CB270"/>
<circle cx="102.5" cy="366.5" r="3.45" fill="#3B1250"/>
<circle cx="305.9" cy="317.1" r="3.45" fill="#5CB270"/>
<circle cx="102.5" cy="293.1" r="3.45" fill="#5CB270"/>
<circle cx="189.7" cy="352.7" r="3.45" fill="#5CB270"/>
<circle cx="363.9" cy="432.4" r="3.45" fill="#3B1250"/>
<circle cx="189.7" cy="407.3" r="3.45" fill="#5CB270"/>
<circle cx="363.9" cy="431.6" r="3.45" fill="#3B1250"/>
<circle cx="218.7" cy="432.1" r="3.45" fill="#3B1250"/>
<circle cx="247.8" cy="424.1" r="3.45" fill="#3B1250"/>
<circle cx="131.6" cy="313.9" r="3.45" fill="#5CB270"/>
<circle cx="276.8" cy="377.7" r="3.45" fill="#5CB270"/>
<circle cx="218.7" cy="401.6" r="3.45" fill="#3B1250"/>
<circle cx="305.9" cy="381.2" r="3.45" fill="#5CB270"/>
<circle cx="160.6" cy="313.2" r="3.45" fill="#3B1250"/>
<circle cx="218.7" cy="320.0" r="3.45" fill="#3B1250"/>
<circle cx="189.7" cy="420.6" r="3.45" fill="#5CB270"/>
<circle cx="218.7" cy="304.3" r="3.45" fill="#3B1250"/>
<circle cx="102.5" cy="352.1" r="3.45" fill="#3B1250"/>
<circle cx="131.6" cy="342.6" r="3.45" fill="#5CB270"/>
<circle cx="189.7" cy="368.0" r="3.45" fill="#5CB270"/>
<circle cx="363.9" cy="348.6" r="3.45" fill="#5CB270"/>
<circle cx="247.8" cy="432.6" r="3.45" fill="#3B1250"/>
<circle cx="334.9" cy="371.8" r="3.45" fill="#5CB270"/>
<circle cx="334.9" cy="398.4" r="3.45" fill="#3B1250"/>
<circle cx="247.8" cy="426.9" r="3.45" fill="#5CB270"/>
<circle cx="334.9" cy="354.1" r="3.45" fill="#3B1250"/>
<circle cx="189.7" cy="338.2" r="3.45" fill="#3B1250"/>
<circle cx="218.7" cy="294.9" r="3.45" fill="#3B1250"/>
<circle cx="393.0" cy="428.2" r="3.45" fill="#3B1250"/>
<circle cx="218.7" cy="364.4" r="3.45" fill="#3B1250"/>
<circle cx="305.9" cy="410.3" r="3.45" fill="#3B1250"/>
<circle cx="363.9" cy="429.7" r="3.45" fill="#3B1250"/>
<circle cx="102.5" cy="358.2" r="3.45" fill="#3B1250"/>
<circle cx="102.5" cy="358.4" r="3.45" fill="#5CB270"/>
<circle cx="305.9" cy="432.8" r="3.45" fill="#3B1250"/>
<circle cx="276.8" cy="344.0" r="3.45" fill="#5CB270"/>
<circle cx="422.1" cy="326.4" r="3.45" fill="#5CB270"/>
<circle cx="218.7" cy="430.3" r="3.45" fill="#3B1250"/>
<circle cx="305.9" cy="282.3" r="3.45" fill="#5CB270"/>
<circle cx="305.9" cy="322.5" r="3.45" fill="#3B1250"/>
<circle cx="247.8" cy="431.7" r="3.45" fill="#3B1250"/>
<circle cx="393.0" cy="371.3" r="3.45" fill="#5CB270"/>
<circle cx="247.8" cy="392.4" r="3.45" fill="#5CB270"/>
<circle cx="189.7" cy="350.0" r="3.45" fill="#5CB270"/>
<circle cx="422.1" cy="351.8" r="3.45" fill="#5CB270"/>
<circle cx="131.6" cy="299.2" r="3.45" fill="#3B1250"/>
<circle cx="102.5" cy="359.2" r="3.45" fill="#3B1250"/>
<circle cx="160.6" cy="414.0" r="3.45" fill="#3B1250"/>
<circle cx="334.9" cy="361.7" r="3.45" fill="#3B1250"/>
<circle cx="276.8" cy="310.5" r="3.45" fill="#3B1250"/>
<circle cx="334.9" cy="410.9" r="3.45" fill="#3B1250"/>
<circle cx="160.6" cy="343.8" r="3.45" fill="#3B1250"/>
<circle cx="393.0" cy="431.2" r="3.45" fill="#3B1250"/>
<circle cx="305.9" cy="282.3" r="3.45" fill="#5CB270"/>
<circle cx="102.5" cy="340.3" r="3.45" fill="#5CB270"/>
<circle cx="363.9" cy="432.0" r="3.45" fill="#3B1250"/>
<circle cx="363.9" cy="357.8" r="3.45" fill="#3B1250"/>
<circle cx="334.9" cy="322.0" r="3.45" fill="#3B1250"/>
<circle cx="218.7" cy="432.5" r="3.45" fill="#3B1250"/>
<circle cx="131.6" cy="295.7" r="3.45" fill="#3B1250"/>
<circle cx="451.1" cy="299.4" r="3.45" fill="#3B1250"/>
<circle cx="451.1" cy="304.8" r="3.45" fill="#3B1250"/>
<circle cx="451.1" cy="314.3" r="3.45" fill="#3B1250"/>
<circle cx="451.1" cy="318.4" r="3.45" fill="#3B1250"/>
<circle cx="451.1" cy="322.5" r="3.45" fill="#3B1250"/>
<circle cx="451.1" cy="347.0" r="3.45" fill="#3B1250"/>
<circle cx="451.1" cy="350.5" r="3.45" fill="#3B1250"/>
<circle cx="451.1" cy="353.8" r="3.45" fill="#3B1250"/>
<circle cx="451.1" cy="363.3" r="3.45" fill="#3B1250"/>
<circle cx="451.1" cy="367.3" r="3.45" fill="#3B1250"/>
<circle cx="451.1" cy="371.4" r="3.45" fill="#3B1250"/>
<circle cx="451.1" cy="374.1" r="3.45" fill="#3B1250"/>
<circle cx="451.1" cy="395.9" r="3.45" fill="#3B1250"/>
<circle cx="451.1" cy="413.5" r="3.45" fill="#3B1250"/>
<circle cx="451.1" cy="419.0" r="3.45" fill="#3B1250"/>
<circle cx="451.1" cy="423.0" r="3.45" fill="#3B1250"/>
<circle cx="451.1" cy="427.1" r="3.45" fill="#3B1250"/>
<circle cx="451.1" cy="430.7" r="3.45" fill="#3B1250"/>
<circle cx="451.1" cy="432.8" r="3.45" fill="#3B1250"/>
<circle cx="480.2" cy="313.0" r="3.45" fill="#3B1250"/>
<circle cx="480.2" cy="315.7" r="3.45" fill="#3B1250"/>
<circle cx="480.2" cy="318.4" r="3.45" fill="#3B1250"/>
<circle cx="480.2" cy="336.1" r="3.45" fill="#3B1250"/>
<circle cx="480.2" cy="338.8" r="3.45" fill="#3B1250"/>
<circle cx="480.2" cy="341.5" r="3.45" fill="#3B1250"/>
<circle cx="480.2" cy="367.3" r="3.45" fill="#3B1250"/>
<circle cx="480.2" cy="420.3" r="3.45" fill="#3B1250"/>
<circle cx="480.2" cy="423.9" r="3.45" fill="#3B1250"/>
<circle cx="480.2" cy="427.4" r="3.45" fill="#3B1250"/>
<circle cx="480.2" cy="432.8" r="3.45" fill="#3B1250"/>
<circle cx="509.2" cy="302.1" r="3.45" fill="#3B1250"/>
<circle cx="509.2" cy="305.7" r="3.45" fill="#3B1250"/>
<circle cx="509.2" cy="308.9" r="3.45" fill="#3B1250"/>
<circle cx="509.2" cy="338.8" r="3.45" fill="#3B1250"/>
<circle cx="509.2" cy="349.7" r="3.45" fill="#3B1250"/>
<circle cx="509.2" cy="371.4" r="3.45" fill="#3B1250"/>
<circle cx="509.2" cy="401.3" r="3.45" fill="#3B1250"/>
<circle cx="509.2" cy="405.4" r="3.45" fill="#3B1250"/>
<circle cx="509.2" cy="424.4" r="3.45" fill="#3B1250"/>
<circle cx="509.2" cy="428.5" r="3.45" fill="#3B1250"/>
<circle cx="509.2" cy="432.8" r="3.45" fill="#3B1250"/>
<circle cx="538.2" cy="295.3" r="3.45" fill="#3B1250"/>
<circle cx="538.2" cy="308.9" r="3.45" fill="#3B1250"/>
<circle cx="538.2" cy="311.6" r="3.45" fill="#3B1250"/>
<circle cx="538.2" cy="340.2" r="3.45" fill="#3B1250"/>
<circle cx="538.2" cy="344.2" r="3.45" fill="#3B1250"/>
<circle cx="538.2" cy="349.7" r="3.45" fill="#3B1250"/>
<circle cx="538.2" cy="425.8" r="3.45" fill="#3B1250"/>
<circle cx="538.2" cy="429.0" r="3.45" fill="#3B1250"/>
<circle cx="538.2" cy="432.8" r="3.45" fill="#3B1250"/>
<circle cx="567.3" cy="294.0" r="3.45" fill="#3B1250"/>
<circle cx="567.3" cy="302.1" r="3.45" fill="#3B1250"/>
<circle cx="567.3" cy="304.8" r="3.45" fill="#3B1250"/>
<circle cx="567.3" cy="325.2" r="3.45" fill="#3B1250"/>
<circle cx="567.3" cy="333.4" r="3.45" fill="#3B1250"/>
<circle cx="567.3" cy="417.1" r="3.45" fill="#3B1250"/>
<circle cx="567.3" cy="432.8" r="3.45" fill="#3B1250"/>
<circle cx="596.4" cy="300.8" r="3.45" fill="#3B1250"/>
<circle cx="596.4" cy="306.2" r="3.45" fill="#3B1250"/>
<circle cx="596.4" cy="414.9" r="3.45" fill="#3B1250"/>
<circle cx="596.4" cy="432.8" r="3.45" fill="#3B1250"/>
<circle cx="625.4" cy="300.2" r="3.45" fill="#3B1250"/>
<circle cx="625.4" cy="414.9" r="3.45" fill="#3B1250"/>
<circle cx="625.4" cy="424.4" r="3.45" fill="#3B1250"/>
<circle cx="625.4" cy="432.8" r="3.45" fill="#3B1250"/>
<circle cx="654.5" cy="313.8" r="3.45" fill="#3B1250"/>
<circle cx="654.5" cy="432.8" r="3.45" fill="#3B1250"/>
<circle cx="683.5" cy="294.8" r="3.45" fill="#3B1250"/>
<circle cx="683.5" cy="432.8" r="3.45" fill="#3B1250"/>
<circle cx="712.6" cy="427.1" r="3.45" fill="#3B1250"/>
<circle cx="712.6" cy="432.8" r="3.45" fill="#3B1250"/>
<circle cx="741.6" cy="416.2" r="3.45" fill="#3B1250"/>
<circle cx="741.6" cy="425.8" r="3.45" fill="#3B1250"/>
<circle cx="741.6" cy="432.8" r="3.45" fill="#3B1250"/>
<circle cx="770.6" cy="432.8" r="3.45" fill="#3B1250"/>
<circle cx="799.7" cy="428.5" r="3.45" fill="#3B1250"/>
<circle cx="799.7" cy="432.8" r="3.45" fill="#3B1250"/>
<circle cx="422.1" cy="432.2" r="3.45" fill="#3B1250"/>
<circle cx="160.6" cy="398.0" r="3.45" fill="#3B1250"/>
<circle cx="102.5" cy="317.2" r="3.45" fill="#3B1250"/>
<circle cx="102.5" cy="339.8" r="3.45" fill="#3B1250"/>
<circle cx="218.7" cy="362.3" r="3.45" fill="#3B1250"/>
<circle cx="160.6" cy="404.6" r="3.45" fill="#3B1250"/>
<circle cx="189.7" cy="388.1" r="3.45" fill="#3B1250"/>
<circle cx="102.5" cy="349.9" r="3.45" fill="#3B1250"/>
<circle cx="334.9" cy="306.3" r="3.45" fill="#5CB270"/>
<circle cx="102.5" cy="381.7" r="3.45" fill="#5CB270"/>
<circle cx="305.9" cy="297.1" r="3.45" fill="#3B1250"/>
<circle cx="102.5" cy="429.6" r="3.45" fill="#3B1250"/>
<circle cx="276.8" cy="428.0" r="3.45" fill="#3B1250"/>
<circle cx="102.5" cy="321.1" r="3.45" fill="#3B1250"/>
<circle cx="334.9" cy="315.1" r="3.45" fill="#3B1250"/>
<circle cx="393.0" cy="399.6" r="3.45" fill="#3B1250"/>
<circle cx="102.5" cy="316.8" r="3.45" fill="#5CB270"/>
<circle cx="247.8" cy="282.3" r="3.45" fill="#5CB270"/>
<circle cx="247.8" cy="361.5" r="3.45" fill="#5CB270"/>
<circle cx="131.6" cy="359.1" r="3.45" fill="#3B1250"/>
<circle cx="247.8" cy="432.8" r="3.45" fill="#3B1250"/>
<circle cx="102.5" cy="351.7" r="3.45" fill="#3B1250"/>
<circle cx="393.0" cy="386.2" r="3.45" fill="#3B1250"/>
<circle cx="160.6" cy="427.3" r="3.45" fill="#3B1250"/>
<circle cx="102.5" cy="425.2" r="3.45" fill="#5CB270"/>
<circle cx="131.6" cy="329.4" r="3.45" fill="#3B1250"/>
<circle cx="102.5" cy="291.6" r="3.45" fill="#3B1250"/>
<circle cx="393.0" cy="432.4" r="3.45" fill="#3B1250"/>
<circle cx="102.5" cy="360.6" r="3.45" fill="#3B1250"/>
<circle cx="189.7" cy="318.5" r="3.45" fill="#5CB270"/>
<circle cx="247.8" cy="431.1" r="3.45" fill="#3B1250"/>
<circle cx="160.6" cy="383.9" r="3.45" fill="#5CB270"/>
<circle cx="247.8" cy="341.7" r="3.45" fill="#3B1250"/>
<circle cx="276.8" cy="291.0" r="3.45" fill="#3B1250"/>
<circle cx="218.7" cy="377.1" r="3.45" fill="#3B1250"/>
<circle cx="247.8" cy="431.6" r="3.45" fill="#3B1250"/>
<circle cx="276.8" cy="309.5" r="3.45" fill="#3B1250"/>
<circle cx="393.0" cy="429.3" r="3.45" fill="#3B1250"/>
<circle cx="160.6" cy="331.7" r="3.45" fill="#5CB270"/>
<circle cx="305.9" cy="347.3" r="3.45" fill="#3B1250"/>
<circle cx="160.6" cy="407.4" r="3.45" fill="#5CB270"/>
<circle cx="305.9" cy="339.7" r="3.45" fill="#3B1250"/>
<circle cx="276.8" cy="430.6" r="3.45" fill="#3B1250"/>
<circle cx="247.8" cy="303.1" r="3.45" fill="#5CB270"/>
<circle cx="160.6" cy="413.3" r="3.45" fill="#3B1250"/>
<circle cx="160.6" cy="432.7" r="3.45" fill="#3B1250"/>
<circle cx="131.6" cy="430.9" r="3.45" fill="#3B1250"/>
<circle cx="131.6" cy="429.4" r="3.45" fill="#3B1250"/>
<circle cx="218.7" cy="341.2" r="3.45" fill="#3B1250"/>
<circle cx="305.9" cy="365.9" r="3.45" fill="#3B1250"/>
<circle cx="305.9" cy="333.2" r="3.45" fill="#3B1250"/>
<circle cx="276.8" cy="288.1" r="3.45" fill="#3B1250"/>
<circle cx="276.8" cy="385.5" r="3.45" fill="#5CB270"/>
<circle cx="393.0" cy="321.0" r="3.45" fill="#5CB270"/>
<circle cx="422.1" cy="369.0" r="3.45" fill="#5CB270"/>
<circle cx="131.6" cy="284.1" r="3.45" fill="#3B1250"/>
<circle cx="305.9" cy="423.9" r="3.45" fill="#3B1250"/>
<circle cx="247.8" cy="431.6" r="3.45" fill="#3B1250"/>
<circle cx="189.7" cy="343.0" r="3.45" fill="#3B1250"/>
<circle cx="189.7" cy="361.4" r="3.45" fill="#5CB270"/>
<circle cx="422.1" cy="302.6" r="3.45" fill="#3B1250"/>
<circle cx="276.8" cy="282.3" r="3.45" fill="#5CB270"/>
<circle cx="276.8" cy="330.9" r="3.45" fill="#5CB270"/>
<circle cx="131.6" cy="304.1" r="3.45" fill="#3B1250"/>
<circle cx="393.0" cy="292.3" r="3.45" fill="#5CB270"/>
<circle cx="160.6" cy="339.6" r="3.45" fill="#5CB270"/>
<circle cx="102.5" cy="318.7" r="3.45" fill="#3B1250"/>
<circle cx="363.9" cy="353.2" r="3.45" fill="#3B1250"/>
<circle cx="422.1" cy="431.8" r="3.45" fill="#3B1250"/>
<circle cx="305.9" cy="374.2" r="3.45" fill="#3B1250"/>
<circle cx="102.5" cy="377.4" r="3.45" fill="#3B1250"/>
<circle cx="393.0" cy="298.5" r="3.45" fill="#5CB270"/>
<circle cx="276.8" cy="287.2" r="3.45" fill="#5CB270"/>
<circle cx="189.7" cy="339.6" r="3.45" fill="#3B1250"/>
<circle cx="276.8" cy="319.5" r="3.45" fill="#5CB270"/>
<circle cx="247.8" cy="282.3" r="3.45" fill="#5CB270"/>
<circle cx="305.9" cy="360.2" r="3.45" fill="#5CB270"/>
<circle cx="131.6" cy="431.4" r="3.45" fill="#3B1250"/>
<circle cx="247.8" cy="432.1" r="3.45" fill="#3B1250"/>
<circle cx="160.6" cy="421.9" r="3.45" fill="#3B1250"/>
<circle cx="393.0" cy="415.9" r="3.45" fill="#3B1250"/>
<circle cx="247.8" cy="360.7" r="3.45" fill="#3B1250"/>
<circle cx="102.5" cy="428.4" r="3.45" fill="#3B1250"/>
<circle cx="102.5" cy="366.3" r="3.45" fill="#5CB270"/>
<circle cx="276.8" cy="423.3" r="3.45" fill="#5CB270"/>
<circle cx="102.5" cy="431.0" r="3.45" fill="#3B1250"/>
<circle cx="247.8" cy="373.2" r="3.45" fill="#3B1250"/>
<circle cx="160.6" cy="337.3" r="3.45" fill="#3B1250"/>
<circle cx="102.5" cy="313.0" r="3.45" fill="#3B1250"/>
<circle cx="305.9" cy="333.7" r="3.45" fill="#5CB270"/>
<circle cx="305.9" cy="348.0" r="3.45" fill="#5CB270"/>
<circle cx="131.6" cy="292.9" r="3.45" fill="#5CB270"/>
<circle cx="363.9" cy="429.2" r="3.45" fill="#3B1250"/>
<circle cx="334.9" cy="352.5" r="3.45" fill="#3B1250"/>
<circle cx="218.7" cy="431.2" r="3.45" fill="#3B1250"/>
<circle cx="334.9" cy="382.9" r="3.45" fill="#5CB270"/>
<circle cx="363.9" cy="341.8" r="3.45" fill="#5CB270"/>
<circle cx="102.5" cy="427.7" r="3.45" fill="#3B1250"/>
<circle cx="218.7" cy="421.6" r="3.45" fill="#3B1250"/>
<circle cx="131.6" cy="403.2" r="3.45" fill="#3B1250"/>
<circle cx="363.9" cy="403.1" r="3.45" fill="#3B1250"/>
<circle cx="422.1" cy="418.2" r="3.45" fill="#3B1250"/>
<circle cx="189.7" cy="378.3" r="3.45" fill="#3B1250"/>
<circle cx="334.9" cy="354.5" r="3.45" fill="#5CB270"/>
<circle cx="218.7" cy="368.3" r="3.45" fill="#3B1250"/>
<circle cx="189.7" cy="287.3" r="3.45" fill="#5CB270"/>
<circle cx="218.7" cy="303.4" r="3.45" fill="#5CB270"/>
<circle cx="218.7" cy="431.9" r="3.45" fill="#3B1250"/>
<circle cx="131.6" cy="431.6" r="3.45" fill="#5CB270"/>
<circle cx="102.5" cy="402.7" r="3.45" fill="#3B1250"/>
<circle cx="102.5" cy="410.6" r="3.45" fill="#3B1250"/>
<circle cx="451.1" cy="287.2" r="3.45" fill="#5CB270"/>
<circle cx="451.1" cy="310.3" r="3.45" fill="#5CB270"/>
<circle cx="451.1" cy="357.0" r="3.45" fill="#5CB270"/>
<circle cx="451.1" cy="379.6" r="3.45" fill="#5CB270"/>
<circle cx="451.1" cy="387.7" r="3.45" fill="#5CB270"/>
<circle cx="480.2" cy="289.9" r="3.45" fill="#5CB270"/>
<circle cx="480.2" cy="294.0" r="3.45" fill="#5CB270"/>
<circle cx="480.2" cy="299.4" r="3.45" fill="#5CB270"/>
<circle cx="480.2" cy="326.6" r="3.45" fill="#5CB270"/>
<circle cx="480.2" cy="356.5" r="3.45" fill="#5CB270"/>
<circle cx="480.2" cy="370.1" r="3.45" fill="#5CB270"/>
<circle cx="480.2" cy="383.6" r="3.45" fill="#5CB270"/>
<circle cx="480.2" cy="387.7" r="3.45" fill="#5CB270"/>
<circle cx="509.2" cy="289.9" r="3.45" fill="#5CB270"/>
<circle cx="509.2" cy="294.0" r="3.45" fill="#5CB270"/>
<circle cx="509.2" cy="333.4" r="3.45" fill="#5CB270"/>
<circle cx="509.2" cy="347.0" r="3.45" fill="#5CB270"/>
<circle cx="509.2" cy="376.8" r="3.45" fill="#5CB270"/>
<circle cx="509.2" cy="382.3" r="3.45" fill="#5CB270"/>
<circle cx="509.2" cy="390.4" r="3.45" fill="#5CB270"/>
<circle cx="538.2" cy="302.1" r="3.45" fill="#5CB270"/>
<circle cx="538.2" cy="332.0" r="3.45" fill="#5CB270"/>
<circle cx="538.2" cy="347.0" r="3.45" fill="#5CB270"/>
<circle cx="538.2" cy="364.6" r="3.45" fill="#5CB270"/>
<circle cx="538.2" cy="375.5" r="3.45" fill="#5CB270"/>
<circle cx="567.3" cy="287.2" r="3.45" fill="#5CB270"/>
<circle cx="567.3" cy="318.4" r="3.45" fill="#5CB270"/>
<circle cx="567.3" cy="340.2" r="3.45" fill="#5CB270"/>
<circle cx="567.3" cy="348.3" r="3.45" fill="#5CB270"/>
<circle cx="567.3" cy="372.8" r="3.45" fill="#5CB270"/>
<circle cx="596.4" cy="355.1" r="3.45" fill="#5CB270"/>
<circle cx="596.4" cy="380.9" r="3.45" fill="#5CB270"/>
<circle cx="625.4" cy="349.1" r="3.45" fill="#5CB270"/>
<circle cx="625.4" cy="372.0" r="3.45" fill="#5CB270"/>
<circle cx="654.5" cy="326.6" r="3.45" fill="#5CB270"/>
<circle cx="654.5" cy="339.6" r="3.45" fill="#5CB270"/>
<circle cx="683.5" cy="283.1" r="3.45" fill="#5CB270"/>
<circle cx="683.5" cy="327.9" r="3.45" fill="#5CB270"/>
<circle cx="712.6" cy="302.1" r="3.45" fill="#5CB270"/>
<circle cx="712.6" cy="308.9" r="3.45" fill="#5CB270"/>
<circle cx="741.6" cy="290.4" r="3.45" fill="#5CB270"/>
<circle cx="741.6" cy="295.3" r="3.45" fill="#5CB270"/>
<circle cx="189.7" cy="402.1" r="3.45" fill="#5CB270"/>
<circle cx="102.5" cy="368.1" r="3.45" fill="#5CB270"/>
<circle cx="393.0" cy="363.4" r="3.45" fill="#5CB270"/>
<circle cx="247.8" cy="293.9" r="3.45" fill="#5CB270"/>
<circle cx="363.9" cy="404.1" r="3.45" fill="#5CB270"/>
<circle cx="363.9" cy="415.9" r="3.45" fill="#5CB270"/>
<circle cx="131.6" cy="298.6" r="3.45" fill="#5CB270"/>
<circle cx="102.5" cy="418.9" r="3.45" fill="#5CB270"/>
<circle cx="189.7" cy="307.8" r="3.45" fill="#5CB270"/>
<circle cx="247.8" cy="282.3" r="3.45" fill="#5CB270"/>
<circle cx="305.9" cy="362.5" r="3.45" fill="#5CB270"/>
<circle cx="160.6" cy="406.1" r="3.45" fill="#5CB270"/>
<circle cx="247.8" cy="307.5" r="3.45" fill="#5CB270"/>
<circle cx="393.0" cy="282.3" r="3.45" fill="#5CB270"/>
<circle cx="393.0" cy="291.1" r="3.45" fill="#5CB270"/>
<circle cx="305.9" cy="338.0" r="3.45" fill="#5CB270"/>
<circle cx="422.1" cy="398.2" r="3.45" fill="#5CB270"/>
<circle cx="102.5" cy="373.0" r="3.45" fill="#5CB270"/>
<circle cx="131.6" cy="349.5" r="3.45" fill="#5CB270"/>
<circle cx="334.9" cy="335.3" r="3.45" fill="#5CB270"/>
<circle cx="276.8" cy="352.3" r="3.45" fill="#5CB270"/>
<circle cx="276.8" cy="394.4" r="3.45" fill="#5CB270"/>
<circle cx="247.8" cy="431.6" r="3.45" fill="#5CB270"/>
<circle cx="160.6" cy="341.2" r="3.45" fill="#5CB270"/>
<circle cx="363.9" cy="327.5" r="3.45" fill="#5CB270"/>
<circle cx="334.9" cy="383.2" r="3.45" fill="#5CB270"/>
<circle cx="247.8" cy="323.8" r="3.45" fill="#5CB270"/>
<circle cx="422.1" cy="348.1" r="3.45" fill="#5CB270"/>
<circle cx="247.8" cy="332.7" r="3.45" fill="#5CB270"/>
<circle cx="102.5" cy="416.5" r="3.45" fill="#5CB270"/>
<circle cx="276.8" cy="282.3" r="3.45" fill="#5CB270"/>
<circle cx="305.9" cy="282.3" r="3.45" fill="#5CB270"/>
<circle cx="334.9" cy="300.6" r="3.45" fill="#5CB270"/>
<circle cx="334.9" cy="332.2" r="3.45" fill="#5CB270"/>
<circle cx="422.1" cy="431.6" r="3.45" fill="#5CB270"/>
<circle cx="363.9" cy="401.1" r="3.45" fill="#5CB270"/>
<circle cx="334.9" cy="368.9" r="3.45" fill="#5CB270"/>
<circle cx="276.8" cy="339.1" r="3.45" fill="#5CB270"/>
<circle cx="218.7" cy="385.7" r="3.45" fill="#5CB270"/>
<circle cx="189.7" cy="431.6" r="3.45" fill="#5CB270"/>
<circle cx="218.7" cy="412.9" r="3.45" fill="#5CB270"/>
<circle cx="276.8" cy="282.3" r="3.45" fill="#5CB270"/>
<circle cx="334.9" cy="294.5" r="3.45" fill="#5CB270"/>
<circle cx="102.5" cy="388.7" r="3.45" fill="#5CB270"/>
<circle cx="334.9" cy="326.5" r="3.45" fill="#5CB270"/>
<circle cx="305.9" cy="400.3" r="3.45" fill="#5CB270"/>
<circle cx="160.6" cy="319.7" r="3.45" fill="#5CB270"/>
<circle cx="218.7" cy="311.0" r="3.45" fill="#5CB270"/>
<circle cx="422.1" cy="306.3" r="3.45" fill="#5CB270"/>
<circle cx="131.6" cy="383.7" r="3.45" fill="#5CB270"/>
<circle cx="305.9" cy="329.8" r="3.45" fill="#5CB270"/>
<circle cx="102.5" cy="300.1" r="3.45" fill="#5CB270"/>
<circle cx="102.5" cy="411.6" r="3.45" fill="#5CB270"/>
<circle cx="102.5" cy="200.7" r="3.45" fill="#3B1250"/>
<circle cx="102.5" cy="214.0" r="3.45" fill="#3B1250"/>
<circle cx="102.5" cy="235.8" r="3.45" fill="#3B1250"/>
<circle cx="102.5" cy="241.5" r="3.45" fill="#3B1250"/>
<circle cx="131.6" cy="257.1" r="3.45" fill="#3B1250"/>
<circle cx="160.6" cy="239.8" r="3.45" fill="#3B1250"/>
<circle cx="160.6" cy="272.3" r="3.45" fill="#3B1250"/>
<circle cx="218.7" cy="267.7" r="3.45" fill="#3B1250"/>
<circle cx="276.8" cy="275.0" r="3.45" fill="#3B1250"/>
<circle cx="363.9" cy="276.3" r="3.45" fill="#3B1250"/>
<circle cx="567.3" cy="281.6" r="3.45" fill="#3B1250"/>
<circle cx="102.5" cy="198.7" r="3.45" fill="#5CB270"/>
<circle cx="102.5" cy="249.1" r="3.45" fill="#5CB270"/>
<circle cx="102.5" cy="277.6" r="3.45" fill="#5CB270"/>
<circle cx="131.6" cy="248.5" r="3.45" fill="#5CB270"/>
<circle cx="189.7" cy="263.7" r="3.45" fill="#5CB270"/>
<circle cx="218.7" cy="275.0" r="3.45" fill="#5CB270"/>
<circle cx="247.8" cy="226.6" r="3.45" fill="#5CB270"/>
<circle cx="276.8" cy="235.2" r="3.45" fill="#5CB270"/>
<circle cx="276.8" cy="242.5" r="3.45" fill="#5CB270"/>
<circle cx="276.8" cy="253.1" r="3.45" fill="#5CB270"/>
<circle cx="276.8" cy="257.7" r="3.45" fill="#5CB270"/>
<circle cx="305.9" cy="170.2" r="3.45" fill="#5CB270"/>
<circle cx="305.9" cy="234.5" r="3.45" fill="#5CB270"/>
<circle cx="305.9" cy="253.8" r="3.45" fill="#5CB270"/>
<circle cx="305.9" cy="262.4" r="3.45" fill="#5CB270"/>
<circle cx="305.9" cy="269.0" r="3.45" fill="#5CB270"/>
<circle cx="305.9" cy="275.0" r="3.45" fill="#5CB270"/>
<circle cx="334.9" cy="219.9" r="3.45" fill="#5CB270"/>
<circle cx="334.9" cy="255.1" r="3.45" fill="#5CB270"/>
<circle cx="334.9" cy="259.7" r="3.45" fill="#5CB270"/>
<circle cx="334.9" cy="264.0" r="3.45" fill="#5CB270"/>
<circle cx="334.9" cy="270.3" r="3.45" fill="#5CB270"/>
<circle cx="363.9" cy="267.7" r="3.45" fill="#5CB270"/>
<circle cx="363.9" cy="271.7" r="3.45" fill="#5CB270"/>
<circle cx="393.0" cy="242.5" r="3.45" fill="#5CB270"/>
<circle cx="393.0" cy="250.8" r="3.45" fill="#5CB270"/>
<circle cx="393.0" cy="255.1" r="3.45" fill="#5CB270"/>
<circle cx="422.1" cy="115.8" r="3.45" fill="#5CB270"/>
<circle cx="422.1" cy="238.5" r="3.45" fill="#5CB270"/>
<circle cx="422.1" cy="242.5" r="3.45" fill="#5CB270"/>
<circle cx="422.1" cy="246.5" r="3.45" fill="#5CB270"/>
<circle cx="422.1" cy="249.1" r="3.45" fill="#5CB270"/>
<circle cx="422.1" cy="271.7" r="3.45" fill="#5CB270"/>
<circle cx="422.1" cy="275.3" r="3.45" fill="#5CB270"/>
<circle cx="451.1" cy="275.0" r="3.45" fill="#5CB270"/>
<circle cx="451.1" cy="287.6" r="3.45" fill="#5CB270"/>
<circle cx="480.2" cy="229.2" r="3.45" fill="#5CB270"/>
<circle cx="480.2" cy="256.4" r="3.45" fill="#5CB270"/>
<circle cx="480.2" cy="263.0" r="3.45" fill="#5CB270"/>
<circle cx="480.2" cy="275.0" r="3.45" fill="#5CB270"/>
<circle cx="509.2" cy="242.5" r="3.45" fill="#5CB270"/>
<circle cx="538.2" cy="243.5" r="3.45" fill="#5CB270"/>
<circle cx="538.2" cy="246.5" r="3.45" fill="#5CB270"/>
<circle cx="538.2" cy="263.0" r="3.45" fill="#5CB270"/>
<circle cx="538.2" cy="276.3" r="3.45" fill="#5CB270"/>
<circle cx="538.2" cy="283.0" r="3.45" fill="#5CB270"/>
<circle cx="567.3" cy="233.9" r="3.45" fill="#5CB270"/>
<circle cx="567.3" cy="254.8" r="3.45" fill="#5CB270"/>
<circle cx="567.3" cy="260.4" r="3.45" fill="#5CB270"/>
<circle cx="596.4" cy="269.0" r="3.45" fill="#5CB270"/>
<circle cx="683.5" cy="227.9" r="3.45" fill="#5CB270"/>
<circle cx="683.5" cy="283.0" r="3.45" fill="#5CB270"/>
<circle cx="770.6" cy="258.4" r="3.45" fill="#5CB270"/>
<circle cx="770.6" cy="275.7" r="3.45" fill="#5CB270"/>
<line x1="66.70" y1="280.30" x2="835.00" y2="280.30" stroke="#E8192C" stroke-width="3" stroke-dasharray="13.4 12.4"/>
<path d="M102.5 353.8L117.0 355.5L131.6 357.1L146.1 356.5L160.6 355.9L175.1 353.2L189.7 350.5L204.2 346.5L218.7 342.5L233.2 338.5L247.8 334.4L262.3 331.8L276.8 329.2L291.3 327.5L305.9 325.7L320.4 325.0L334.9 324.3L349.4 324.0L363.9 323.7L378.5 323.4L393.0 323.1L407.5 322.8L422.1 322.4L436.6 321.6L451.1 320.9L465.6 319.2L480.2 317.4L494.7 315.8L509.2 314.2L523.7 312.7L538.2 311.1L552.8 309.3L567.3 307.6L581.8 304.8L596.4 301.9L610.9 298.8L625.4 295.4L639.9 291.6L654.5 287.8L669.0 283.9L683.5 280.0L698.0 274.1L712.6 268.3L727.1 262.8L741.6 257.4L756.1 251.9L770.6 246.3L770.6 318.8L756.1 318.8L741.6 318.7L727.1 318.5L712.6 318.3L698.0 318.6L683.5 318.8L669.0 319.4L654.5 320.1L639.9 320.6L625.4 321.2L610.9 321.7L596.4 323.0L581.8 324.1L567.3 325.1L552.8 326.6L538.2 328.1L523.7 329.4L509.2 330.8L494.7 332.1L480.2 333.4L465.6 334.9L451.1 336.4L436.6 337.0L422.1 337.6L407.5 337.9L393.0 338.1L378.5 338.3L363.9 338.4L349.4 338.6L334.9 338.8L320.4 339.4L305.9 340.0L291.3 341.6L276.8 343.2L262.3 345.9L247.8 348.6L233.2 352.8L218.7 356.9L204.2 361.0L189.7 365.1L175.1 367.9L160.6 370.7L146.1 371.4L131.6 372.1L117.0 372.5L102.5 372.8Z" fill="#999999" opacity="0.45"/>
<path d="M102.5 379.0L117.0 380.2L131.6 381.4L146.1 381.6L160.6 381.8L175.1 381.7L189.7 381.6L204.2 380.6L218.7 379.5L233.2 378.4L247.8 377.3L262.3 377.7L276.8 378.1L291.3 379.3L305.9 380.5L320.4 382.3L334.9 384.1L349.4 385.3L363.9 386.5L378.5 387.4L393.0 388.2L407.5 388.6L422.1 389.0L436.6 389.3L451.1 389.6L465.6 390.1L480.2 390.6L494.7 391.0L509.2 391.5L523.7 392.2L538.2 393.0L552.8 393.8L567.3 394.5L581.8 395.1L596.4 395.6L610.9 396.2L625.4 396.8L639.9 397.2L654.5 397.6L669.0 397.9L683.5 398.3L698.0 398.8L712.6 399.3L727.1 399.8L741.6 400.3L756.1 400.4L770.6 400.6L785.2 400.7L799.7 400.8L799.7 449.8L785.2 446.4L770.6 443.1L756.1 439.7L741.6 436.3L727.1 433.1L712.6 429.8L698.0 426.6L683.5 423.3L669.0 420.7L654.5 418.1L639.9 415.4L625.4 412.8L610.9 410.7L596.4 408.6L581.8 406.6L567.3 404.5L552.8 403.8L538.2 403.0L523.7 402.2L509.2 401.5L494.7 401.0L480.2 400.6L465.6 400.1L451.1 399.6L436.6 399.3L422.1 399.0L407.5 398.6L393.0 398.2L378.5 397.4L363.9 396.5L349.4 395.3L334.9 394.1L320.4 392.3L305.9 390.5L291.3 389.3L276.8 388.1L262.3 387.7L247.8 387.3L233.2 388.4L218.7 389.5L204.2 390.6L189.7 391.6L175.1 391.7L160.6 391.8L146.1 391.6L131.6 391.4L117.0 391.2L102.5 391.0Z" fill="#999999" opacity="0.45"/>
<path d="M102.5 363.3C107.3 363.5 121.9 364.6 131.6 364.6C141.2 364.6 150.9 364.4 160.6 363.3C170.3 362.2 180.0 360.1 189.7 357.8C199.3 355.5 209.0 352.4 218.7 349.7C228.4 347.0 238.1 343.8 247.8 341.5C257.4 339.2 267.1 337.6 276.8 336.2C286.5 334.8 296.2 333.7 305.9 332.9C315.5 332.1 325.2 331.9 334.9 331.6C344.6 331.3 354.3 331.3 363.9 331.2C373.6 331.1 383.3 331.0 393.0 330.8C402.7 330.6 412.4 330.5 422.1 330.2C431.7 329.9 441.4 329.7 451.1 328.9C460.8 328.1 470.5 326.7 480.2 325.6C489.8 324.6 499.5 323.6 509.2 322.6C518.9 321.6 528.6 320.7 538.2 319.6C547.9 318.6 557.6 317.5 567.3 316.3C577.0 315.1 586.7 313.9 596.4 312.6C606.0 311.3 615.7 309.9 625.4 308.3C635.1 306.8 644.8 305.0 654.5 303.3C664.1 301.6 673.8 300.0 683.5 298.1C693.2 296.2 702.9 293.9 712.6 292.0C722.2 290.1 731.9 288.6 741.6 286.8C751.3 285.0 765.8 282.2 770.6 281.3" fill="none" stroke="#5CB270" stroke-width="5" stroke-linecap="round"/>
<path d="M102.5 385.0C107.3 385.2 121.9 386.1 131.6 386.4C141.2 386.7 150.9 386.8 160.6 386.8C170.3 386.8 180.0 387.0 189.7 386.6C199.3 386.2 209.0 385.2 218.7 384.5C228.4 383.8 238.1 382.5 247.8 382.3C257.4 382.1 267.1 382.6 276.8 383.1C286.5 383.6 296.2 384.5 305.9 385.5C315.5 386.5 325.2 388.1 334.9 389.1C344.6 390.1 354.3 390.8 363.9 391.5C373.6 392.2 383.3 392.8 393.0 393.2C402.7 393.6 412.4 393.8 422.1 394.0C431.7 394.2 436.6 394.2 451.1 394.6C465.6 395.0 489.8 395.7 509.2 396.5C528.6 397.3 547.9 398.1 567.3 399.5C586.7 400.9 606.0 402.9 625.4 404.8C644.8 406.7 664.1 408.6 683.5 410.8C702.9 413.1 722.2 415.9 741.6 418.3C761.0 420.7 790.0 424.1 799.7 425.3" fill="none" stroke="#3B1250" stroke-width="5.3" stroke-linecap="round"/>
</g>
<rect x="69.00" y="99.50" width="766.00" height="366.50" fill="none" stroke="#343838" stroke-width="3.3"/>
<line x1="61.00" y1="147.40" x2="69.00" y2="147.40" stroke="#343838" stroke-width="2.8"/>
<text x="54.00" y="157.20" font-size="27" text-anchor="end" fill="#262626">6</text>
<line x1="61.00" y1="212.70" x2="69.00" y2="212.70" stroke="#343838" stroke-width="2.8"/>
<text x="54.00" y="222.50" font-size="27" text-anchor="end" fill="#262626">5</text>
<line x1="61.00" y1="278.50" x2="69.00" y2="278.50" stroke="#343838" stroke-width="2.8"/>
<text x="54.00" y="288.30" font-size="27" text-anchor="end" fill="#262626">4</text>
<line x1="61.00" y1="343.40" x2="69.00" y2="343.40" stroke="#343838" stroke-width="2.8"/>
<text x="54.00" y="353.20" font-size="27" text-anchor="end" fill="#262626">3</text>
<line x1="61.00" y1="408.40" x2="69.00" y2="408.40" stroke="#343838" stroke-width="2.8"/>
<text x="54.00" y="418.20" font-size="27" text-anchor="end" fill="#262626">2</text>
<line x1="103.30" y1="466.00" x2="103.30" y2="474.00" stroke="#343838" stroke-width="2.8"/>
<text x="103.30" y="501.20" font-size="27" text-anchor="middle" fill="#262626">0</text>
<line x1="246.00" y1="466.00" x2="246.00" y2="474.00" stroke="#343838" stroke-width="2.8"/>
<text x="246.00" y="501.20" font-size="27" text-anchor="middle" fill="#262626">5</text>
<line x1="388.60" y1="466.00" x2="388.60" y2="474.00" stroke="#343838" stroke-width="2.8"/>
<text x="388.60" y="501.20" font-size="27" text-anchor="middle" fill="#262626">10</text>
<line x1="532.60" y1="466.00" x2="532.60" y2="474.00" stroke="#343838" stroke-width="2.8"/>
<text x="532.60" y="501.20" font-size="27" text-anchor="middle" fill="#262626">15</text>
<line x1="673.00" y1="466.00" x2="673.00" y2="474.00" stroke="#343838" stroke-width="2.8"/>
<text x="673.00" y="501.20" font-size="27" text-anchor="middle" fill="#262626">20</text>
<line x1="815.80" y1="466.00" x2="815.80" y2="474.00" stroke="#343838" stroke-width="2.8"/>
<text x="815.80" y="501.20" font-size="27" text-anchor="middle" fill="#262626">25</text>
<text transform="translate(24.10 305.00) rotate(-90)" font-size="30" text-anchor="middle" fill="#000">Log₁₀ plasma viral load</text>
<text x="474.00" y="539.30" font-size="30" text-anchor="middle" fill="#000">Years since first available HIV−RNA measurement</text>
<line x1="152.00" y1="592.50" x2="194.00" y2="592.50" stroke="#5CB270" stroke-width="6.6"/>
<circle cx="173.0" cy="592.5" r="6.9" fill="#5CB270"/>
<text x="216.30" y="602.00" font-size="27" fill="#000">Virological loss</text>
<line x1="152.00" y1="635.50" x2="194.00" y2="635.50" stroke="#3B1250" stroke-width="6.6"/>
<circle cx="173.0" cy="635.5" r="6.9" fill="#3B1250"/>
<text x="216.30" y="645.00" font-size="27" fill="#000">Kept control status</text>
<text x="892.60" y="37.20" font-size="52" fill="#231F20">B</text>
<text x="979.40" y="37.30" font-size="30" font-weight="bold" fill="#231F20">Follow-up without virological loss in EC and VC</text>
<text x="978.30" y="72.50" font-size="27.2" fill="#231F20">ART-naive HIV controllers (n=145 VC and 36 EC)</text>
<clipPath id="clipB"><rect x="994.0" y="95.0" width="720.0" height="415.0"/></clipPath>
<g clip-path="url(#clipB)">
<line x1="1107.62" y1="95.00" x2="1107.62" y2="510.00" stroke="#E5E5E5" stroke-width="1.4"/>
<line x1="1271.47" y1="95.00" x2="1271.47" y2="510.00" stroke="#E5E5E5" stroke-width="1.4"/>
<line x1="1435.33" y1="95.00" x2="1435.33" y2="510.00" stroke="#E5E5E5" stroke-width="1.4"/>
<line x1="1599.17" y1="95.00" x2="1599.17" y2="510.00" stroke="#E5E5E5" stroke-width="1.4"/>
<line x1="994.00" y1="444.45" x2="1714.00" y2="444.45" stroke="#E5E5E5" stroke-width="1.4"/>
<line x1="994.00" y1="349.95" x2="1714.00" y2="349.95" stroke="#E5E5E5" stroke-width="1.4"/>
<line x1="994.00" y1="255.45" x2="1714.00" y2="255.45" stroke="#E5E5E5" stroke-width="1.4"/>
<line x1="994.00" y1="160.95" x2="1714.00" y2="160.95" stroke="#E5E5E5" stroke-width="1.4"/>
<line x1="1025.70" y1="95.00" x2="1025.70" y2="510.00" stroke="#E5E5E5" stroke-width="3.0"/>
<line x1="1189.55" y1="95.00" x2="1189.55" y2="510.00" stroke="#E5E5E5" stroke-width="3.0"/>
<line x1="1353.40" y1="95.00" x2="1353.40" y2="510.00" stroke="#E5E5E5" stroke-width="3.0"/>
<line x1="1517.25" y1="95.00" x2="1517.25" y2="510.00" stroke="#E5E5E5" stroke-width="3.0"/>
<line x1="1681.10" y1="95.00" x2="1681.10" y2="510.00" stroke="#E5E5E5" stroke-width="3.0"/>
<line x1="994.00" y1="491.70" x2="1714.00" y2="491.70" stroke="#E5E5E5" stroke-width="3.0"/>
<line x1="994.00" y1="397.20" x2="1714.00" y2="397.20" stroke="#E5E5E5" stroke-width="3.0"/>
<line x1="994.00" y1="302.70" x2="1714.00" y2="302.70" stroke="#E5E5E5" stroke-width="3.0"/>
<line x1="994.00" y1="208.20" x2="1714.00" y2="208.20" stroke="#E5E5E5" stroke-width="3.0"/>
<line x1="994.00" y1="113.70" x2="1714.00" y2="113.70" stroke="#E5E5E5" stroke-width="3.0"/>
<path d="M1026.2 112.3H1045.5V113.5H1122.5V112.2H1144.0V112.2H1203.5V112.7H1208.5V115.0H1213.0V116.9H1218.0V118.4H1227.5V122.1H1247.0V121.6H1249.5V124.5H1251.5V128.5H1253.5V135.7H1256.0V139.3H1283.0V140.1H1285.5V145.6H1290.0V146.2H1295.0V150.8H1297.5V155.6H1316.5V158.5H1372.0V155.3H1376.5V158.4H1379.0V162.9H1381.5V166.7H1384.5V168.9H1387.5V175.4H1389.5V183.2H1392.0V190.7H1424.0V191.3H1429.0V193.4H1433.0V197.4H1451.0V200.9H1454.5V205.4H1470.0V207.5H1474.5V210.2H1478.5V213.8H1506.0V217.3H1520.0V219.6H1524.5V222.6H1535.0V226.2H1539.5V231.5H1561.0V236.4H1582.5V238.2H1585.0V241.1H1660.5V242.4H1662.5V247.4H1714.0V332.8H1662.5V327.7H1660.5V320.6H1585.0V317.5H1582.5V314.7H1561.0V308.7H1539.5V303.1H1535.0V299.1H1524.5V295.8H1520.0V292.8H1506.0V286.4H1478.5V282.3H1474.5V279.0H1470.0V275.0H1454.5V270.2H1451.0V264.4H1433.0V259.9H1429.0V257.3H1424.0V252.7H1392.0V244.7H1389.5V236.5H1387.5V229.3H1384.5V226.4H1381.5V222.1H1379.0V217.1H1376.5V213.0H1372.0V204.4H1316.5V198.7H1297.5V193.6H1295.0V188.2H1290.0V186.7H1285.5V180.7H1283.0V174.4H1256.0V169.9H1253.5V162.0H1251.5V157.2H1249.5V153.4H1247.0V146.7H1227.5V140.1H1218.0V137.0H1213.0V133.7H1208.5V129.9H1203.5V126.7H1144.0V123.2H1122.5V117.9H1045.5V114.9H1026.2Z" fill="#000" opacity="0.1"/>
<path d="M1026.2 113.6H1045.5V115.7H1122.5V117.7H1144.0V119.8H1203.5V121.8H1208.5V124.6H1213.0V127.0H1218.0V129.0H1227.5V133.7H1247.0V138.0H1249.5V141.5H1251.5V146.0H1253.5V153.7H1256.0V157.9H1283.0V163.0H1285.5V168.9H1290.0V170.2H1295.0V175.0H1297.5V179.9H1316.5V183.5H1372.0V185.4H1376.5V189.0H1379.0V193.7H1381.5V197.7H1384.5V200.2H1387.5V207.0H1389.5V215.0H1392.0V222.7H1424.0V225.0H1429.0V227.3H1433.0V231.5H1451.0V236.0H1454.5V240.6H1470.0V243.5H1474.5V246.5H1478.5V250.3H1506.0V255.3H1520.0V258.5H1524.5V261.8H1535.0V266.0H1539.5V271.6H1561.0V277.9H1582.5V281.0H1585.0V284.1H1660.5V289.0H1662.5V294.1H1714.0" fill="none" stroke="#5CB270" stroke-width="6.2" opacity="0.76" stroke-linejoin="miter"/>
<line x1="1067.20" y1="103.20" x2="1067.20" y2="128.20" stroke="#5CB270" stroke-width="2.3" stroke-opacity="0.9"/>
<line x1="1088.50" y1="103.20" x2="1088.50" y2="128.20" stroke="#5CB270" stroke-width="2.3" stroke-opacity="0.9"/>
<line x1="1090.20" y1="103.20" x2="1090.20" y2="128.20" stroke="#5CB270" stroke-width="2.3" stroke-opacity="0.9"/>
<line x1="1130.20" y1="105.20" x2="1130.20" y2="130.20" stroke="#5CB270" stroke-width="2.3" stroke-opacity="0.9"/>
<line x1="1186.30" y1="107.30" x2="1186.30" y2="132.30" stroke="#5CB270" stroke-width="2.3" stroke-opacity="0.9"/>
<line x1="1193.80" y1="107.30" x2="1193.80" y2="132.30" stroke="#5CB270" stroke-width="2.3" stroke-opacity="0.9"/>
<line x1="1195.60" y1="107.30" x2="1195.60" y2="132.30" stroke="#5CB270" stroke-width="2.3" stroke-opacity="0.9"/>
<line x1="1197.70" y1="107.30" x2="1197.70" y2="132.30" stroke="#5CB270" stroke-width="2.3" stroke-opacity="0.9"/>
<line x1="1200.40" y1="107.30" x2="1200.40" y2="132.30" stroke="#5CB270" stroke-width="2.3" stroke-opacity="0.9"/>
<line x1="1201.80" y1="107.30" x2="1201.80" y2="132.30" stroke="#5CB270" stroke-width="2.3" stroke-opacity="0.9"/>
<line x1="1203.20" y1="107.30" x2="1203.20" y2="132.30" stroke="#5CB270" stroke-width="2.3" stroke-opacity="0.9"/>
<line x1="1204.60" y1="109.30" x2="1204.60" y2="134.30" stroke="#5CB270" stroke-width="2.3" stroke-opacity="0.9"/>
<line x1="1207.30" y1="109.30" x2="1207.30" y2="134.30" stroke="#5CB270" stroke-width="2.3" stroke-opacity="0.9"/>
<line x1="1208.70" y1="112.10" x2="1208.70" y2="137.10" stroke="#5CB270" stroke-width="2.3" stroke-opacity="0.9"/>
<line x1="1212.40" y1="112.10" x2="1212.40" y2="137.10" stroke="#5CB270" stroke-width="2.3" stroke-opacity="0.9"/>
<line x1="1215.60" y1="114.50" x2="1215.60" y2="139.50" stroke="#5CB270" stroke-width="2.3" stroke-opacity="0.9"/>
<line x1="1217.00" y1="114.50" x2="1217.00" y2="139.50" stroke="#5CB270" stroke-width="2.3" stroke-opacity="0.9"/>
<line x1="1218.30" y1="116.50" x2="1218.30" y2="141.50" stroke="#5CB270" stroke-width="2.3" stroke-opacity="0.9"/>
<line x1="1219.70" y1="116.50" x2="1219.70" y2="141.50" stroke="#5CB270" stroke-width="2.3" stroke-opacity="0.9"/>
<line x1="1221.10" y1="116.50" x2="1221.10" y2="141.50" stroke="#5CB270" stroke-width="2.3" stroke-opacity="0.9"/>
<line x1="1223.90" y1="116.50" x2="1223.90" y2="141.50" stroke="#5CB270" stroke-width="2.3" stroke-opacity="0.9"/>
<line x1="1225.20" y1="116.50" x2="1225.20" y2="141.50" stroke="#5CB270" stroke-width="2.3" stroke-opacity="0.9"/>
<line x1="1233.70" y1="121.20" x2="1233.70" y2="146.20" stroke="#5CB270" stroke-width="2.3" stroke-opacity="0.9"/>
<line x1="1235.80" y1="121.20" x2="1235.80" y2="146.20" stroke="#5CB270" stroke-width="2.3" stroke-opacity="0.9"/>
<line x1="1237.20" y1="121.20" x2="1237.20" y2="146.20" stroke="#5CB270" stroke-width="2.3" stroke-opacity="0.9"/>
<line x1="1240.60" y1="121.20" x2="1240.60" y2="146.20" stroke="#5CB270" stroke-width="2.3" stroke-opacity="0.9"/>
<line x1="1244.80" y1="121.20" x2="1244.80" y2="146.20" stroke="#5CB270" stroke-width="2.3" stroke-opacity="0.9"/>
<line x1="1251.70" y1="133.50" x2="1251.70" y2="158.50" stroke="#5CB270" stroke-width="2.3" stroke-opacity="0.9"/>
<line x1="1259.20" y1="145.40" x2="1259.20" y2="170.40" stroke="#5CB270" stroke-width="2.3" stroke-opacity="0.9"/>
<line x1="1262.70" y1="145.40" x2="1262.70" y2="170.40" stroke="#5CB270" stroke-width="2.3" stroke-opacity="0.9"/>
<line x1="1267.50" y1="145.40" x2="1267.50" y2="170.40" stroke="#5CB270" stroke-width="2.3" stroke-opacity="0.9"/>
<line x1="1270.20" y1="145.40" x2="1270.20" y2="170.40" stroke="#5CB270" stroke-width="2.3" stroke-opacity="0.9"/>
<line x1="1272.30" y1="145.40" x2="1272.30" y2="170.40" stroke="#5CB270" stroke-width="2.3" stroke-opacity="0.9"/>
<line x1="1274.40" y1="145.40" x2="1274.40" y2="170.40" stroke="#5CB270" stroke-width="2.3" stroke-opacity="0.9"/>
<line x1="1276.40" y1="145.40" x2="1276.40" y2="170.40" stroke="#5CB270" stroke-width="2.3" stroke-opacity="0.9"/>
<line x1="1279.90" y1="145.40" x2="1279.90" y2="170.40" stroke="#5CB270" stroke-width="2.3" stroke-opacity="0.9"/>
<line x1="1282.00" y1="145.40" x2="1282.00" y2="170.40" stroke="#5CB270" stroke-width="2.3" stroke-opacity="0.9"/>
<line x1="1288.20" y1="156.40" x2="1288.20" y2="181.40" stroke="#5CB270" stroke-width="2.3" stroke-opacity="0.9"/>
<line x1="1297.80" y1="167.40" x2="1297.80" y2="192.40" stroke="#5CB270" stroke-width="2.3" stroke-opacity="0.9"/>
<line x1="1308.10" y1="167.40" x2="1308.10" y2="192.40" stroke="#5CB270" stroke-width="2.3" stroke-opacity="0.9"/>
<line x1="1314.30" y1="167.40" x2="1314.30" y2="192.40" stroke="#5CB270" stroke-width="2.3" stroke-opacity="0.9"/>
<line x1="1319.10" y1="171.00" x2="1319.10" y2="196.00" stroke="#5CB270" stroke-width="2.3" stroke-opacity="0.9"/>
<line x1="1321.20" y1="171.00" x2="1321.20" y2="196.00" stroke="#5CB270" stroke-width="2.3" stroke-opacity="0.9"/>
<line x1="1324.00" y1="171.00" x2="1324.00" y2="196.00" stroke="#5CB270" stroke-width="2.3" stroke-opacity="0.9"/>
<line x1="1325.30" y1="171.00" x2="1325.30" y2="196.00" stroke="#5CB270" stroke-width="2.3" stroke-opacity="0.9"/>
<line x1="1338.40" y1="171.00" x2="1338.40" y2="196.00" stroke="#5CB270" stroke-width="2.3" stroke-opacity="0.9"/>
<line x1="1352.60" y1="171.00" x2="1352.60" y2="196.00" stroke="#5CB270" stroke-width="2.3" stroke-opacity="0.9"/>
<line x1="1354.20" y1="171.00" x2="1354.20" y2="196.00" stroke="#5CB270" stroke-width="2.3" stroke-opacity="0.9"/>
<line x1="1360.40" y1="171.00" x2="1360.40" y2="196.00" stroke="#5CB270" stroke-width="2.3" stroke-opacity="0.9"/>
<line x1="1362.50" y1="171.00" x2="1362.50" y2="196.00" stroke="#5CB270" stroke-width="2.3" stroke-opacity="0.9"/>
<line x1="1363.90" y1="171.00" x2="1363.90" y2="196.00" stroke="#5CB270" stroke-width="2.3" stroke-opacity="0.9"/>
<line x1="1368.70" y1="171.00" x2="1368.70" y2="196.00" stroke="#5CB270" stroke-width="2.3" stroke-opacity="0.9"/>
<line x1="1370.80" y1="171.00" x2="1370.80" y2="196.00" stroke="#5CB270" stroke-width="2.3" stroke-opacity="0.9"/>
<line x1="1378.50" y1="176.50" x2="1378.50" y2="201.50" stroke="#5CB270" stroke-width="2.3" stroke-opacity="0.9"/>
<line x1="1380.30" y1="181.20" x2="1380.30" y2="206.20" stroke="#5CB270" stroke-width="2.3" stroke-opacity="0.9"/>
<line x1="1384.00" y1="185.20" x2="1384.00" y2="210.20" stroke="#5CB270" stroke-width="2.3" stroke-opacity="0.9"/>
<line x1="1386.00" y1="187.70" x2="1386.00" y2="212.70" stroke="#5CB270" stroke-width="2.3" stroke-opacity="0.9"/>
<line x1="1391.00" y1="202.50" x2="1391.00" y2="227.50" stroke="#5CB270" stroke-width="2.3" stroke-opacity="0.9"/>
<line x1="1397.90" y1="210.20" x2="1397.90" y2="235.20" stroke="#5CB270" stroke-width="2.3" stroke-opacity="0.9"/>
<line x1="1411.60" y1="210.20" x2="1411.60" y2="235.20" stroke="#5CB270" stroke-width="2.3" stroke-opacity="0.9"/>
<line x1="1414.00" y1="210.20" x2="1414.00" y2="235.20" stroke="#5CB270" stroke-width="2.3" stroke-opacity="0.9"/>
<line x1="1418.70" y1="210.20" x2="1418.70" y2="235.20" stroke="#5CB270" stroke-width="2.3" stroke-opacity="0.9"/>
<line x1="1438.00" y1="219.00" x2="1438.00" y2="244.00" stroke="#5CB270" stroke-width="2.3" stroke-opacity="0.9"/>
<line x1="1441.20" y1="219.00" x2="1441.20" y2="244.00" stroke="#5CB270" stroke-width="2.3" stroke-opacity="0.9"/>
<line x1="1444.20" y1="219.00" x2="1444.20" y2="244.00" stroke="#5CB270" stroke-width="2.3" stroke-opacity="0.9"/>
<line x1="1469.30" y1="228.10" x2="1469.30" y2="253.10" stroke="#5CB270" stroke-width="2.3" stroke-opacity="0.9"/>
<line x1="1479.30" y1="237.80" x2="1479.30" y2="262.80" stroke="#5CB270" stroke-width="2.3" stroke-opacity="0.9"/>
<line x1="1487.30" y1="237.80" x2="1487.30" y2="262.80" stroke="#5CB270" stroke-width="2.3" stroke-opacity="0.9"/>
<line x1="1489.80" y1="237.80" x2="1489.80" y2="262.80" stroke="#5CB270" stroke-width="2.3" stroke-opacity="0.9"/>
<line x1="1492.30" y1="237.80" x2="1492.30" y2="262.80" stroke="#5CB270" stroke-width="2.3" stroke-opacity="0.9"/>
<line x1="1496.80" y1="237.80" x2="1496.80" y2="262.80" stroke="#5CB270" stroke-width="2.3" stroke-opacity="0.9"/>
<line x1="1506.30" y1="242.80" x2="1506.30" y2="267.80" stroke="#5CB270" stroke-width="2.3" stroke-opacity="0.9"/>
<line x1="1549.40" y1="259.10" x2="1549.40" y2="284.10" stroke="#5CB270" stroke-width="2.3" stroke-opacity="0.9"/>
<line x1="1556.40" y1="259.10" x2="1556.40" y2="284.10" stroke="#5CB270" stroke-width="2.3" stroke-opacity="0.9"/>
<line x1="1562.00" y1="265.40" x2="1562.00" y2="290.40" stroke="#5CB270" stroke-width="2.3" stroke-opacity="0.9"/>
<line x1="1573.20" y1="265.40" x2="1573.20" y2="290.40" stroke="#5CB270" stroke-width="2.3" stroke-opacity="0.9"/>
<line x1="1579.50" y1="265.40" x2="1579.50" y2="290.40" stroke="#5CB270" stroke-width="2.3" stroke-opacity="0.9"/>
<line x1="1582.00" y1="265.40" x2="1582.00" y2="290.40" stroke="#5CB270" stroke-width="2.3" stroke-opacity="0.9"/>
<line x1="1584.50" y1="268.50" x2="1584.50" y2="293.50" stroke="#5CB270" stroke-width="2.3" stroke-opacity="0.9"/>
<line x1="1603.30" y1="271.60" x2="1603.30" y2="296.60" stroke="#5CB270" stroke-width="2.3" stroke-opacity="0.9"/>
<line x1="1625.30" y1="271.60" x2="1625.30" y2="296.60" stroke="#5CB270" stroke-width="2.3" stroke-opacity="0.9"/>
<line x1="1628.30" y1="271.60" x2="1628.30" y2="296.60" stroke="#5CB270" stroke-width="2.3" stroke-opacity="0.9"/>
<line x1="1630.30" y1="271.60" x2="1630.30" y2="296.60" stroke="#5CB270" stroke-width="2.3" stroke-opacity="0.9"/>
<line x1="1640.80" y1="271.60" x2="1640.80" y2="296.60" stroke="#5CB270" stroke-width="2.3" stroke-opacity="0.9"/>
<line x1="1643.30" y1="271.60" x2="1643.30" y2="296.60" stroke="#5CB270" stroke-width="2.3" stroke-opacity="0.9"/>
<line x1="1648.30" y1="271.60" x2="1648.30" y2="296.60" stroke="#5CB270" stroke-width="2.3" stroke-opacity="0.9"/>
<line x1="1660.90" y1="276.50" x2="1660.90" y2="301.50" stroke="#5CB270" stroke-width="2.3" stroke-opacity="0.9"/>
<line x1="1664.10" y1="281.60" x2="1664.10" y2="306.60" stroke="#5CB270" stroke-width="2.3" stroke-opacity="0.9"/>
<line x1="1676.40" y1="281.60" x2="1676.40" y2="306.60" stroke="#5CB270" stroke-width="2.3" stroke-opacity="0.9"/>
<line x1="1697.20" y1="281.60" x2="1697.20" y2="306.60" stroke="#5CB270" stroke-width="2.3" stroke-opacity="0.9"/>
<line x1="1700.20" y1="281.60" x2="1700.20" y2="306.60" stroke="#5CB270" stroke-width="2.3" stroke-opacity="0.9"/>
</g>
<rect x="994.00" y="95.00" width="720.00" height="415.00" fill="none" stroke="#343838" stroke-width="3.3"/>
<line x1="985.00" y1="492.00" x2="992.50" y2="492.00" stroke="#000" stroke-width="3.3"/>
<text x="977.50" y="500.60" font-size="23.6" text-anchor="end" fill="#000">0%</text>
<line x1="985.00" y1="397.50" x2="992.50" y2="397.50" stroke="#000" stroke-width="3.3"/>
<text x="977.50" y="406.10" font-size="23.6" text-anchor="end" fill="#000">25%</text>
<line x1="985.00" y1="303.00" x2="992.50" y2="303.00" stroke="#000" stroke-width="3.3"/>
<text x="977.50" y="311.60" font-size="23.6" text-anchor="end" fill="#000">50%</text>
<line x1="985.00" y1="208.50" x2="992.50" y2="208.50" stroke="#000" stroke-width="3.3"/>
<text x="977.50" y="217.10" font-size="23.6" text-anchor="end" fill="#000">75%</text>
<line x1="985.00" y1="114.00" x2="992.50" y2="114.00" stroke="#000" stroke-width="3.3"/>
<text x="977.50" y="122.60" font-size="23.6" text-anchor="end" fill="#000">100%</text>
<line x1="1025.70" y1="511.50" x2="1025.70" y2="518.50" stroke="#000" stroke-width="3.3"/>
<text x="1025.40" y="543.00" font-size="24" text-anchor="middle" fill="#000">0</text>
<line x1="1189.55" y1="511.50" x2="1189.55" y2="518.50" stroke="#000" stroke-width="3.3"/>
<text x="1189.25" y="543.00" font-size="24" text-anchor="middle" fill="#000">5</text>
<line x1="1353.40" y1="511.50" x2="1353.40" y2="518.50" stroke="#000" stroke-width="3.3"/>
<text x="1353.10" y="543.00" font-size="24" text-anchor="middle" fill="#000">10</text>
<line x1="1517.25" y1="511.50" x2="1517.25" y2="518.50" stroke="#000" stroke-width="3.3"/>
<text x="1516.95" y="543.00" font-size="24" text-anchor="middle" fill="#000">15</text>
<line x1="1681.10" y1="511.50" x2="1681.10" y2="518.50" stroke="#000" stroke-width="3.3"/>
<text x="1680.80" y="543.00" font-size="24" text-anchor="middle" fill="#000">20</text>
<text x="1354.00" y="576.40" font-size="30" text-anchor="middle" fill="#000">Time in years</text>
<text transform="translate(900.20 284.50) rotate(-90)" font-size="30" text-anchor="middle" fill="#000">Proportion without loss</text>
<text x="970.50" y="602.60" font-size="24" fill="#000">Number at risk: n (%)</text>
<rect x="971.70" y="614.80" width="742.30" height="38.40" fill="none" stroke="#111" stroke-width="1.7"/>
<text x="1026.50" y="640.80" font-size="21.5" text-anchor="middle" fill="#000">181 (100)</text>
<text x="1193.70" y="640.80" font-size="21.5" text-anchor="middle" fill="#000">173 (96)</text>
<text x="1358.40" y="640.80" font-size="21.5" text-anchor="middle" fill="#000">87 (48)</text>
<text x="1516.40" y="640.80" font-size="21.5" text-anchor="middle" fill="#000">43 (24)</text>
<text x="1711.90" y="640.80" font-size="21.5" text-anchor="end" fill="#000">17 (9)</text>
<text x="970.50" y="682.70" font-size="24" fill="#000">Cumulative number of events</text>
<rect x="971.70" y="691.80" width="742.30" height="38.40" fill="none" stroke="#111" stroke-width="1.7"/>
<text x="1026.50" y="719.90" font-size="21.5" text-anchor="middle" fill="#000">0</text>
<text x="1193.70" y="719.90" font-size="21.5" text-anchor="middle" fill="#000">3</text>
<text x="1358.40" y="719.90" font-size="21.5" text-anchor="middle" fill="#000">26</text>
<text x="1516.40" y="719.90" font-size="21.5" text-anchor="middle" fill="#000">43</text>
<text x="1685.00" y="719.90" font-size="21.5" text-anchor="middle" fill="#000">49</text>
<text x="970.50" y="757.60" font-size="24" fill="#000">Cumulative number of censoring</text>
<rect x="971.70" y="767.30" width="742.30" height="38.40" fill="none" stroke="#111" stroke-width="1.7"/>
<text x="1026.50" y="794.80" font-size="21.5" text-anchor="middle" fill="#000">0</text>
<text x="1193.70" y="794.80" font-size="21.5" text-anchor="middle" fill="#000">5</text>
<text x="1358.40" y="794.80" font-size="21.5" text-anchor="middle" fill="#000">68</text>
<text x="1516.40" y="794.80" font-size="21.5" text-anchor="middle" fill="#000">95</text>
<text x="1685.00" y="794.80" font-size="21.5" text-anchor="middle" fill="#000">115</text>
<text x="30.00" y="877.30" font-size="52" fill="#231F20">C</text>
<text x="89.40" y="876.90" font-size="30" font-weight="bold" fill="#231F20">Proteins associated with virological loss</text>
<text x="85.80" y="910.70" font-size="27.2" fill="#231F20">ART-naive HIV controllers (n=145 VC and 36 EC)</text>
<g fill-opacity="0.85">
<circle cx="302.4" cy="1347.6" r="8.5" fill="#3B1250"/>
<circle cx="180.5" cy="1375.4" r="8.5" fill="#3B1250"/>
<circle cx="240.3" cy="1375.4" r="8.5" fill="#3B1250"/>
<circle cx="162.7" cy="1429.0" r="8.5" fill="#3B1250"/>
<circle cx="306.2" cy="1419.5" r="8.5" fill="#3B1250"/>
<circle cx="309.2" cy="1430.8" r="8.5" fill="#3B1250"/>
<circle cx="278.4" cy="1434.0" r="8.5" fill="#3B1250"/>
<circle cx="331.7" cy="1434.5" r="8.5" fill="#3B1250"/>
<circle cx="332.5" cy="1439.5" r="8.5" fill="#3B1250"/>
<circle cx="362.5" cy="1429.0" r="8.5" fill="#3B1250"/>
<circle cx="353.0" cy="1438.3" r="8.5" fill="#3B1250"/>
<circle cx="359.3" cy="1442.0" r="8.5" fill="#3B1250"/>
<circle cx="365.1" cy="1448.3" r="8.5" fill="#3B1250"/>
<circle cx="231.1" cy="1449.8" r="8.5" fill="#3B1250"/>
<circle cx="242.8" cy="1455.8" r="8.5" fill="#3B1250"/>
<circle cx="290.4" cy="1455.3" r="8.5" fill="#3B1250"/>
<circle cx="305.4" cy="1455.3" r="8.5" fill="#3B1250"/>
<circle cx="315.5" cy="1455.8" r="8.5" fill="#3B1250"/>
<circle cx="340.5" cy="1455.3" r="8.5" fill="#3B1250"/>
<circle cx="344.3" cy="1455.8" r="8.5" fill="#3B1250"/>
<circle cx="400.6" cy="1455.8" r="8.5" fill="#3B1250"/>
<circle cx="361.8" cy="1460.3" r="8.5" fill="#3B1250"/>
<circle cx="374.3" cy="1462.8" r="8.5" fill="#3B1250"/>
<circle cx="411.9" cy="1464.6" r="8.5" fill="#3B1250"/>
<circle cx="188.0" cy="1472.3" r="8.5" fill="#3B1250"/>
<circle cx="188.0" cy="1472.3" r="8.5" fill="#3B1250"/>
<circle cx="255.3" cy="1472.3" r="8.5" fill="#3B1250"/>
<circle cx="257.9" cy="1472.3" r="8.5" fill="#3B1250"/>
<circle cx="280.4" cy="1465.3" r="8.5" fill="#3B1250"/>
<circle cx="277.9" cy="1472.3" r="8.5" fill="#3B1250"/>
<circle cx="300.4" cy="1472.3" r="8.5" fill="#3B1250"/>
<circle cx="316.7" cy="1472.8" r="8.5" fill="#3B1250"/>
<circle cx="348.0" cy="1470.3" r="8.5" fill="#3B1250"/>
<circle cx="358.0" cy="1470.8" r="8.5" fill="#3B1250"/>
<circle cx="368.1" cy="1472.3" r="8.5" fill="#3B1250"/>
<circle cx="376.8" cy="1472.8" r="8.5" fill="#3B1250"/>
<circle cx="389.3" cy="1472.3" r="8.5" fill="#3B1250"/>
<circle cx="409.4" cy="1470.3" r="8.5" fill="#3B1250"/>
<circle cx="431.9" cy="1472.3" r="8.5" fill="#3B1250"/>
<circle cx="240.3" cy="1480.4" r="8.5" fill="#3B1250"/>
<circle cx="330.5" cy="1477.9" r="8.5" fill="#3B1250"/>
<circle cx="415.6" cy="1474.1" r="8.5" fill="#3B1250"/>
<circle cx="539.6" cy="1319.6" r="8.5" fill="#3B1250"/>
<circle cx="657.9" cy="1337.6" r="8.5" fill="#3B1250"/>
<circle cx="575.7" cy="1370.7" r="8.5" fill="#3B1250"/>
<circle cx="584.0" cy="1379.4" r="8.5" fill="#3B1250"/>
<circle cx="598.5" cy="1378.9" r="8.5" fill="#3B1250"/>
<circle cx="524.4" cy="1388.2" r="8.5" fill="#3B1250"/>
<circle cx="658.4" cy="1376.4" r="8.5" fill="#3B1250"/>
<circle cx="719.2" cy="1380.7" r="8.5" fill="#3B1250"/>
<circle cx="730.5" cy="1378.9" r="8.5" fill="#3B1250"/>
<circle cx="750.5" cy="1375.2" r="8.5" fill="#3B1250"/>
<circle cx="686.7" cy="1401.5" r="8.5" fill="#3B1250"/>
<circle cx="725.5" cy="1407.2" r="8.5" fill="#3B1250"/>
<circle cx="621.6" cy="1407.2" r="8.5" fill="#3B1250"/>
<circle cx="627.8" cy="1409.7" r="8.5" fill="#3B1250"/>
<circle cx="621.1" cy="1417.7" r="8.5" fill="#3B1250"/>
<circle cx="641.6" cy="1424.0" r="8.5" fill="#3B1250"/>
<circle cx="650.4" cy="1420.2" r="8.5" fill="#3B1250"/>
<circle cx="649.6" cy="1431.5" r="8.5" fill="#3B1250"/>
<circle cx="662.4" cy="1434.8" r="8.5" fill="#3B1250"/>
<circle cx="684.2" cy="1419.5" r="8.5" fill="#3B1250"/>
<circle cx="695.4" cy="1429.0" r="8.5" fill="#3B1250"/>
<circle cx="736.8" cy="1438.3" r="8.5" fill="#3B1250"/>
<circle cx="721.7" cy="1455.8" r="8.5" fill="#3B1250"/>
<circle cx="616.5" cy="1429.0" r="8.5" fill="#3B1250"/>
<circle cx="607.8" cy="1435.3" r="8.5" fill="#3B1250"/>
<circle cx="520.1" cy="1437.8" r="8.5" fill="#3B1250"/>
<circle cx="532.6" cy="1437.8" r="8.5" fill="#3B1250"/>
<circle cx="540.2" cy="1427.8" r="8.5" fill="#3B1250"/>
<circle cx="547.7" cy="1432.8" r="8.5" fill="#3B1250"/>
<circle cx="556.4" cy="1435.3" r="8.5" fill="#3B1250"/>
<circle cx="570.2" cy="1437.8" r="8.5" fill="#3B1250"/>
<circle cx="590.2" cy="1437.8" r="8.5" fill="#3B1250"/>
<circle cx="596.5" cy="1442.8" r="8.5" fill="#3B1250"/>
<circle cx="605.3" cy="1449.0" r="8.5" fill="#3B1250"/>
<circle cx="616.5" cy="1457.8" r="8.5" fill="#3B1250"/>
<circle cx="527.6" cy="1455.3" r="8.5" fill="#3B1250"/>
<circle cx="577.7" cy="1454.1" r="8.5" fill="#3B1250"/>
<circle cx="649.1" cy="1455.3" r="8.5" fill="#3B1250"/>
<circle cx="646.6" cy="1462.8" r="8.5" fill="#3B1250"/>
<circle cx="661.6" cy="1462.8" r="8.5" fill="#3B1250"/>
<circle cx="676.2" cy="1459.6" r="8.5" fill="#3B1250"/>
<circle cx="660.4" cy="1471.6" r="8.5" fill="#3B1250"/>
<circle cx="645.3" cy="1474.1" r="8.5" fill="#3B1250"/>
<circle cx="630.3" cy="1471.6" r="8.5" fill="#3B1250"/>
<circle cx="675.4" cy="1479.1" r="8.5" fill="#3B1250"/>
<circle cx="609.0" cy="1481.6" r="8.5" fill="#3B1250"/>
<circle cx="405.1" cy="1486.0" r="8.5" fill="#555657"/>
<circle cx="431.2" cy="1472.3" r="8.5" fill="#3B1250"/>
<circle cx="529.8" cy="1453.5" r="8.5" fill="#3B1250"/>
<circle cx="554.8" cy="1454.5" r="8.5" fill="#3B1250"/>
<circle cx="552.8" cy="1475.4" r="8.5" fill="#3B1250"/>
<circle cx="505.8" cy="1474.0" r="8.5" fill="#3B1250"/>
<circle cx="620.3" cy="1473.6" r="8.5" fill="#3B1250"/>
<circle cx="407.3" cy="1500.1" r="8.5" fill="#555657"/>
<circle cx="557.7" cy="1500.5" r="8.5" fill="#555657"/>
<circle cx="463.9" cy="1512.6" r="8.5" fill="#555657"/>
<circle cx="492.1" cy="1509.2" r="8.5" fill="#555657"/>
<circle cx="526.2" cy="1500.2" r="8.5" fill="#555657"/>
<circle cx="450.5" cy="1499.8" r="8.5" fill="#555657"/>
<circle cx="486.0" cy="1510.0" r="8.5" fill="#555657"/>
<circle cx="441.4" cy="1498.7" r="8.5" fill="#555657"/>
<circle cx="469.4" cy="1510.1" r="8.5" fill="#555657"/>
<circle cx="489.5" cy="1507.7" r="8.5" fill="#555657"/>
<circle cx="340.2" cy="1480.1" r="8.5" fill="#555657"/>
<circle cx="492.9" cy="1507.1" r="8.5" fill="#555657"/>
<circle cx="498.3" cy="1493.8" r="8.5" fill="#555657"/>
<circle cx="439.8" cy="1501.3" r="8.5" fill="#555657"/>
<circle cx="503.7" cy="1499.3" r="8.5" fill="#555657"/>
<circle cx="525.2" cy="1497.9" r="8.5" fill="#555657"/>
<circle cx="319.6" cy="1482.7" r="8.5" fill="#555657"/>
<circle cx="526.1" cy="1509.6" r="8.5" fill="#555657"/>
<circle cx="635.1" cy="1464.2" r="8.5" fill="#3B1250"/>
<circle cx="577.2" cy="1501.2" r="8.5" fill="#555657"/>
<circle cx="472.8" cy="1511.7" r="8.5" fill="#555657"/>
<circle cx="505.7" cy="1502.8" r="8.5" fill="#555657"/>
<circle cx="346.6" cy="1488.2" r="8.5" fill="#555657"/>
<circle cx="378.6" cy="1482.0" r="8.5" fill="#555657"/>
<circle cx="534.1" cy="1504.7" r="8.5" fill="#555657"/>
<circle cx="392.3" cy="1495.3" r="8.5" fill="#555657"/>
<circle cx="482.4" cy="1510.9" r="8.5" fill="#555657"/>
<circle cx="463.0" cy="1507.2" r="8.5" fill="#555657"/>
<circle cx="563.3" cy="1490.5" r="8.5" fill="#555657"/>
<circle cx="312.4" cy="1482.8" r="8.5" fill="#555657"/>
<circle cx="479.4" cy="1512.4" r="8.5" fill="#555657"/>
<circle cx="576.5" cy="1505.3" r="8.5" fill="#555657"/>
<circle cx="441.4" cy="1500.8" r="8.5" fill="#555657"/>
<circle cx="399.5" cy="1503.5" r="8.5" fill="#555657"/>
<circle cx="488.4" cy="1509.8" r="8.5" fill="#555657"/>
<circle cx="474.2" cy="1512.9" r="8.5" fill="#555657"/>
<circle cx="558.0" cy="1494.0" r="8.5" fill="#555657"/>
<circle cx="503.6" cy="1511.3" r="8.5" fill="#555657"/>
<circle cx="439.8" cy="1506.6" r="8.5" fill="#555657"/>
<circle cx="452.4" cy="1511.7" r="8.5" fill="#555657"/>
<circle cx="526.1" cy="1497.2" r="8.5" fill="#555657"/>
<circle cx="544.2" cy="1465.5" r="8.5" fill="#3B1250"/>
<circle cx="581.6" cy="1462.1" r="8.5" fill="#3B1250"/>
<circle cx="431.2" cy="1509.9" r="8.5" fill="#555657"/>
<circle cx="524.7" cy="1502.6" r="8.5" fill="#555657"/>
<circle cx="473.1" cy="1513.1" r="8.5" fill="#555657"/>
<circle cx="485.7" cy="1511.1" r="8.5" fill="#555657"/>
<circle cx="395.0" cy="1493.0" r="8.5" fill="#555657"/>
<circle cx="526.2" cy="1497.9" r="8.5" fill="#555657"/>
<circle cx="582.9" cy="1488.2" r="8.5" fill="#555657"/>
<circle cx="437.7" cy="1497.4" r="8.5" fill="#555657"/>
<circle cx="307.8" cy="1491.2" r="8.5" fill="#555657"/>
<circle cx="525.1" cy="1471.2" r="8.5" fill="#3B1250"/>
<circle cx="547.1" cy="1490.0" r="8.5" fill="#555657"/>
<circle cx="619.2" cy="1460.1" r="8.5" fill="#3B1250"/>
<circle cx="537.2" cy="1503.7" r="8.5" fill="#555657"/>
<circle cx="374.5" cy="1498.7" r="8.5" fill="#555657"/>
<circle cx="505.4" cy="1486.5" r="8.5" fill="#555657"/>
<circle cx="466.4" cy="1511.4" r="8.5" fill="#555657"/>
<circle cx="583.6" cy="1499.1" r="8.5" fill="#555657"/>
<circle cx="434.5" cy="1512.7" r="8.5" fill="#555657"/>
<circle cx="443.9" cy="1503.0" r="8.5" fill="#555657"/>
<circle cx="567.0" cy="1462.9" r="8.5" fill="#3B1250"/>
<circle cx="565.4" cy="1504.0" r="8.5" fill="#555657"/>
<circle cx="589.2" cy="1474.3" r="8.5" fill="#3B1250"/>
<circle cx="417.6" cy="1504.4" r="8.5" fill="#555657"/>
<circle cx="637.7" cy="1503.7" r="8.5" fill="#555657"/>
<circle cx="451.6" cy="1511.4" r="8.5" fill="#555657"/>
<circle cx="354.2" cy="1505.3" r="8.5" fill="#555657"/>
<circle cx="588.8" cy="1446.8" r="8.5" fill="#3B1250"/>
<circle cx="492.7" cy="1511.3" r="8.5" fill="#555657"/>
<circle cx="556.3" cy="1466.7" r="8.5" fill="#3B1250"/>
<circle cx="567.0" cy="1501.9" r="8.5" fill="#555657"/>
<circle cx="567.1" cy="1497.1" r="8.5" fill="#555657"/>
<circle cx="411.7" cy="1505.7" r="8.5" fill="#555657"/>
<circle cx="547.9" cy="1499.8" r="8.5" fill="#555657"/>
<circle cx="555.5" cy="1509.5" r="8.5" fill="#555657"/>
<circle cx="526.7" cy="1502.6" r="8.5" fill="#555657"/>
<circle cx="424.6" cy="1510.9" r="8.5" fill="#555657"/>
<circle cx="574.0" cy="1494.0" r="8.5" fill="#555657"/>
<circle cx="408.7" cy="1490.5" r="8.5" fill="#555657"/>
<circle cx="401.6" cy="1503.9" r="8.5" fill="#555657"/>
<circle cx="619.2" cy="1455.8" r="8.5" fill="#3B1250"/>
<circle cx="537.9" cy="1485.9" r="8.5" fill="#555657"/>
<circle cx="430.0" cy="1488.6" r="8.5" fill="#555657"/>
<circle cx="571.9" cy="1494.7" r="8.5" fill="#555657"/>
<circle cx="490.6" cy="1508.7" r="8.5" fill="#555657"/>
<circle cx="613.4" cy="1457.7" r="8.5" fill="#3B1250"/>
<circle cx="439.5" cy="1494.1" r="8.5" fill="#555657"/>
<circle cx="506.5" cy="1496.2" r="8.5" fill="#555657"/>
<circle cx="478.0" cy="1512.8" r="8.5" fill="#555657"/>
<circle cx="561.5" cy="1505.1" r="8.5" fill="#555657"/>
<circle cx="430.6" cy="1506.7" r="8.5" fill="#555657"/>
<circle cx="457.6" cy="1502.2" r="8.5" fill="#555657"/>
<circle cx="617.7" cy="1454.8" r="8.5" fill="#3B1250"/>
<circle cx="408.6" cy="1489.2" r="8.5" fill="#555657"/>
<circle cx="472.9" cy="1513.1" r="8.5" fill="#555657"/>
<circle cx="515.6" cy="1498.6" r="8.5" fill="#555657"/>
<circle cx="512.0" cy="1499.2" r="8.5" fill="#555657"/>
<circle cx="554.2" cy="1489.8" r="8.5" fill="#555657"/>
<circle cx="433.0" cy="1501.0" r="8.5" fill="#555657"/>
<circle cx="548.2" cy="1499.4" r="8.5" fill="#555657"/>
<circle cx="581.2" cy="1496.2" r="8.5" fill="#555657"/>
<circle cx="310.7" cy="1492.8" r="8.5" fill="#555657"/>
<circle cx="557.2" cy="1500.0" r="8.5" fill="#555657"/>
<circle cx="469.6" cy="1511.1" r="8.5" fill="#555657"/>
<circle cx="472.3" cy="1512.9" r="8.5" fill="#555657"/>
<circle cx="369.9" cy="1495.2" r="8.5" fill="#555657"/>
<circle cx="564.7" cy="1488.4" r="8.5" fill="#555657"/>
<circle cx="362.7" cy="1494.2" r="8.5" fill="#555657"/>
<circle cx="601.4" cy="1461.4" r="8.5" fill="#3B1250"/>
<circle cx="485.7" cy="1509.4" r="8.5" fill="#555657"/>
<circle cx="310.3" cy="1486.8" r="8.5" fill="#555657"/>
<circle cx="510.7" cy="1495.1" r="8.5" fill="#555657"/>
<circle cx="425.1" cy="1511.3" r="8.5" fill="#555657"/>
<circle cx="568.0" cy="1490.7" r="8.5" fill="#555657"/>
<circle cx="552.6" cy="1495.2" r="8.5" fill="#555657"/>
<circle cx="387.7" cy="1511.7" r="8.5" fill="#555657"/>
<circle cx="553.8" cy="1509.0" r="8.5" fill="#555657"/>
<circle cx="550.4" cy="1485.3" r="8.5" fill="#555657"/>
<circle cx="417.8" cy="1482.9" r="8.5" fill="#555657"/>
<circle cx="560.8" cy="1488.7" r="8.5" fill="#555657"/>
<circle cx="541.1" cy="1512.4" r="8.5" fill="#555657"/>
<circle cx="602.9" cy="1453.6" r="8.5" fill="#3B1250"/>
<circle cx="478.1" cy="1513.1" r="8.5" fill="#555657"/>
<circle cx="437.8" cy="1492.5" r="8.5" fill="#555657"/>
<circle cx="381.7" cy="1509.6" r="8.5" fill="#555657"/>
<circle cx="447.3" cy="1508.9" r="8.5" fill="#555657"/>
<circle cx="576.0" cy="1504.9" r="8.5" fill="#555657"/>
<circle cx="581.4" cy="1471.5" r="8.5" fill="#3B1250"/>
<circle cx="334.5" cy="1502.7" r="8.5" fill="#555657"/>
<circle cx="313.3" cy="1495.1" r="8.5" fill="#555657"/>
<circle cx="527.8" cy="1448.7" r="8.5" fill="#3B1250"/>
<circle cx="519.8" cy="1492.1" r="8.5" fill="#555657"/>
<circle cx="563.8" cy="1496.9" r="8.5" fill="#555657"/>
<circle cx="575.7" cy="1488.1" r="8.5" fill="#555657"/>
<circle cx="314.7" cy="1496.0" r="8.5" fill="#555657"/>
<circle cx="554.7" cy="1495.7" r="8.5" fill="#555657"/>
<circle cx="399.9" cy="1502.0" r="8.5" fill="#555657"/>
<circle cx="362.8" cy="1490.9" r="8.5" fill="#555657"/>
<circle cx="554.5" cy="1493.8" r="8.5" fill="#555657"/>
<circle cx="432.6" cy="1488.0" r="8.5" fill="#555657"/>
<circle cx="454.3" cy="1512.8" r="8.5" fill="#555657"/>
<circle cx="507.0" cy="1494.0" r="8.5" fill="#555657"/>
<circle cx="574.9" cy="1444.9" r="8.5" fill="#3B1250"/>
<circle cx="522.2" cy="1500.6" r="8.5" fill="#555657"/>
<circle cx="570.0" cy="1447.7" r="8.5" fill="#3B1250"/>
<circle cx="531.1" cy="1492.9" r="8.5" fill="#555657"/>
<circle cx="385.7" cy="1507.3" r="8.5" fill="#555657"/>
<circle cx="471.0" cy="1512.7" r="8.5" fill="#555657"/>
<circle cx="568.5" cy="1492.4" r="8.5" fill="#555657"/>
<circle cx="413.5" cy="1507.3" r="8.5" fill="#555657"/>
<circle cx="468.6" cy="1512.9" r="8.5" fill="#555657"/>
<circle cx="468.3" cy="1511.8" r="8.5" fill="#555657"/>
<circle cx="343.2" cy="1492.0" r="8.5" fill="#555657"/>
<circle cx="477.1" cy="1513.2" r="8.5" fill="#555657"/>
<circle cx="490.8" cy="1508.5" r="8.5" fill="#555657"/>
<circle cx="583.5" cy="1450.7" r="8.5" fill="#3B1250"/>
<circle cx="535.6" cy="1484.7" r="8.5" fill="#555657"/>
<circle cx="629.0" cy="1463.7" r="8.5" fill="#3B1250"/>
<circle cx="495.3" cy="1512.2" r="8.5" fill="#555657"/>
<circle cx="525.8" cy="1447.2" r="8.5" fill="#3B1250"/>
<circle cx="458.9" cy="1508.8" r="8.5" fill="#555657"/>
<circle cx="631.4" cy="1470.2" r="8.5" fill="#3B1250"/>
<circle cx="390.4" cy="1496.3" r="8.5" fill="#555657"/>
<circle cx="444.0" cy="1499.9" r="8.5" fill="#555657"/>
<circle cx="468.7" cy="1512.2" r="8.5" fill="#555657"/>
<circle cx="539.5" cy="1512.6" r="8.5" fill="#555657"/>
<circle cx="325.5" cy="1483.2" r="8.5" fill="#555657"/>
<circle cx="522.5" cy="1451.9" r="8.5" fill="#3B1250"/>
<circle cx="567.4" cy="1492.9" r="8.5" fill="#555657"/>
<circle cx="584.0" cy="1501.7" r="8.5" fill="#555657"/>
<circle cx="559.1" cy="1474.8" r="8.5" fill="#3B1250"/>
<circle cx="531.9" cy="1501.4" r="8.5" fill="#555657"/>
<circle cx="539.0" cy="1469.7" r="8.5" fill="#3B1250"/>
<circle cx="516.3" cy="1505.7" r="8.5" fill="#555657"/>
<circle cx="504.2" cy="1499.2" r="8.5" fill="#555657"/>
<circle cx="502.1" cy="1508.7" r="8.5" fill="#555657"/>
<circle cx="492.8" cy="1511.7" r="8.5" fill="#555657"/>
<circle cx="579.8" cy="1457.2" r="8.5" fill="#3B1250"/>
<circle cx="505.1" cy="1474.4" r="8.5" fill="#3B1250"/>
<circle cx="473.4" cy="1512.4" r="8.5" fill="#555657"/>
<circle cx="442.0" cy="1507.4" r="8.5" fill="#555657"/>
<circle cx="451.4" cy="1502.1" r="8.5" fill="#555657"/>
<circle cx="478.5" cy="1512.7" r="8.5" fill="#555657"/>
<circle cx="371.0" cy="1488.9" r="8.5" fill="#555657"/>
<circle cx="477.6" cy="1512.3" r="8.5" fill="#555657"/>
<circle cx="462.9" cy="1508.5" r="8.5" fill="#555657"/>
<circle cx="559.8" cy="1493.3" r="8.5" fill="#555657"/>
<circle cx="318.8" cy="1503.4" r="8.5" fill="#555657"/>
<circle cx="520.3" cy="1509.4" r="8.5" fill="#555657"/>
<circle cx="369.6" cy="1496.4" r="8.5" fill="#555657"/>
<circle cx="599.2" cy="1500.5" r="8.5" fill="#555657"/>
<circle cx="465.4" cy="1511.6" r="8.5" fill="#555657"/>
<circle cx="552.6" cy="1509.6" r="8.5" fill="#555657"/>
<circle cx="450.4" cy="1506.9" r="8.5" fill="#555657"/>
<circle cx="432.6" cy="1507.9" r="8.5" fill="#555657"/>
<circle cx="456.4" cy="1503.5" r="8.5" fill="#555657"/>
<circle cx="531.9" cy="1497.1" r="8.5" fill="#555657"/>
<circle cx="317.5" cy="1500.9" r="8.5" fill="#555657"/>
<circle cx="397.0" cy="1510.8" r="8.5" fill="#555657"/>
<circle cx="553.1" cy="1452.4" r="8.5" fill="#3B1250"/>
<circle cx="500.1" cy="1506.1" r="8.5" fill="#555657"/>
<circle cx="519.6" cy="1507.2" r="8.5" fill="#555657"/>
<circle cx="522.4" cy="1473.0" r="8.5" fill="#3B1250"/>
<circle cx="492.3" cy="1510.8" r="8.5" fill="#555657"/>
<circle cx="475.1" cy="1512.6" r="8.5" fill="#555657"/>
<circle cx="513.4" cy="1495.5" r="8.5" fill="#555657"/>
<circle cx="465.8" cy="1510.4" r="8.5" fill="#555657"/>
<circle cx="603.1" cy="1470.4" r="8.5" fill="#3B1250"/>
<circle cx="500.9" cy="1499.6" r="8.5" fill="#555657"/>
<circle cx="472.1" cy="1512.9" r="8.5" fill="#555657"/>
<circle cx="465.7" cy="1510.7" r="8.5" fill="#555657"/>
<circle cx="507.4" cy="1495.3" r="8.5" fill="#555657"/>
<circle cx="583.3" cy="1490.9" r="8.5" fill="#555657"/>
<circle cx="461.8" cy="1512.2" r="8.5" fill="#555657"/>
<circle cx="462.5" cy="1511.6" r="8.5" fill="#555657"/>
<circle cx="552.6" cy="1492.6" r="8.5" fill="#555657"/>
<circle cx="503.4" cy="1501.8" r="8.5" fill="#555657"/>
<circle cx="552.2" cy="1503.9" r="8.5" fill="#555657"/>
<circle cx="559.2" cy="1457.9" r="8.5" fill="#3B1250"/>
<circle cx="480.5" cy="1512.8" r="8.5" fill="#555657"/>
<circle cx="445.0" cy="1501.4" r="8.5" fill="#555657"/>
<circle cx="438.8" cy="1512.3" r="8.5" fill="#555657"/>
<circle cx="501.6" cy="1506.0" r="8.5" fill="#555657"/>
<circle cx="414.2" cy="1493.1" r="8.5" fill="#555657"/>
<circle cx="569.3" cy="1503.7" r="8.5" fill="#555657"/>
<circle cx="543.8" cy="1470.1" r="8.5" fill="#3B1250"/>
<circle cx="369.8" cy="1504.8" r="8.5" fill="#555657"/>
<circle cx="422.1" cy="1472.7" r="8.5" fill="#3B1250"/>
<circle cx="393.0" cy="1498.4" r="8.5" fill="#555657"/>
<circle cx="444.3" cy="1506.7" r="8.5" fill="#555657"/>
<circle cx="412.1" cy="1500.6" r="8.5" fill="#555657"/>
<circle cx="447.4" cy="1510.7" r="8.5" fill="#555657"/>
<circle cx="555.4" cy="1450.0" r="8.5" fill="#3B1250"/>
<circle cx="443.1" cy="1503.7" r="8.5" fill="#555657"/>
<circle cx="532.5" cy="1491.3" r="8.5" fill="#555657"/>
<circle cx="537.5" cy="1505.3" r="8.5" fill="#555657"/>
<circle cx="364.4" cy="1501.8" r="8.5" fill="#555657"/>
<circle cx="437.6" cy="1512.9" r="8.5" fill="#555657"/>
<circle cx="405.0" cy="1505.6" r="8.5" fill="#555657"/>
<circle cx="497.2" cy="1512.9" r="8.5" fill="#555657"/>
<circle cx="519.7" cy="1495.8" r="8.5" fill="#555657"/>
<circle cx="437.8" cy="1509.9" r="8.5" fill="#555657"/>
<circle cx="481.3" cy="1512.5" r="8.5" fill="#555657"/>
<circle cx="346.2" cy="1505.9" r="8.5" fill="#555657"/>
<circle cx="423.8" cy="1504.6" r="8.5" fill="#555657"/>
<circle cx="523.5" cy="1458.4" r="8.5" fill="#3B1250"/>
<circle cx="594.1" cy="1503.4" r="8.5" fill="#555657"/>
<circle cx="377.5" cy="1479.5" r="8.5" fill="#555657"/>
<circle cx="553.7" cy="1503.3" r="8.5" fill="#555657"/>
<circle cx="315.7" cy="1490.1" r="8.5" fill="#555657"/>
<circle cx="330.0" cy="1498.7" r="8.5" fill="#555657"/>
<circle cx="475.5" cy="1512.7" r="8.5" fill="#555657"/>
<circle cx="469.0" cy="1511.9" r="8.5" fill="#555657"/>
<circle cx="501.2" cy="1489.0" r="8.5" fill="#555657"/>
<circle cx="308.8" cy="1497.2" r="8.5" fill="#555657"/>
<circle cx="477.1" cy="1513.0" r="8.5" fill="#555657"/>
<circle cx="469.3" cy="1513.0" r="8.5" fill="#555657"/>
<circle cx="369.5" cy="1489.0" r="8.5" fill="#555657"/>
<circle cx="356.6" cy="1481.4" r="8.5" fill="#555657"/>
<circle cx="407.9" cy="1483.6" r="8.5" fill="#555657"/>
<circle cx="540.8" cy="1505.8" r="8.5" fill="#555657"/>
<circle cx="428.3" cy="1486.7" r="8.5" fill="#555657"/>
<circle cx="465.8" cy="1512.9" r="8.5" fill="#555657"/>
<circle cx="475.5" cy="1513.1" r="8.5" fill="#555657"/>
<circle cx="502.9" cy="1506.5" r="8.5" fill="#555657"/>
<circle cx="510.3" cy="1510.0" r="8.5" fill="#555657"/>
<circle cx="410.2" cy="1507.1" r="8.5" fill="#555657"/>
<circle cx="346.6" cy="1483.1" r="8.5" fill="#555657"/>
<circle cx="500.9" cy="1497.3" r="8.5" fill="#555657"/>
<circle cx="455.4" cy="1504.3" r="8.5" fill="#555657"/>
<circle cx="467.3" cy="1510.6" r="8.5" fill="#555657"/>
<circle cx="469.8" cy="1513.1" r="8.5" fill="#555657"/>
<circle cx="510.6" cy="1475.1" r="8.5" fill="#3B1250"/>
<circle cx="471.1" cy="1513.0" r="8.5" fill="#555657"/>
<circle cx="503.4" cy="1509.8" r="8.5" fill="#555657"/>
<circle cx="476.2" cy="1512.9" r="8.5" fill="#555657"/>
<circle cx="512.2" cy="1474.6" r="8.5" fill="#3B1250"/>
<circle cx="448.7" cy="1501.7" r="8.5" fill="#555657"/>
<circle cx="459.2" cy="1508.9" r="8.5" fill="#555657"/>
<circle cx="378.6" cy="1512.3" r="8.5" fill="#555657"/>
<circle cx="518.4" cy="1484.7" r="8.5" fill="#555657"/>
<circle cx="472.6" cy="1513.0" r="8.5" fill="#555657"/>
<circle cx="524.7" cy="1499.7" r="8.5" fill="#555657"/>
<circle cx="550.9" cy="1504.7" r="8.5" fill="#555657"/>
<circle cx="478.2" cy="1512.7" r="8.5" fill="#555657"/>
<circle cx="474.3" cy="1512.9" r="8.5" fill="#555657"/>
<circle cx="461.6" cy="1512.5" r="8.5" fill="#555657"/>
<circle cx="562.9" cy="1504.4" r="8.5" fill="#555657"/>
<circle cx="471.1" cy="1513.0" r="8.5" fill="#555657"/>
<circle cx="582.3" cy="1475.5" r="8.5" fill="#3B1250"/>
<circle cx="590.1" cy="1462.6" r="8.5" fill="#3B1250"/>
<circle cx="578.2" cy="1492.9" r="8.5" fill="#555657"/>
<circle cx="473.5" cy="1512.9" r="8.5" fill="#555657"/>
<circle cx="387.6" cy="1473.0" r="8.5" fill="#3B1250"/>
<circle cx="562.3" cy="1487.3" r="8.5" fill="#555657"/>
<circle cx="549.9" cy="1505.8" r="8.5" fill="#555657"/>
<circle cx="607.1" cy="1460.0" r="8.5" fill="#3B1250"/>
<circle cx="508.6" cy="1503.6" r="8.5" fill="#555657"/>
<circle cx="517.3" cy="1486.9" r="8.5" fill="#555657"/>
<circle cx="447.5" cy="1506.4" r="8.5" fill="#555657"/>
<circle cx="582.3" cy="1485.0" r="8.5" fill="#555657"/>
<circle cx="432.6" cy="1500.8" r="8.5" fill="#555657"/>
<circle cx="562.0" cy="1499.8" r="8.5" fill="#555657"/>
<circle cx="553.7" cy="1509.6" r="8.5" fill="#555657"/>
<circle cx="466.1" cy="1510.4" r="8.5" fill="#555657"/>
<circle cx="525.4" cy="1493.7" r="8.5" fill="#555657"/>
<circle cx="486.4" cy="1510.0" r="8.5" fill="#555657"/>
<circle cx="497.1" cy="1503.8" r="8.5" fill="#555657"/>
<circle cx="434.3" cy="1507.9" r="8.5" fill="#555657"/>
<circle cx="511.9" cy="1506.0" r="8.5" fill="#555657"/>
<circle cx="493.4" cy="1506.8" r="8.5" fill="#555657"/>
<circle cx="372.1" cy="1480.5" r="8.5" fill="#555657"/>
<circle cx="316.8" cy="1494.8" r="8.5" fill="#555657"/>
<circle cx="553.4" cy="1500.5" r="8.5" fill="#555657"/>
<circle cx="569.2" cy="1506.7" r="8.5" fill="#555657"/>
<circle cx="377.4" cy="1491.9" r="8.5" fill="#555657"/>
<circle cx="512.0" cy="1511.1" r="8.5" fill="#555657"/>
<circle cx="552.4" cy="1506.4" r="8.5" fill="#555657"/>
<circle cx="423.1" cy="1491.5" r="8.5" fill="#555657"/>
<circle cx="628.0" cy="1497.0" r="8.5" fill="#555657"/>
<circle cx="536.6" cy="1508.0" r="8.5" fill="#555657"/>
<circle cx="551.1" cy="1509.2" r="8.5" fill="#555657"/>
<circle cx="567.8" cy="1506.6" r="8.5" fill="#555657"/>
<circle cx="483.8" cy="1510.6" r="8.5" fill="#555657"/>
<circle cx="468.9" cy="1512.9" r="8.5" fill="#555657"/>
<circle cx="570.2" cy="1506.9" r="8.5" fill="#555657"/>
<circle cx="517.8" cy="1504.6" r="8.5" fill="#555657"/>
<circle cx="388.0" cy="1505.7" r="8.5" fill="#555657"/>
<circle cx="390.0" cy="1472.4" r="8.5" fill="#3B1250"/>
<circle cx="558.5" cy="1494.9" r="8.5" fill="#555657"/>
<circle cx="558.9" cy="1475.5" r="8.5" fill="#3B1250"/>
<circle cx="630.8" cy="1458.3" r="8.5" fill="#3B1250"/>
<circle cx="472.0" cy="1513.0" r="8.5" fill="#555657"/>
<circle cx="426.5" cy="1504.9" r="8.5" fill="#555657"/>
<circle cx="469.3" cy="1512.7" r="8.5" fill="#555657"/>
<circle cx="607.8" cy="1468.8" r="8.5" fill="#3B1250"/>
<circle cx="575.0" cy="1490.6" r="8.5" fill="#555657"/>
<circle cx="450.8" cy="1512.5" r="8.5" fill="#555657"/>
<circle cx="582.9" cy="1487.4" r="8.5" fill="#555657"/>
<circle cx="549.4" cy="1505.4" r="8.5" fill="#555657"/>
<circle cx="493.3" cy="1506.4" r="8.5" fill="#555657"/>
<circle cx="571.8" cy="1505.0" r="8.5" fill="#555657"/>
<circle cx="479.7" cy="1512.9" r="8.5" fill="#555657"/>
<circle cx="609.7" cy="1505.0" r="8.5" fill="#555657"/>
<circle cx="573.8" cy="1487.5" r="8.5" fill="#555657"/>
<circle cx="582.3" cy="1499.5" r="8.5" fill="#555657"/>
<circle cx="466.3" cy="1511.6" r="8.5" fill="#555657"/>
<circle cx="344.1" cy="1471.7" r="8.5" fill="#3B1250"/>
<circle cx="469.6" cy="1512.7" r="8.5" fill="#555657"/>
<circle cx="399.6" cy="1508.7" r="8.5" fill="#555657"/>
<circle cx="450.5" cy="1507.4" r="8.5" fill="#555657"/>
<circle cx="413.1" cy="1493.5" r="8.5" fill="#555657"/>
<circle cx="562.5" cy="1470.3" r="8.5" fill="#3B1250"/>
<circle cx="552.5" cy="1509.4" r="8.5" fill="#555657"/>
<circle cx="439.1" cy="1495.4" r="8.5" fill="#555657"/>
<circle cx="561.0" cy="1491.6" r="8.5" fill="#555657"/>
<circle cx="493.3" cy="1507.2" r="8.5" fill="#555657"/>
<circle cx="508.6" cy="1486.7" r="8.5" fill="#555657"/>
<circle cx="550.0" cy="1491.2" r="8.5" fill="#555657"/>
<circle cx="549.6" cy="1489.2" r="8.5" fill="#555657"/>
<circle cx="537.8" cy="1488.0" r="8.5" fill="#555657"/>
<circle cx="497.8" cy="1503.6" r="8.5" fill="#555657"/>
<circle cx="508.2" cy="1492.9" r="8.5" fill="#555657"/>
<circle cx="510.3" cy="1485.6" r="8.5" fill="#555657"/>
<circle cx="510.7" cy="1500.0" r="8.5" fill="#555657"/>
<circle cx="569.8" cy="1492.3" r="8.5" fill="#555657"/>
<circle cx="577.9" cy="1498.6" r="8.5" fill="#555657"/>
<circle cx="468.4" cy="1512.7" r="8.5" fill="#555657"/>
<circle cx="549.4" cy="1489.1" r="8.5" fill="#555657"/>
<circle cx="378.8" cy="1497.7" r="8.5" fill="#555657"/>
<circle cx="579.1" cy="1501.9" r="8.5" fill="#555657"/>
<circle cx="492.8" cy="1504.0" r="8.5" fill="#555657"/>
<circle cx="501.4" cy="1493.2" r="8.5" fill="#555657"/>
<circle cx="452.4" cy="1512.2" r="8.5" fill="#555657"/>
<circle cx="471.1" cy="1511.9" r="8.5" fill="#555657"/>
<circle cx="517.6" cy="1500.7" r="8.5" fill="#555657"/>
<circle cx="551.7" cy="1495.2" r="8.5" fill="#555657"/>
<circle cx="482.1" cy="1511.5" r="8.5" fill="#555657"/>
<circle cx="531.0" cy="1470.8" r="8.5" fill="#3B1250"/>
<circle cx="311.0" cy="1483.0" r="8.5" fill="#555657"/>
<circle cx="384.4" cy="1495.0" r="8.5" fill="#555657"/>
<circle cx="461.1" cy="1506.4" r="8.5" fill="#555657"/>
<circle cx="473.1" cy="1512.7" r="8.5" fill="#555657"/>
<circle cx="340.8" cy="1500.2" r="8.5" fill="#555657"/>
<circle cx="608.6" cy="1451.3" r="8.5" fill="#3B1250"/>
<circle cx="547.1" cy="1486.3" r="8.5" fill="#555657"/>
<circle cx="518.3" cy="1491.9" r="8.5" fill="#555657"/>
<circle cx="376.5" cy="1491.5" r="8.5" fill="#555657"/>
<circle cx="474.8" cy="1513.1" r="8.5" fill="#555657"/>
<circle cx="443.2" cy="1507.0" r="8.5" fill="#555657"/>
<circle cx="551.9" cy="1465.1" r="8.5" fill="#3B1250"/>
<circle cx="459.2" cy="1509.4" r="8.5" fill="#555657"/>
<circle cx="527.8" cy="1485.2" r="8.5" fill="#555657"/>
<circle cx="546.6" cy="1510.9" r="8.5" fill="#555657"/>
<circle cx="425.1" cy="1496.7" r="8.5" fill="#555657"/>
<circle cx="473.8" cy="1512.9" r="8.5" fill="#555657"/>
<circle cx="453.1" cy="1512.3" r="8.5" fill="#555657"/>
<circle cx="564.2" cy="1504.2" r="8.5" fill="#555657"/>
<circle cx="546.3" cy="1462.9" r="8.5" fill="#3B1250"/>
<circle cx="519.1" cy="1506.2" r="8.5" fill="#555657"/>
<circle cx="375.9" cy="1494.0" r="8.5" fill="#555657"/>
<circle cx="458.1" cy="1502.7" r="8.5" fill="#555657"/>
<circle cx="431.1" cy="1493.3" r="8.5" fill="#555657"/>
<circle cx="561.8" cy="1498.9" r="8.5" fill="#555657"/>
<circle cx="408.9" cy="1486.6" r="8.5" fill="#555657"/>
<circle cx="474.3" cy="1513.0" r="8.5" fill="#555657"/>
<circle cx="581.0" cy="1487.4" r="8.5" fill="#555657"/>
<circle cx="493.8" cy="1512.9" r="8.5" fill="#555657"/>
<circle cx="329.8" cy="1494.2" r="8.5" fill="#555657"/>
<circle cx="509.1" cy="1472.2" r="8.5" fill="#3B1250"/>
<circle cx="463.2" cy="1510.9" r="8.5" fill="#555657"/>
<circle cx="534.4" cy="1508.4" r="8.5" fill="#555657"/>
<circle cx="474.8" cy="1512.7" r="8.5" fill="#555657"/>
<circle cx="410.6" cy="1508.2" r="8.5" fill="#555657"/>
<circle cx="439.2" cy="1511.6" r="8.5" fill="#555657"/>
<circle cx="312.5" cy="1483.2" r="8.5" fill="#555657"/>
<circle cx="371.7" cy="1489.3" r="8.5" fill="#555657"/>
<circle cx="573.8" cy="1492.6" r="8.5" fill="#555657"/>
<circle cx="565.3" cy="1501.9" r="8.5" fill="#555657"/>
<circle cx="556.1" cy="1485.1" r="8.5" fill="#555657"/>
<circle cx="564.5" cy="1497.3" r="8.5" fill="#555657"/>
<circle cx="579.6" cy="1473.9" r="8.5" fill="#3B1250"/>
<circle cx="438.0" cy="1497.1" r="8.5" fill="#555657"/>
<circle cx="500.9" cy="1506.3" r="8.5" fill="#555657"/>
<circle cx="354.8" cy="1499.3" r="8.5" fill="#555657"/>
<circle cx="531.8" cy="1496.7" r="8.5" fill="#555657"/>
<circle cx="547.8" cy="1475.4" r="8.5" fill="#3B1250"/>
<circle cx="480.9" cy="1511.8" r="8.5" fill="#555657"/>
<circle cx="432.2" cy="1499.6" r="8.5" fill="#555657"/>
<circle cx="390.7" cy="1481.9" r="8.5" fill="#555657"/>
<circle cx="582.8" cy="1504.0" r="8.5" fill="#555657"/>
<circle cx="461.2" cy="1509.4" r="8.5" fill="#555657"/>
<circle cx="475.8" cy="1513.0" r="8.5" fill="#555657"/>
<circle cx="574.0" cy="1497.6" r="8.5" fill="#555657"/>
<circle cx="614.1" cy="1462.7" r="8.5" fill="#3B1250"/>
<circle cx="419.7" cy="1500.5" r="8.5" fill="#555657"/>
<circle cx="476.7" cy="1512.7" r="8.5" fill="#555657"/>
<circle cx="381.7" cy="1472.1" r="8.5" fill="#3B1250"/>
<circle cx="433.7" cy="1498.3" r="8.5" fill="#555657"/>
<circle cx="583.6" cy="1449.6" r="8.5" fill="#3B1250"/>
<circle cx="363.8" cy="1480.1" r="8.5" fill="#555657"/>
<circle cx="582.0" cy="1500.0" r="8.5" fill="#555657"/>
<circle cx="470.7" cy="1511.2" r="8.5" fill="#555657"/>
<circle cx="569.2" cy="1509.9" r="8.5" fill="#555657"/>
<circle cx="519.0" cy="1495.7" r="8.5" fill="#555657"/>
<circle cx="475.9" cy="1512.0" r="8.5" fill="#555657"/>
<circle cx="515.0" cy="1468.4" r="8.5" fill="#3B1250"/>
<circle cx="585.7" cy="1488.5" r="8.5" fill="#555657"/>
<circle cx="506.5" cy="1499.0" r="8.5" fill="#555657"/>
<circle cx="410.3" cy="1506.7" r="8.5" fill="#555657"/>
<circle cx="568.6" cy="1487.5" r="8.5" fill="#555657"/>
<circle cx="489.8" cy="1507.6" r="8.5" fill="#555657"/>
<circle cx="478.7" cy="1512.7" r="8.5" fill="#555657"/>
<circle cx="361.2" cy="1489.3" r="8.5" fill="#555657"/>
<circle cx="520.2" cy="1500.9" r="8.5" fill="#555657"/>
<circle cx="514.3" cy="1486.3" r="8.5" fill="#555657"/>
<circle cx="504.8" cy="1488.9" r="8.5" fill="#555657"/>
<circle cx="499.2" cy="1493.7" r="8.5" fill="#555657"/>
<circle cx="500.3" cy="1509.8" r="8.5" fill="#555657"/>
<circle cx="481.8" cy="1511.8" r="8.5" fill="#555657"/>
<circle cx="509.4" cy="1484.9" r="8.5" fill="#555657"/>
<circle cx="412.9" cy="1508.2" r="8.5" fill="#555657"/>
<circle cx="505.4" cy="1507.9" r="8.5" fill="#555657"/>
<circle cx="557.5" cy="1504.3" r="8.5" fill="#555657"/>
<circle cx="493.3" cy="1505.4" r="8.5" fill="#555657"/>
<circle cx="352.5" cy="1506.1" r="8.5" fill="#555657"/>
<circle cx="475.2" cy="1512.8" r="8.5" fill="#555657"/>
<circle cx="583.6" cy="1468.7" r="8.5" fill="#3B1250"/>
<circle cx="477.6" cy="1512.7" r="8.5" fill="#555657"/>
<circle cx="564.6" cy="1485.9" r="8.5" fill="#555657"/>
<circle cx="415.1" cy="1498.1" r="8.5" fill="#555657"/>
<circle cx="514.0" cy="1490.6" r="8.5" fill="#555657"/>
<circle cx="430.7" cy="1472.0" r="8.5" fill="#3B1250"/>
<circle cx="326.7" cy="1503.1" r="8.5" fill="#555657"/>
<circle cx="579.2" cy="1495.7" r="8.5" fill="#555657"/>
<circle cx="471.0" cy="1512.4" r="8.5" fill="#555657"/>
<circle cx="483.6" cy="1510.4" r="8.5" fill="#555657"/>
<circle cx="408.0" cy="1504.6" r="8.5" fill="#555657"/>
<circle cx="582.3" cy="1486.2" r="8.5" fill="#555657"/>
<circle cx="544.2" cy="1503.2" r="8.5" fill="#555657"/>
<circle cx="400.6" cy="1501.6" r="8.5" fill="#555657"/>
<circle cx="489.9" cy="1506.4" r="8.5" fill="#555657"/>
<circle cx="493.2" cy="1505.0" r="8.5" fill="#555657"/>
<circle cx="552.8" cy="1494.4" r="8.5" fill="#555657"/>
<circle cx="533.3" cy="1491.0" r="8.5" fill="#555657"/>
<circle cx="365.9" cy="1500.8" r="8.5" fill="#555657"/>
<circle cx="471.8" cy="1511.5" r="8.5" fill="#555657"/>
<circle cx="420.5" cy="1487.5" r="8.5" fill="#555657"/>
<circle cx="339.4" cy="1497.6" r="8.5" fill="#555657"/>
<circle cx="409.8" cy="1473.0" r="8.5" fill="#3B1250"/>
<circle cx="513.6" cy="1511.1" r="8.5" fill="#555657"/>
<circle cx="530.6" cy="1466.4" r="8.5" fill="#3B1250"/>
<circle cx="388.4" cy="1496.2" r="8.5" fill="#555657"/>
<circle cx="448.5" cy="1508.8" r="8.5" fill="#555657"/>
<circle cx="505.3" cy="1510.1" r="8.5" fill="#555657"/>
<circle cx="528.2" cy="1493.7" r="8.5" fill="#555657"/>
<circle cx="565.4" cy="1490.6" r="8.5" fill="#555657"/>
<circle cx="509.1" cy="1470.9" r="8.5" fill="#3B1250"/>
<circle cx="536.7" cy="1510.9" r="8.5" fill="#555657"/>
<circle cx="600.9" cy="1475.5" r="8.5" fill="#3B1250"/>
<circle cx="462.0" cy="1511.3" r="8.5" fill="#555657"/>
<circle cx="563.5" cy="1497.8" r="8.5" fill="#555657"/>
<circle cx="560.5" cy="1491.0" r="8.5" fill="#555657"/>
<circle cx="519.1" cy="1488.9" r="8.5" fill="#555657"/>
<circle cx="333.1" cy="1487.3" r="8.5" fill="#555657"/>
<circle cx="574.7" cy="1489.1" r="8.5" fill="#555657"/>
<circle cx="559.3" cy="1489.5" r="8.5" fill="#555657"/>
<circle cx="388.4" cy="1485.4" r="8.5" fill="#555657"/>
<circle cx="429.8" cy="1507.9" r="8.5" fill="#555657"/>
<circle cx="564.7" cy="1486.5" r="8.5" fill="#555657"/>
<circle cx="547.5" cy="1491.4" r="8.5" fill="#555657"/>
<circle cx="452.6" cy="1500.8" r="8.5" fill="#555657"/>
<circle cx="419.4" cy="1492.5" r="8.5" fill="#555657"/>
<circle cx="432.3" cy="1505.9" r="8.5" fill="#555657"/>
<circle cx="470.7" cy="1511.1" r="8.5" fill="#555657"/>
<circle cx="450.0" cy="1504.4" r="8.5" fill="#555657"/>
<circle cx="488.7" cy="1509.6" r="8.5" fill="#555657"/>
<circle cx="492.0" cy="1512.6" r="8.5" fill="#555657"/>
<circle cx="522.1" cy="1496.8" r="8.5" fill="#555657"/>
<circle cx="349.8" cy="1485.8" r="8.5" fill="#555657"/>
<circle cx="356.7" cy="1491.5" r="8.5" fill="#555657"/>
<circle cx="445.9" cy="1495.4" r="8.5" fill="#555657"/>
<circle cx="411.8" cy="1499.2" r="8.5" fill="#555657"/>
<circle cx="473.0" cy="1512.2" r="8.5" fill="#555657"/>
<circle cx="539.4" cy="1487.9" r="8.5" fill="#555657"/>
<circle cx="470.6" cy="1512.3" r="8.5" fill="#555657"/>
<circle cx="472.9" cy="1513.1" r="8.5" fill="#555657"/>
<circle cx="548.1" cy="1488.6" r="8.5" fill="#555657"/>
<circle cx="491.4" cy="1506.2" r="8.5" fill="#555657"/>
<circle cx="479.7" cy="1512.8" r="8.5" fill="#555657"/>
<circle cx="553.3" cy="1499.7" r="8.5" fill="#555657"/>
<circle cx="579.3" cy="1503.6" r="8.5" fill="#555657"/>
<circle cx="332.4" cy="1504.6" r="8.5" fill="#555657"/>
<circle cx="466.3" cy="1508.9" r="8.5" fill="#555657"/>
<circle cx="462.5" cy="1506.5" r="8.5" fill="#555657"/>
<circle cx="493.9" cy="1501.3" r="8.5" fill="#555657"/>
<circle cx="433.9" cy="1503.4" r="8.5" fill="#555657"/>
<circle cx="349.8" cy="1472.2" r="8.5" fill="#3B1250"/>
<circle cx="441.7" cy="1499.1" r="8.5" fill="#555657"/>
<circle cx="631.8" cy="1505.4" r="8.5" fill="#555657"/>
<circle cx="375.4" cy="1483.6" r="8.5" fill="#555657"/>
<circle cx="375.4" cy="1510.7" r="8.5" fill="#555657"/>
<circle cx="452.0" cy="1502.2" r="8.5" fill="#555657"/>
<circle cx="466.8" cy="1508.9" r="8.5" fill="#555657"/>
<circle cx="359.4" cy="1500.8" r="8.5" fill="#555657"/>
<circle cx="526.8" cy="1504.1" r="8.5" fill="#555657"/>
<circle cx="460.8" cy="1513.0" r="8.5" fill="#555657"/>
<circle cx="334.4" cy="1505.3" r="8.5" fill="#555657"/>
<circle cx="385.0" cy="1483.3" r="8.5" fill="#555657"/>
<circle cx="383.7" cy="1509.5" r="8.5" fill="#555657"/>
<circle cx="448.7" cy="1510.8" r="8.5" fill="#555657"/>
<circle cx="530.4" cy="1509.8" r="8.5" fill="#555657"/>
<circle cx="321.3" cy="1503.0" r="8.5" fill="#555657"/>
<circle cx="480.6" cy="1512.6" r="8.5" fill="#555657"/>
<circle cx="585.1" cy="1449.5" r="8.5" fill="#3B1250"/>
<circle cx="522.8" cy="1471.4" r="8.5" fill="#3B1250"/>
<circle cx="524.4" cy="1495.1" r="8.5" fill="#555657"/>
<circle cx="560.2" cy="1488.1" r="8.5" fill="#555657"/>
<circle cx="331.7" cy="1480.2" r="8.5" fill="#555657"/>
<circle cx="481.7" cy="1512.8" r="8.5" fill="#555657"/>
<circle cx="557.9" cy="1505.9" r="8.5" fill="#555657"/>
<circle cx="472.1" cy="1512.7" r="8.5" fill="#555657"/>
<circle cx="418.5" cy="1491.8" r="8.5" fill="#555657"/>
<circle cx="490.9" cy="1506.4" r="8.5" fill="#555657"/>
<circle cx="555.2" cy="1489.6" r="8.5" fill="#555657"/>
<circle cx="383.8" cy="1511.3" r="8.5" fill="#555657"/>
<circle cx="385.7" cy="1505.2" r="8.5" fill="#555657"/>
<circle cx="570.0" cy="1495.8" r="8.5" fill="#555657"/>
<circle cx="513.4" cy="1485.0" r="8.5" fill="#555657"/>
<circle cx="331.7" cy="1500.0" r="8.5" fill="#555657"/>
<circle cx="540.1" cy="1495.8" r="8.5" fill="#555657"/>
<circle cx="580.8" cy="1503.6" r="8.5" fill="#555657"/>
<circle cx="480.2" cy="1512.3" r="8.5" fill="#555657"/>
<circle cx="421.0" cy="1471.6" r="8.5" fill="#3B1250"/>
<circle cx="425.2" cy="1499.5" r="8.5" fill="#555657"/>
<circle cx="457.2" cy="1504.1" r="8.5" fill="#555657"/>
<circle cx="561.0" cy="1509.7" r="8.5" fill="#555657"/>
<circle cx="501.2" cy="1487.5" r="8.5" fill="#555657"/>
<circle cx="574.3" cy="1503.7" r="8.5" fill="#555657"/>
<circle cx="475.8" cy="1512.3" r="8.5" fill="#555657"/>
<circle cx="367.4" cy="1511.5" r="8.5" fill="#555657"/>
<circle cx="538.8" cy="1490.8" r="8.5" fill="#555657"/>
<circle cx="343.8" cy="1484.8" r="8.5" fill="#555657"/>
<circle cx="509.0" cy="1507.7" r="8.5" fill="#555657"/>
<circle cx="453.3" cy="1506.7" r="8.5" fill="#555657"/>
<circle cx="565.7" cy="1494.6" r="8.5" fill="#555657"/>
<circle cx="338.7" cy="1497.9" r="8.5" fill="#555657"/>
<circle cx="541.8" cy="1501.9" r="8.5" fill="#555657"/>
<circle cx="499.0" cy="1500.5" r="8.5" fill="#555657"/>
<circle cx="567.1" cy="1490.5" r="8.5" fill="#555657"/>
<circle cx="555.6" cy="1500.1" r="8.5" fill="#555657"/>
<circle cx="476.3" cy="1513.1" r="8.5" fill="#555657"/>
<circle cx="561.3" cy="1504.1" r="8.5" fill="#555657"/>
<circle cx="414.4" cy="1492.3" r="8.5" fill="#555657"/>
<circle cx="518.2" cy="1509.8" r="8.5" fill="#555657"/>
<circle cx="471.1" cy="1511.7" r="8.5" fill="#555657"/>
<circle cx="518.8" cy="1468.0" r="8.5" fill="#3B1250"/>
<circle cx="538.5" cy="1454.7" r="8.5" fill="#3B1250"/>
<circle cx="424.1" cy="1509.5" r="8.5" fill="#555657"/>
<circle cx="584.2" cy="1474.7" r="8.5" fill="#3B1250"/>
<circle cx="309.3" cy="1486.7" r="8.5" fill="#555657"/>
<circle cx="500.4" cy="1506.4" r="8.5" fill="#555657"/>
<circle cx="531.2" cy="1502.4" r="8.5" fill="#555657"/>
<circle cx="526.9" cy="1505.3" r="8.5" fill="#555657"/>
<circle cx="480.2" cy="1512.2" r="8.5" fill="#555657"/>
<circle cx="426.3" cy="1489.2" r="8.5" fill="#555657"/>
<circle cx="391.7" cy="1509.5" r="8.5" fill="#555657"/>
<circle cx="557.6" cy="1509.0" r="8.5" fill="#555657"/>
<circle cx="540.6" cy="1506.4" r="8.5" fill="#555657"/>
<circle cx="341.1" cy="1492.5" r="8.5" fill="#555657"/>
<circle cx="476.1" cy="1512.8" r="8.5" fill="#555657"/>
<circle cx="354.5" cy="1494.2" r="8.5" fill="#555657"/>
<circle cx="461.9" cy="1510.1" r="8.5" fill="#555657"/>
<circle cx="567.9" cy="1505.0" r="8.5" fill="#555657"/>
<circle cx="569.0" cy="1506.8" r="8.5" fill="#555657"/>
<circle cx="324.9" cy="1493.6" r="8.5" fill="#555657"/>
<circle cx="474.0" cy="1513.0" r="8.5" fill="#555657"/>
<circle cx="343.2" cy="1504.2" r="8.5" fill="#555657"/>
<circle cx="319.2" cy="1489.9" r="8.5" fill="#555657"/>
<circle cx="388.1" cy="1498.8" r="8.5" fill="#555657"/>
<circle cx="571.6" cy="1446.1" r="8.5" fill="#3B1250"/>
<circle cx="469.7" cy="1512.6" r="8.5" fill="#555657"/>
<circle cx="522.0" cy="1506.1" r="8.5" fill="#555657"/>
<circle cx="428.9" cy="1500.1" r="8.5" fill="#555657"/>
<circle cx="576.3" cy="1475.4" r="8.5" fill="#3B1250"/>
<circle cx="349.0" cy="1482.7" r="8.5" fill="#555657"/>
<circle cx="403.6" cy="1508.0" r="8.5" fill="#555657"/>
<circle cx="528.3" cy="1495.3" r="8.5" fill="#555657"/>
<circle cx="585.5" cy="1447.7" r="8.5" fill="#3B1250"/>
<circle cx="493.6" cy="1504.2" r="8.5" fill="#555657"/>
<circle cx="549.3" cy="1500.7" r="8.5" fill="#555657"/>
<circle cx="479.8" cy="1513.0" r="8.5" fill="#555657"/>
<circle cx="541.5" cy="1506.9" r="8.5" fill="#555657"/>
<circle cx="471.7" cy="1513.0" r="8.5" fill="#555657"/>
<circle cx="367.1" cy="1503.6" r="8.5" fill="#555657"/>
<circle cx="594.8" cy="1486.6" r="8.5" fill="#555657"/>
<circle cx="601.1" cy="1461.0" r="8.5" fill="#3B1250"/>
<circle cx="430.9" cy="1508.5" r="8.5" fill="#555657"/>
<circle cx="454.4" cy="1509.1" r="8.5" fill="#555657"/>
<circle cx="531.1" cy="1505.8" r="8.5" fill="#555657"/>
<circle cx="359.4" cy="1504.6" r="8.5" fill="#555657"/>
<circle cx="548.5" cy="1510.2" r="8.5" fill="#555657"/>
<circle cx="631.1" cy="1487.4" r="8.5" fill="#555657"/>
<circle cx="506.9" cy="1504.5" r="8.5" fill="#555657"/>
<circle cx="492.5" cy="1510.4" r="8.5" fill="#555657"/>
<circle cx="450.8" cy="1512.4" r="8.5" fill="#555657"/>
<circle cx="311.5" cy="1494.5" r="8.5" fill="#555657"/>
<circle cx="361.5" cy="1508.9" r="8.5" fill="#555657"/>
<circle cx="586.5" cy="1453.6" r="8.5" fill="#3B1250"/>
<circle cx="440.9" cy="1497.0" r="8.5" fill="#555657"/>
<circle cx="435.1" cy="1503.3" r="8.5" fill="#555657"/>
<circle cx="533.5" cy="1494.0" r="8.5" fill="#555657"/>
<circle cx="388.7" cy="1481.1" r="8.5" fill="#555657"/>
<circle cx="444.4" cy="1500.7" r="8.5" fill="#555657"/>
<circle cx="423.1" cy="1511.0" r="8.5" fill="#555657"/>
<circle cx="347.7" cy="1507.2" r="8.5" fill="#555657"/>
<circle cx="490.3" cy="1507.7" r="8.5" fill="#555657"/>
<circle cx="348.9" cy="1508.9" r="8.5" fill="#555657"/>
<circle cx="465.3" cy="1510.5" r="8.5" fill="#555657"/>
<circle cx="633.2" cy="1500.8" r="8.5" fill="#555657"/>
<circle cx="490.1" cy="1508.2" r="8.5" fill="#555657"/>
<circle cx="506.9" cy="1498.6" r="8.5" fill="#555657"/>
<circle cx="541.5" cy="1502.2" r="8.5" fill="#555657"/>
<circle cx="553.1" cy="1484.7" r="8.5" fill="#555657"/>
<circle cx="490.1" cy="1510.5" r="8.5" fill="#555657"/>
<circle cx="522.6" cy="1512.0" r="8.5" fill="#555657"/>
<circle cx="596.5" cy="1473.9" r="8.5" fill="#3B1250"/>
<circle cx="503.9" cy="1509.7" r="8.5" fill="#555657"/>
<circle cx="469.9" cy="1511.9" r="8.5" fill="#555657"/>
<circle cx="527.5" cy="1469.9" r="8.5" fill="#3B1250"/>
<circle cx="478.9" cy="1512.9" r="8.5" fill="#555657"/>
<circle cx="449.9" cy="1511.1" r="8.5" fill="#555657"/>
<circle cx="485.1" cy="1511.6" r="8.5" fill="#555657"/>
<circle cx="432.4" cy="1506.2" r="8.5" fill="#555657"/>
<circle cx="575.3" cy="1511.0" r="8.5" fill="#555657"/>
<circle cx="388.1" cy="1487.5" r="8.5" fill="#555657"/>
<circle cx="317.1" cy="1502.4" r="8.5" fill="#555657"/>
<circle cx="548.8" cy="1494.8" r="8.5" fill="#555657"/>
<circle cx="471.0" cy="1511.5" r="8.5" fill="#555657"/>
<circle cx="584.3" cy="1492.3" r="8.5" fill="#555657"/>
<circle cx="526.6" cy="1507.3" r="8.5" fill="#555657"/>
<circle cx="478.7" cy="1512.6" r="8.5" fill="#555657"/>
<circle cx="452.4" cy="1511.6" r="8.5" fill="#555657"/>
<circle cx="434.6" cy="1510.6" r="8.5" fill="#555657"/>
<circle cx="544.5" cy="1491.7" r="8.5" fill="#555657"/>
<circle cx="508.9" cy="1500.8" r="8.5" fill="#555657"/>
<circle cx="537.5" cy="1508.1" r="8.5" fill="#555657"/>
<circle cx="500.7" cy="1491.0" r="8.5" fill="#555657"/>
<circle cx="394.2" cy="1497.4" r="8.5" fill="#555657"/>
<circle cx="481.2" cy="1511.6" r="8.5" fill="#555657"/>
<circle cx="511.5" cy="1512.5" r="8.5" fill="#555657"/>
<circle cx="513.1" cy="1505.8" r="8.5" fill="#555657"/>
<circle cx="394.9" cy="1504.6" r="8.5" fill="#555657"/>
<circle cx="582.5" cy="1494.5" r="8.5" fill="#555657"/>
<circle cx="521.9" cy="1486.2" r="8.5" fill="#555657"/>
<circle cx="542.1" cy="1506.0" r="8.5" fill="#555657"/>
<circle cx="440.7" cy="1498.8" r="8.5" fill="#555657"/>
<circle cx="573.7" cy="1498.2" r="8.5" fill="#555657"/>
<circle cx="487.0" cy="1507.7" r="8.5" fill="#555657"/>
<circle cx="304.1" cy="1487.0" r="8.5" fill="#555657"/>
<circle cx="543.5" cy="1486.7" r="8.5" fill="#555657"/>
<circle cx="465.1" cy="1511.5" r="8.5" fill="#555657"/>
<circle cx="501.5" cy="1502.8" r="8.5" fill="#555657"/>
<circle cx="467.9" cy="1512.8" r="8.5" fill="#555657"/>
<circle cx="372.8" cy="1503.1" r="8.5" fill="#555657"/>
<circle cx="451.3" cy="1498.8" r="8.5" fill="#555657"/>
<circle cx="381.8" cy="1486.1" r="8.5" fill="#555657"/>
<circle cx="580.8" cy="1508.9" r="8.5" fill="#555657"/>
<circle cx="541.6" cy="1505.5" r="8.5" fill="#555657"/>
<circle cx="509.2" cy="1473.3" r="8.5" fill="#3B1250"/>
<circle cx="579.2" cy="1501.8" r="8.5" fill="#555657"/>
<circle cx="567.5" cy="1497.4" r="8.5" fill="#555657"/>
<circle cx="503.2" cy="1509.8" r="8.5" fill="#555657"/>
<circle cx="552.6" cy="1487.9" r="8.5" fill="#555657"/>
<circle cx="522.3" cy="1488.6" r="8.5" fill="#555657"/>
<circle cx="494.4" cy="1506.3" r="8.5" fill="#555657"/>
<circle cx="386.2" cy="1487.7" r="8.5" fill="#555657"/>
<circle cx="524.1" cy="1468.0" r="8.5" fill="#3B1250"/>
<circle cx="311.9" cy="1493.5" r="8.5" fill="#555657"/>
<circle cx="511.5" cy="1507.0" r="8.5" fill="#555657"/>
<circle cx="565.4" cy="1487.9" r="8.5" fill="#555657"/>
<circle cx="397.8" cy="1504.6" r="8.5" fill="#555657"/>
<circle cx="473.1" cy="1512.7" r="8.5" fill="#555657"/>
<circle cx="385.5" cy="1487.2" r="8.5" fill="#555657"/>
<circle cx="453.2" cy="1501.9" r="8.5" fill="#555657"/>
<circle cx="510.7" cy="1494.7" r="8.5" fill="#555657"/>
<circle cx="527.1" cy="1486.2" r="8.5" fill="#555657"/>
<circle cx="507.9" cy="1499.0" r="8.5" fill="#555657"/>
<circle cx="437.6" cy="1494.7" r="8.5" fill="#555657"/>
<circle cx="565.9" cy="1474.5" r="8.5" fill="#3B1250"/>
<circle cx="401.0" cy="1487.6" r="8.5" fill="#555657"/>
<circle cx="378.8" cy="1484.7" r="8.5" fill="#555657"/>
<circle cx="428.4" cy="1492.2" r="8.5" fill="#555657"/>
<circle cx="379.2" cy="1487.0" r="8.5" fill="#555657"/>
<circle cx="550.2" cy="1498.2" r="8.5" fill="#555657"/>
<circle cx="553.4" cy="1443.5" r="8.5" fill="#3B1250"/>
<circle cx="395.3" cy="1498.2" r="8.5" fill="#555657"/>
<circle cx="304.6" cy="1493.4" r="8.5" fill="#555657"/>
<circle cx="493.8" cy="1505.7" r="8.5" fill="#555657"/>
<circle cx="520.7" cy="1506.2" r="8.5" fill="#555657"/>
<circle cx="505.4" cy="1499.6" r="8.5" fill="#555657"/>
<circle cx="490.3" cy="1511.5" r="8.5" fill="#555657"/>
<circle cx="379.2" cy="1487.9" r="8.5" fill="#555657"/>
<circle cx="379.0" cy="1495.1" r="8.5" fill="#555657"/>
<circle cx="426.1" cy="1497.9" r="8.5" fill="#555657"/>
<circle cx="434.7" cy="1493.0" r="8.5" fill="#555657"/>
<circle cx="384.0" cy="1510.6" r="8.5" fill="#555657"/>
<circle cx="564.8" cy="1513.1" r="8.5" fill="#555657"/>
<circle cx="359.4" cy="1471.5" r="8.5" fill="#3B1250"/>
<circle cx="560.6" cy="1487.7" r="8.5" fill="#555657"/>
<circle cx="465.1" cy="1510.7" r="8.5" fill="#555657"/>
<circle cx="425.9" cy="1471.6" r="8.5" fill="#3B1250"/>
<circle cx="502.7" cy="1499.4" r="8.5" fill="#555657"/>
<circle cx="571.0" cy="1452.8" r="8.5" fill="#3B1250"/>
<circle cx="358.4" cy="1486.3" r="8.5" fill="#555657"/>
<circle cx="369.4" cy="1498.2" r="8.5" fill="#555657"/>
<circle cx="513.3" cy="1493.4" r="8.5" fill="#555657"/>
<circle cx="561.8" cy="1487.7" r="8.5" fill="#555657"/>
<circle cx="399.7" cy="1512.6" r="8.5" fill="#555657"/>
<circle cx="383.6" cy="1487.8" r="8.5" fill="#555657"/>
<circle cx="509.1" cy="1496.4" r="8.5" fill="#555657"/>
<circle cx="468.9" cy="1511.5" r="8.5" fill="#555657"/>
<circle cx="489.0" cy="1506.3" r="8.5" fill="#555657"/>
<circle cx="364.3" cy="1472.3" r="8.5" fill="#3B1250"/>
<circle cx="390.8" cy="1505.5" r="8.5" fill="#555657"/>
<circle cx="477.4" cy="1512.7" r="8.5" fill="#555657"/>
<circle cx="409.1" cy="1490.8" r="8.5" fill="#555657"/>
<circle cx="492.2" cy="1509.8" r="8.5" fill="#555657"/>
<circle cx="496.7" cy="1512.0" r="8.5" fill="#555657"/>
<circle cx="389.5" cy="1499.7" r="8.5" fill="#555657"/>
<circle cx="520.8" cy="1470.1" r="8.5" fill="#3B1250"/>
<circle cx="473.1" cy="1511.4" r="8.5" fill="#555657"/>
<circle cx="426.3" cy="1472.3" r="8.5" fill="#3B1250"/>
<circle cx="447.1" cy="1499.1" r="8.5" fill="#555657"/>
<circle cx="498.0" cy="1512.4" r="8.5" fill="#555657"/>
<circle cx="508.4" cy="1495.0" r="8.5" fill="#555657"/>
<circle cx="535.9" cy="1453.3" r="8.5" fill="#3B1250"/>
<circle cx="521.0" cy="1488.2" r="8.5" fill="#555657"/>
<circle cx="372.3" cy="1490.5" r="8.5" fill="#555657"/>
<circle cx="541.6" cy="1489.3" r="8.5" fill="#555657"/>
<circle cx="540.6" cy="1502.0" r="8.5" fill="#555657"/>
<circle cx="570.7" cy="1497.3" r="8.5" fill="#555657"/>
<circle cx="501.8" cy="1508.5" r="8.5" fill="#555657"/>
<circle cx="633.1" cy="1475.1" r="8.5" fill="#3B1250"/>
<circle cx="569.9" cy="1502.0" r="8.5" fill="#555657"/>
<circle cx="391.7" cy="1495.4" r="8.5" fill="#555657"/>
<circle cx="549.0" cy="1445.7" r="8.5" fill="#3B1250"/>
<circle cx="345.9" cy="1501.3" r="8.5" fill="#555657"/>
<circle cx="521.2" cy="1505.1" r="8.5" fill="#555657"/>
<circle cx="440.7" cy="1497.6" r="8.5" fill="#555657"/>
<circle cx="525.0" cy="1494.8" r="8.5" fill="#555657"/>
<circle cx="337.4" cy="1504.6" r="8.5" fill="#555657"/>
<circle cx="411.1" cy="1507.3" r="8.5" fill="#555657"/>
<circle cx="539.9" cy="1512.1" r="8.5" fill="#555657"/>
<circle cx="551.7" cy="1491.9" r="8.5" fill="#555657"/>
<circle cx="563.0" cy="1499.8" r="8.5" fill="#555657"/>
<circle cx="412.0" cy="1495.5" r="8.5" fill="#555657"/>
<circle cx="416.6" cy="1485.8" r="8.5" fill="#555657"/>
<circle cx="479.4" cy="1512.8" r="8.5" fill="#555657"/>
<circle cx="548.0" cy="1510.5" r="8.5" fill="#555657"/>
<circle cx="571.1" cy="1494.5" r="8.5" fill="#555657"/>
<circle cx="583.0" cy="1503.3" r="8.5" fill="#555657"/>
<circle cx="477.4" cy="1512.7" r="8.5" fill="#555657"/>
<circle cx="363.0" cy="1484.9" r="8.5" fill="#555657"/>
<circle cx="467.4" cy="1510.8" r="8.5" fill="#555657"/>
<circle cx="463.4" cy="1508.5" r="8.5" fill="#555657"/>
<circle cx="466.2" cy="1509.8" r="8.5" fill="#555657"/>
<circle cx="528.4" cy="1454.8" r="8.5" fill="#3B1250"/>
<circle cx="539.6" cy="1496.5" r="8.5" fill="#555657"/>
<circle cx="430.4" cy="1490.4" r="8.5" fill="#555657"/>
<circle cx="586.9" cy="1504.6" r="8.5" fill="#555657"/>
<circle cx="583.2" cy="1446.9" r="8.5" fill="#3B1250"/>
<circle cx="472.9" cy="1512.8" r="8.5" fill="#555657"/>
<circle cx="392.5" cy="1502.1" r="8.5" fill="#555657"/>
<circle cx="526.1" cy="1501.0" r="8.5" fill="#555657"/>
<circle cx="427.6" cy="1490.0" r="8.5" fill="#555657"/>
<circle cx="431.7" cy="1502.5" r="8.5" fill="#555657"/>
<circle cx="547.6" cy="1485.0" r="8.5" fill="#555657"/>
<circle cx="497.2" cy="1510.9" r="8.5" fill="#555657"/>
<circle cx="501.7" cy="1504.4" r="8.5" fill="#555657"/>
<circle cx="271.6" cy="1494.9" r="8.5" fill="#555657"/>
<circle cx="286.7" cy="1494.1" r="8.5" fill="#555657"/>
<circle cx="251.6" cy="1510.4" r="8.5" fill="#555657"/>
<circle cx="275.4" cy="1507.9" r="8.5" fill="#555657"/>
<circle cx="306.7" cy="1482.9" r="8.5" fill="#555657"/>
<circle cx="307.9" cy="1496.6" r="8.5" fill="#555657"/>
<circle cx="323.0" cy="1496.6" r="8.5" fill="#555657"/>
<circle cx="328.0" cy="1482.9" r="8.5" fill="#555657"/>
<circle cx="343.0" cy="1481.6" r="8.5" fill="#555657"/>
<circle cx="330.5" cy="1507.9" r="8.5" fill="#555657"/>
<circle cx="679.2" cy="1484.1" r="8.5" fill="#555657"/>
<circle cx="687.9" cy="1496.6" r="8.5" fill="#555657"/>
<circle cx="649.1" cy="1496.6" r="8.5" fill="#555657"/>
<circle cx="635.3" cy="1482.9" r="8.5" fill="#555657"/>
<circle cx="632.8" cy="1496.6" r="8.5" fill="#555657"/>
<circle cx="622.8" cy="1510.4" r="8.5" fill="#555657"/>
<circle cx="610.3" cy="1510.4" r="8.5" fill="#555657"/>
<circle cx="237.5" cy="1266.3" r="8.5" fill="#5CB270"/>
<circle cx="579.9" cy="1211.3" r="8.5" fill="#5CB270"/>
<circle cx="805.4" cy="1193.4" r="8.5" fill="#5CB270"/>
<circle cx="650.5" cy="1266.3" r="8.5" fill="#5CB270"/>
<circle cx="677.7" cy="1266.3" r="8.5" fill="#5CB270"/>
</g>
<line x1="479.30" y1="930.70" x2="479.30" y2="1541.00" stroke="#000" stroke-width="2.8" stroke-dasharray="18.2 7.57"/>
<line x1="75.70" y1="1273.39" x2="846.40" y2="1273.39" stroke="#000" stroke-width="2.8" stroke-dasharray="18.2 7.57"/>
<line x1="602.00" y1="1346.40" x2="599.50" y2="1375.90" stroke="#000" stroke-width="3.3" stroke-linecap="butt"/>
<line x1="713.50" y1="1351.40" x2="686.70" y2="1416.50" stroke="#000" stroke-width="3.3" stroke-linecap="butt"/>
<line x1="218.50" y1="1504.60" x2="370.60" y2="1509.70" stroke="#000" stroke-width="3.3" stroke-linecap="butt"/>
<text x="188.80" y="1247.80" font-size="26.8" fill="#000">CNGB3</text>
<text x="518.80" y="1193.90" font-size="26.8" fill="#000">SH2D1A</text>
<text x="709.70" y="1159.70" font-size="26.8" fill="#000">ICAM3</text>
<text x="688.80" y="1247.80" font-size="26.8" fill="#000">CRTAM</text>
<text x="550.40" y="1264.00" font-size="26.8" fill="#000">C1QL2</text>
<text x="495.90" y="1305.50" font-size="26.8" fill="#000">GZMH</text>
<text x="575.30" y="1335.10" font-size="26.8" fill="#000">CD6</text>
<text x="693.00" y="1340.80" font-size="26.8" fill="#000" textLength="45.3">LY9</text>
<text x="149.00" y="1520.40" font-size="26.8" fill="#000" textLength="63.3">VAT1</text>
<rect x="76.10" y="933.00" width="770.30" height="608.00" fill="none" stroke="#3A3D3D" stroke-width="3.2"/>
<text x="82.20" y="964.00" font-size="30" fill="#000">Decreased risk</text>
<text x="836.20" y="964.00" font-size="30" text-anchor="end" fill="#000">Increased risk</text>
<line x1="67.10" y1="1513.00" x2="74.60" y2="1513.00" stroke="#3A3D3D" stroke-width="2.8"/>
<text x="60.20" y="1522.50" font-size="23.6" text-anchor="end" fill="#000">0</text>
<line x1="67.10" y1="1328.83" x2="74.60" y2="1328.83" stroke="#3A3D3D" stroke-width="2.8"/>
<text x="60.20" y="1338.33" font-size="23.6" text-anchor="end" fill="#000">1</text>
<line x1="67.10" y1="1144.66" x2="74.60" y2="1144.66" stroke="#3A3D3D" stroke-width="2.8"/>
<text x="60.20" y="1154.16" font-size="23.6" text-anchor="end" fill="#000">2</text>
<line x1="67.10" y1="960.49" x2="74.60" y2="960.49" stroke="#3A3D3D" stroke-width="2.8"/>
<text x="60.20" y="969.99" font-size="23.6" text-anchor="end" fill="#000">3</text>
<line x1="245.93" y1="1542.50" x2="245.93" y2="1548.50" stroke="#3A3D3D" stroke-width="2.8"/>
<text x="246.08" y="1572.60" font-size="23.5" text-anchor="middle" fill="#000">0.3</text>
<line x1="479.30" y1="1542.50" x2="479.30" y2="1548.50" stroke="#3A3D3D" stroke-width="2.8"/>
<text x="480.10" y="1572.60" font-size="23.5" text-anchor="middle" fill="#000">1.0</text>
<line x1="693.43" y1="1542.50" x2="693.43" y2="1548.50" stroke="#3A3D3D" stroke-width="2.8"/>
<text x="694.23" y="1572.60" font-size="23.5" text-anchor="middle" fill="#000">3.0</text>
<text x="474.30" y="1607.30" font-size="30" text-anchor="middle" fill="#000">Hazard Ratio</text>
<text transform="translate(24.40 1239.20) rotate(-90)" font-size="30" text-anchor="middle" fill="#000">−Log₁₀ FDR P value</text>
<text x="904.80" y="877.00" font-size="51.5" fill="#231F20">D</text>
<text x="972.00" y="876.90" font-size="30" font-weight="bold" fill="#231F20">Proteins associated with &gt;1000 c/mL increase</text>
<text x="969.20" y="908.80" font-size="27.2" fill="#231F20">ART-naive HIV controllers (n=145 VC and 36 EC)</text>
<g fill-opacity="0.85">
<circle cx="1042.6" cy="1342.6" r="8.5" fill="#3B1250"/>
<circle cx="1078.4" cy="1333.9" r="8.5" fill="#3B1250"/>
<circle cx="1212.9" cy="1321.3" r="8.5" fill="#3B1250"/>
<circle cx="1203.4" cy="1347.1" r="8.5" fill="#3B1250"/>
<circle cx="1095.2" cy="1361.4" r="8.5" fill="#3B1250"/>
<circle cx="1129.7" cy="1360.2" r="8.5" fill="#3B1250"/>
<circle cx="1139.0" cy="1359.6" r="8.5" fill="#3B1250"/>
<circle cx="1246.2" cy="1367.7" r="8.5" fill="#3B1250"/>
<circle cx="1301.8" cy="1367.2" r="8.5" fill="#3B1250"/>
<circle cx="1149.5" cy="1387.2" r="8.5" fill="#3B1250"/>
<circle cx="1169.3" cy="1386.4" r="8.5" fill="#3B1250"/>
<circle cx="1199.6" cy="1387.7" r="8.5" fill="#3B1250"/>
<circle cx="1243.5" cy="1388.2" r="8.5" fill="#3B1250"/>
<circle cx="1251.2" cy="1397.7" r="8.5" fill="#3B1250"/>
<circle cx="1270.5" cy="1390.2" r="8.5" fill="#3B1250"/>
<circle cx="1272.5" cy="1399.0" r="8.5" fill="#3B1250"/>
<circle cx="1290.5" cy="1397.2" r="8.5" fill="#3B1250"/>
<circle cx="1209.1" cy="1407.7" r="8.5" fill="#3B1250"/>
<circle cx="1197.9" cy="1412.2" r="8.5" fill="#3B1250"/>
<circle cx="1205.4" cy="1417.3" r="8.5" fill="#3B1250"/>
<circle cx="1092.7" cy="1421.5" r="8.5" fill="#3B1250"/>
<circle cx="1133.2" cy="1421.5" r="8.5" fill="#3B1250"/>
<circle cx="1162.8" cy="1421.5" r="8.5" fill="#3B1250"/>
<circle cx="1172.8" cy="1424.0" r="8.5" fill="#3B1250"/>
<circle cx="1184.1" cy="1420.3" r="8.5" fill="#3B1250"/>
<circle cx="1187.9" cy="1430.3" r="8.5" fill="#3B1250"/>
<circle cx="1157.3" cy="1438.3" r="8.5" fill="#3B1250"/>
<circle cx="1131.5" cy="1444.1" r="8.5" fill="#3B1250"/>
<circle cx="1062.1" cy="1447.3" r="8.5" fill="#3B1250"/>
<circle cx="1162.3" cy="1450.8" r="8.5" fill="#3B1250"/>
<circle cx="1177.8" cy="1442.8" r="8.5" fill="#3B1250"/>
<circle cx="1464.2" cy="1318.8" r="8.5" fill="#3B1250"/>
<circle cx="1490.5" cy="1318.8" r="8.5" fill="#3B1250"/>
<circle cx="1496.3" cy="1316.3" r="8.5" fill="#3B1250"/>
<circle cx="1496.3" cy="1316.8" r="8.5" fill="#3B1250"/>
<circle cx="1490.5" cy="1333.9" r="8.5" fill="#3B1250"/>
<circle cx="1564.4" cy="1309.6" r="8.5" fill="#3B1250"/>
<circle cx="1600.0" cy="1318.8" r="8.5" fill="#3B1250"/>
<circle cx="1425.4" cy="1342.1" r="8.5" fill="#3B1250"/>
<circle cx="1457.2" cy="1360.2" r="8.5" fill="#3B1250"/>
<circle cx="1487.5" cy="1360.2" r="8.5" fill="#3B1250"/>
<circle cx="1535.6" cy="1360.2" r="8.5" fill="#3B1250"/>
<circle cx="1433.7" cy="1377.2" r="8.5" fill="#3B1250"/>
<circle cx="1402.9" cy="1389.0" r="8.5" fill="#3B1250"/>
<circle cx="1399.9" cy="1397.2" r="8.5" fill="#3B1250"/>
<circle cx="1425.4" cy="1390.2" r="8.5" fill="#3B1250"/>
<circle cx="1457.2" cy="1390.2" r="8.5" fill="#3B1250"/>
<circle cx="1471.3" cy="1390.2" r="8.5" fill="#3B1250"/>
<circle cx="1471.3" cy="1390.5" r="8.5" fill="#3B1250"/>
<circle cx="1499.3" cy="1390.2" r="8.5" fill="#3B1250"/>
<circle cx="1457.2" cy="1397.7" r="8.5" fill="#3B1250"/>
<circle cx="1483.5" cy="1402.2" r="8.5" fill="#3B1250"/>
<circle cx="1495.6" cy="1401.5" r="8.5" fill="#3B1250"/>
<circle cx="1536.9" cy="1397.2" r="8.5" fill="#3B1250"/>
<circle cx="1453.0" cy="1417.8" r="8.5" fill="#3B1250"/>
<circle cx="1427.9" cy="1421.5" r="8.5" fill="#3B1250"/>
<circle cx="1422.9" cy="1429.0" r="8.5" fill="#3B1250"/>
<circle cx="1456.7" cy="1427.8" r="8.5" fill="#3B1250"/>
<circle cx="1399.6" cy="1429.0" r="8.5" fill="#3B1250"/>
<circle cx="1500.6" cy="1426.5" r="8.5" fill="#3B1250"/>
<circle cx="1471.8" cy="1432.8" r="8.5" fill="#3B1250"/>
<circle cx="1481.8" cy="1437.8" r="8.5" fill="#3B1250"/>
<circle cx="1414.2" cy="1441.6" r="8.5" fill="#3B1250"/>
<circle cx="1443.0" cy="1442.8" r="8.5" fill="#3B1250"/>
<circle cx="1459.2" cy="1442.8" r="8.5" fill="#3B1250"/>
<circle cx="1391.6" cy="1447.8" r="8.5" fill="#3B1250"/>
<circle cx="1501.8" cy="1445.3" r="8.5" fill="#3B1250"/>
<circle cx="1525.6" cy="1441.6" r="8.5" fill="#3B1250"/>
<circle cx="1535.1" cy="1450.8" r="8.5" fill="#3B1250"/>
<circle cx="1336.5" cy="1440.3" r="8.5" fill="#3B1250"/>
<circle cx="1346.5" cy="1447.8" r="8.5" fill="#3B1250"/>
<circle cx="1392.0" cy="1494.9" r="8.5" fill="#555657"/>
<circle cx="1377.3" cy="1472.2" r="8.5" fill="#555657"/>
<circle cx="1261.9" cy="1465.6" r="8.5" fill="#555657"/>
<circle cx="1250.9" cy="1475.6" r="8.5" fill="#555657"/>
<circle cx="1322.5" cy="1489.3" r="8.5" fill="#555657"/>
<circle cx="1338.1" cy="1473.5" r="8.5" fill="#555657"/>
<circle cx="1185.9" cy="1431.2" r="8.5" fill="#3B1250"/>
<circle cx="1429.5" cy="1459.6" r="8.5" fill="#555657"/>
<circle cx="1265.5" cy="1477.7" r="8.5" fill="#555657"/>
<circle cx="1351.4" cy="1487.8" r="8.5" fill="#555657"/>
<circle cx="1376.2" cy="1504.6" r="8.5" fill="#555657"/>
<circle cx="1444.8" cy="1467.1" r="8.5" fill="#555657"/>
<circle cx="1352.1" cy="1466.7" r="8.5" fill="#555657"/>
<circle cx="1396.9" cy="1471.2" r="8.5" fill="#555657"/>
<circle cx="1336.1" cy="1492.5" r="8.5" fill="#555657"/>
<circle cx="1207.1" cy="1456.5" r="8.5" fill="#555657"/>
<circle cx="1271.8" cy="1461.6" r="8.5" fill="#555657"/>
<circle cx="1197.5" cy="1441.6" r="8.5" fill="#3B1250"/>
<circle cx="1313.7" cy="1443.5" r="8.5" fill="#3B1250"/>
<circle cx="1290.8" cy="1486.6" r="8.5" fill="#555657"/>
<circle cx="1346.0" cy="1501.9" r="8.5" fill="#555657"/>
<circle cx="1322.2" cy="1474.1" r="8.5" fill="#555657"/>
<circle cx="1223.9" cy="1425.7" r="8.5" fill="#3B1250"/>
<circle cx="1289.7" cy="1490.3" r="8.5" fill="#555657"/>
<circle cx="1258.5" cy="1454.7" r="8.5" fill="#555657"/>
<circle cx="1383.1" cy="1465.6" r="8.5" fill="#555657"/>
<circle cx="1294.3" cy="1473.8" r="8.5" fill="#555657"/>
<circle cx="1389.0" cy="1490.3" r="8.5" fill="#555657"/>
<circle cx="1375.8" cy="1475.5" r="8.5" fill="#555657"/>
<circle cx="1418.8" cy="1464.0" r="8.5" fill="#555657"/>
<circle cx="1284.6" cy="1458.1" r="8.5" fill="#555657"/>
<circle cx="1419.2" cy="1477.6" r="8.5" fill="#555657"/>
<circle cx="1273.6" cy="1476.5" r="8.5" fill="#555657"/>
<circle cx="1321.7" cy="1438.8" r="8.5" fill="#3B1250"/>
<circle cx="1294.6" cy="1459.4" r="8.5" fill="#555657"/>
<circle cx="1423.0" cy="1491.6" r="8.5" fill="#555657"/>
<circle cx="1423.8" cy="1464.2" r="8.5" fill="#555657"/>
<circle cx="1323.6" cy="1432.2" r="8.5" fill="#3B1250"/>
<circle cx="1358.8" cy="1474.7" r="8.5" fill="#555657"/>
<circle cx="1433.8" cy="1475.8" r="8.5" fill="#555657"/>
<circle cx="1349.1" cy="1469.9" r="8.5" fill="#555657"/>
<circle cx="1235.9" cy="1459.2" r="8.5" fill="#555657"/>
<circle cx="1345.1" cy="1466.7" r="8.5" fill="#555657"/>
<circle cx="1385.4" cy="1490.6" r="8.5" fill="#555657"/>
<circle cx="1336.2" cy="1454.1" r="8.5" fill="#555657"/>
<circle cx="1309.7" cy="1438.1" r="8.5" fill="#3B1250"/>
<circle cx="1217.3" cy="1436.7" r="8.5" fill="#3B1250"/>
<circle cx="1354.4" cy="1496.6" r="8.5" fill="#555657"/>
<circle cx="1351.6" cy="1488.0" r="8.5" fill="#555657"/>
<circle cx="1451.3" cy="1473.4" r="8.5" fill="#555657"/>
<circle cx="1410.6" cy="1475.3" r="8.5" fill="#555657"/>
<circle cx="1370.7" cy="1488.4" r="8.5" fill="#555657"/>
<circle cx="1246.3" cy="1460.6" r="8.5" fill="#555657"/>
<circle cx="1345.0" cy="1475.8" r="8.5" fill="#555657"/>
<circle cx="1423.8" cy="1489.3" r="8.5" fill="#555657"/>
<circle cx="1357.5" cy="1474.1" r="8.5" fill="#555657"/>
<circle cx="1204.6" cy="1441.6" r="8.5" fill="#3B1250"/>
<circle cx="1426.4" cy="1472.6" r="8.5" fill="#555657"/>
<circle cx="1318.6" cy="1459.9" r="8.5" fill="#555657"/>
<circle cx="1247.5" cy="1422.7" r="8.5" fill="#3B1250"/>
<circle cx="1384.2" cy="1497.7" r="8.5" fill="#555657"/>
<circle cx="1345.6" cy="1474.5" r="8.5" fill="#555657"/>
<circle cx="1239.5" cy="1463.6" r="8.5" fill="#555657"/>
<circle cx="1351.6" cy="1508.7" r="8.5" fill="#555657"/>
<circle cx="1385.1" cy="1496.0" r="8.5" fill="#555657"/>
<circle cx="1392.9" cy="1474.6" r="8.5" fill="#555657"/>
<circle cx="1415.2" cy="1475.2" r="8.5" fill="#555657"/>
<circle cx="1229.5" cy="1439.3" r="8.5" fill="#3B1250"/>
<circle cx="1342.8" cy="1485.3" r="8.5" fill="#555657"/>
<circle cx="1353.6" cy="1472.7" r="8.5" fill="#555657"/>
<circle cx="1254.0" cy="1473.7" r="8.5" fill="#555657"/>
<circle cx="1361.1" cy="1489.1" r="8.5" fill="#555657"/>
<circle cx="1356.7" cy="1479.6" r="8.5" fill="#555657"/>
<circle cx="1329.6" cy="1497.6" r="8.5" fill="#555657"/>
<circle cx="1285.3" cy="1417.3" r="8.5" fill="#3B1250"/>
<circle cx="1253.0" cy="1460.2" r="8.5" fill="#555657"/>
<circle cx="1307.2" cy="1438.1" r="8.5" fill="#3B1250"/>
<circle cx="1401.8" cy="1500.8" r="8.5" fill="#555657"/>
<circle cx="1429.3" cy="1477.0" r="8.5" fill="#555657"/>
<circle cx="1312.8" cy="1478.5" r="8.5" fill="#555657"/>
<circle cx="1259.8" cy="1469.8" r="8.5" fill="#555657"/>
<circle cx="1434.2" cy="1469.9" r="8.5" fill="#555657"/>
<circle cx="1324.4" cy="1490.7" r="8.5" fill="#555657"/>
<circle cx="1347.4" cy="1443.3" r="8.5" fill="#3B1250"/>
<circle cx="1387.2" cy="1477.6" r="8.5" fill="#555657"/>
<circle cx="1434.9" cy="1482.9" r="8.5" fill="#555657"/>
<circle cx="1342.2" cy="1462.9" r="8.5" fill="#555657"/>
<circle cx="1454.8" cy="1456.7" r="8.5" fill="#555657"/>
<circle cx="1318.2" cy="1501.6" r="8.5" fill="#555657"/>
<circle cx="1280.6" cy="1476.3" r="8.5" fill="#555657"/>
<circle cx="1270.9" cy="1457.8" r="8.5" fill="#555657"/>
<circle cx="1292.7" cy="1465.7" r="8.5" fill="#555657"/>
<circle cx="1391.6" cy="1500.3" r="8.5" fill="#555657"/>
<circle cx="1392.4" cy="1505.9" r="8.5" fill="#555657"/>
<circle cx="1235.7" cy="1443.7" r="8.5" fill="#3B1250"/>
<circle cx="1375.3" cy="1490.4" r="8.5" fill="#555657"/>
<circle cx="1408.9" cy="1473.2" r="8.5" fill="#555657"/>
<circle cx="1414.2" cy="1466.4" r="8.5" fill="#555657"/>
<circle cx="1342.6" cy="1441.5" r="8.5" fill="#3B1250"/>
<circle cx="1291.3" cy="1465.3" r="8.5" fill="#555657"/>
<circle cx="1467.1" cy="1458.7" r="8.5" fill="#555657"/>
<circle cx="1415.4" cy="1482.9" r="8.5" fill="#555657"/>
<circle cx="1299.7" cy="1486.9" r="8.5" fill="#555657"/>
<circle cx="1347.0" cy="1507.8" r="8.5" fill="#555657"/>
<circle cx="1320.5" cy="1485.7" r="8.5" fill="#555657"/>
<circle cx="1209.2" cy="1443.8" r="8.5" fill="#3B1250"/>
<circle cx="1321.1" cy="1483.0" r="8.5" fill="#555657"/>
<circle cx="1436.2" cy="1461.8" r="8.5" fill="#555657"/>
<circle cx="1301.6" cy="1472.5" r="8.5" fill="#555657"/>
<circle cx="1253.0" cy="1482.4" r="8.5" fill="#555657"/>
<circle cx="1356.3" cy="1475.3" r="8.5" fill="#555657"/>
<circle cx="1388.1" cy="1492.0" r="8.5" fill="#555657"/>
<circle cx="1402.9" cy="1467.3" r="8.5" fill="#555657"/>
<circle cx="1223.6" cy="1457.2" r="8.5" fill="#555657"/>
<circle cx="1367.0" cy="1500.6" r="8.5" fill="#555657"/>
<circle cx="1405.5" cy="1441.2" r="8.5" fill="#3B1250"/>
<circle cx="1334.0" cy="1441.7" r="8.5" fill="#3B1250"/>
<circle cx="1425.4" cy="1479.3" r="8.5" fill="#555657"/>
<circle cx="1248.3" cy="1466.5" r="8.5" fill="#555657"/>
<circle cx="1387.5" cy="1483.2" r="8.5" fill="#555657"/>
<circle cx="1304.5" cy="1435.7" r="8.5" fill="#3B1250"/>
<circle cx="1340.0" cy="1497.2" r="8.5" fill="#555657"/>
<circle cx="1403.3" cy="1499.0" r="8.5" fill="#555657"/>
<circle cx="1324.7" cy="1457.3" r="8.5" fill="#555657"/>
<circle cx="1372.3" cy="1472.2" r="8.5" fill="#555657"/>
<circle cx="1395.2" cy="1467.9" r="8.5" fill="#555657"/>
<circle cx="1465.1" cy="1463.3" r="8.5" fill="#555657"/>
<circle cx="1198.3" cy="1457.3" r="8.5" fill="#555657"/>
<circle cx="1368.4" cy="1500.0" r="8.5" fill="#555657"/>
<circle cx="1288.7" cy="1484.3" r="8.5" fill="#555657"/>
<circle cx="1282.3" cy="1477.8" r="8.5" fill="#555657"/>
<circle cx="1465.8" cy="1466.8" r="8.5" fill="#555657"/>
<circle cx="1407.9" cy="1497.9" r="8.5" fill="#555657"/>
<circle cx="1366.5" cy="1510.2" r="8.5" fill="#555657"/>
<circle cx="1317.6" cy="1479.2" r="8.5" fill="#555657"/>
<circle cx="1453.9" cy="1437.7" r="8.5" fill="#3B1250"/>
<circle cx="1323.9" cy="1489.9" r="8.5" fill="#555657"/>
<circle cx="1316.5" cy="1461.2" r="8.5" fill="#555657"/>
<circle cx="1252.2" cy="1468.9" r="8.5" fill="#555657"/>
<circle cx="1354.5" cy="1491.7" r="8.5" fill="#555657"/>
<circle cx="1420.8" cy="1461.1" r="8.5" fill="#555657"/>
<circle cx="1450.8" cy="1461.6" r="8.5" fill="#555657"/>
<circle cx="1449.3" cy="1441.7" r="8.5" fill="#3B1250"/>
<circle cx="1277.6" cy="1474.7" r="8.5" fill="#555657"/>
<circle cx="1312.5" cy="1455.0" r="8.5" fill="#555657"/>
<circle cx="1351.3" cy="1459.5" r="8.5" fill="#555657"/>
<circle cx="1397.8" cy="1480.9" r="8.5" fill="#555657"/>
<circle cx="1286.6" cy="1465.1" r="8.5" fill="#555657"/>
<circle cx="1222.4" cy="1430.7" r="8.5" fill="#3B1250"/>
<circle cx="1294.1" cy="1481.9" r="8.5" fill="#555657"/>
<circle cx="1440.4" cy="1467.8" r="8.5" fill="#555657"/>
<circle cx="1248.7" cy="1430.1" r="8.5" fill="#3B1250"/>
<circle cx="1253.8" cy="1482.6" r="8.5" fill="#555657"/>
<circle cx="1302.9" cy="1472.3" r="8.5" fill="#555657"/>
<circle cx="1507.5" cy="1445.4" r="8.5" fill="#3B1250"/>
<circle cx="1395.7" cy="1479.9" r="8.5" fill="#555657"/>
<circle cx="1242.1" cy="1467.0" r="8.5" fill="#555657"/>
<circle cx="1304.0" cy="1496.9" r="8.5" fill="#555657"/>
<circle cx="1353.7" cy="1508.6" r="8.5" fill="#555657"/>
<circle cx="1285.2" cy="1477.7" r="8.5" fill="#555657"/>
<circle cx="1467.8" cy="1443.2" r="8.5" fill="#3B1250"/>
<circle cx="1295.3" cy="1484.6" r="8.5" fill="#555657"/>
<circle cx="1417.7" cy="1471.0" r="8.5" fill="#555657"/>
<circle cx="1282.9" cy="1459.7" r="8.5" fill="#555657"/>
<circle cx="1420.3" cy="1478.0" r="8.5" fill="#555657"/>
<circle cx="1382.0" cy="1492.8" r="8.5" fill="#555657"/>
<circle cx="1338.5" cy="1478.1" r="8.5" fill="#555657"/>
<circle cx="1266.5" cy="1418.0" r="8.5" fill="#3B1250"/>
<circle cx="1258.3" cy="1472.8" r="8.5" fill="#555657"/>
<circle cx="1337.6" cy="1475.8" r="8.5" fill="#555657"/>
<circle cx="1301.4" cy="1486.4" r="8.5" fill="#555657"/>
<circle cx="1356.6" cy="1508.0" r="8.5" fill="#555657"/>
<circle cx="1358.8" cy="1499.4" r="8.5" fill="#555657"/>
<circle cx="1310.3" cy="1496.9" r="8.5" fill="#555657"/>
<circle cx="1413.9" cy="1471.3" r="8.5" fill="#555657"/>
<circle cx="1338.5" cy="1458.0" r="8.5" fill="#555657"/>
<circle cx="1367.6" cy="1511.4" r="8.5" fill="#555657"/>
<circle cx="1335.6" cy="1457.6" r="8.5" fill="#555657"/>
<circle cx="1359.7" cy="1482.6" r="8.5" fill="#555657"/>
<circle cx="1464.2" cy="1471.2" r="8.5" fill="#555657"/>
<circle cx="1326.1" cy="1474.8" r="8.5" fill="#555657"/>
<circle cx="1356.0" cy="1458.6" r="8.5" fill="#555657"/>
<circle cx="1507.1" cy="1445.2" r="8.5" fill="#3B1250"/>
<circle cx="1429.7" cy="1458.8" r="8.5" fill="#555657"/>
<circle cx="1324.0" cy="1501.5" r="8.5" fill="#555657"/>
<circle cx="1240.5" cy="1441.1" r="8.5" fill="#3B1250"/>
<circle cx="1304.8" cy="1458.9" r="8.5" fill="#555657"/>
<circle cx="1443.2" cy="1474.0" r="8.5" fill="#555657"/>
<circle cx="1444.1" cy="1476.0" r="8.5" fill="#555657"/>
<circle cx="1288.0" cy="1458.2" r="8.5" fill="#555657"/>
<circle cx="1343.7" cy="1467.9" r="8.5" fill="#555657"/>
<circle cx="1368.1" cy="1496.9" r="8.5" fill="#555657"/>
<circle cx="1337.2" cy="1457.0" r="8.5" fill="#555657"/>
<circle cx="1320.6" cy="1495.7" r="8.5" fill="#555657"/>
<circle cx="1360.9" cy="1510.9" r="8.5" fill="#555657"/>
<circle cx="1314.4" cy="1433.1" r="8.5" fill="#3B1250"/>
<circle cx="1332.8" cy="1491.6" r="8.5" fill="#555657"/>
<circle cx="1330.2" cy="1443.6" r="8.5" fill="#3B1250"/>
<circle cx="1283.0" cy="1490.7" r="8.5" fill="#555657"/>
<circle cx="1305.4" cy="1464.9" r="8.5" fill="#555657"/>
<circle cx="1373.8" cy="1482.7" r="8.5" fill="#555657"/>
<circle cx="1287.5" cy="1467.4" r="8.5" fill="#555657"/>
<circle cx="1288.1" cy="1464.0" r="8.5" fill="#555657"/>
<circle cx="1360.1" cy="1489.9" r="8.5" fill="#555657"/>
<circle cx="1399.4" cy="1462.5" r="8.5" fill="#555657"/>
<circle cx="1339.0" cy="1488.4" r="8.5" fill="#555657"/>
<circle cx="1362.2" cy="1497.6" r="8.5" fill="#555657"/>
<circle cx="1385.4" cy="1498.3" r="8.5" fill="#555657"/>
<circle cx="1389.7" cy="1491.2" r="8.5" fill="#555657"/>
<circle cx="1429.5" cy="1474.1" r="8.5" fill="#555657"/>
<circle cx="1236.3" cy="1420.8" r="8.5" fill="#3B1250"/>
<circle cx="1463.3" cy="1461.5" r="8.5" fill="#555657"/>
<circle cx="1403.3" cy="1490.2" r="8.5" fill="#555657"/>
<circle cx="1396.4" cy="1488.4" r="8.5" fill="#555657"/>
<circle cx="1334.4" cy="1463.1" r="8.5" fill="#555657"/>
<circle cx="1281.0" cy="1460.2" r="8.5" fill="#555657"/>
<circle cx="1497.1" cy="1442.7" r="8.5" fill="#3B1250"/>
<circle cx="1389.4" cy="1466.3" r="8.5" fill="#555657"/>
<circle cx="1270.9" cy="1430.7" r="8.5" fill="#3B1250"/>
<circle cx="1445.4" cy="1482.4" r="8.5" fill="#555657"/>
<circle cx="1352.8" cy="1482.8" r="8.5" fill="#555657"/>
<circle cx="1244.2" cy="1438.4" r="8.5" fill="#3B1250"/>
<circle cx="1413.6" cy="1482.2" r="8.5" fill="#555657"/>
<circle cx="1364.4" cy="1507.1" r="8.5" fill="#555657"/>
<circle cx="1378.6" cy="1480.4" r="8.5" fill="#555657"/>
<circle cx="1422.1" cy="1472.4" r="8.5" fill="#555657"/>
<circle cx="1334.6" cy="1482.1" r="8.5" fill="#555657"/>
<circle cx="1311.0" cy="1461.0" r="8.5" fill="#555657"/>
<circle cx="1338.7" cy="1471.8" r="8.5" fill="#555657"/>
<circle cx="1362.6" cy="1499.1" r="8.5" fill="#555657"/>
<circle cx="1286.3" cy="1492.0" r="8.5" fill="#555657"/>
<circle cx="1398.1" cy="1469.5" r="8.5" fill="#555657"/>
<circle cx="1294.3" cy="1474.7" r="8.5" fill="#555657"/>
<circle cx="1408.9" cy="1497.6" r="8.5" fill="#555657"/>
<circle cx="1258.9" cy="1467.0" r="8.5" fill="#555657"/>
<circle cx="1340.1" cy="1477.2" r="8.5" fill="#555657"/>
<circle cx="1301.7" cy="1443.1" r="8.5" fill="#3B1250"/>
<circle cx="1448.1" cy="1478.9" r="8.5" fill="#555657"/>
<circle cx="1225.2" cy="1457.4" r="8.5" fill="#555657"/>
<circle cx="1307.4" cy="1475.6" r="8.5" fill="#555657"/>
<circle cx="1402.5" cy="1471.1" r="8.5" fill="#555657"/>
<circle cx="1277.8" cy="1473.5" r="8.5" fill="#555657"/>
<circle cx="1323.8" cy="1474.4" r="8.5" fill="#555657"/>
<circle cx="1349.1" cy="1476.5" r="8.5" fill="#555657"/>
<circle cx="1222.0" cy="1457.6" r="8.5" fill="#555657"/>
<circle cx="1299.4" cy="1482.1" r="8.5" fill="#555657"/>
<circle cx="1384.2" cy="1464.7" r="8.5" fill="#555657"/>
<circle cx="1334.5" cy="1498.7" r="8.5" fill="#555657"/>
<circle cx="1362.9" cy="1507.6" r="8.5" fill="#555657"/>
<circle cx="1292.9" cy="1457.7" r="8.5" fill="#555657"/>
<circle cx="1350.5" cy="1501.3" r="8.5" fill="#555657"/>
<circle cx="1386.4" cy="1492.6" r="8.5" fill="#555657"/>
<circle cx="1420.6" cy="1493.6" r="8.5" fill="#555657"/>
<circle cx="1417.1" cy="1489.9" r="8.5" fill="#555657"/>
<circle cx="1269.4" cy="1483.3" r="8.5" fill="#555657"/>
<circle cx="1326.5" cy="1478.6" r="8.5" fill="#555657"/>
<circle cx="1305.5" cy="1474.0" r="8.5" fill="#555657"/>
<circle cx="1396.5" cy="1488.0" r="8.5" fill="#555657"/>
<circle cx="1347.0" cy="1503.0" r="8.5" fill="#555657"/>
<circle cx="1437.1" cy="1440.5" r="8.5" fill="#3B1250"/>
<circle cx="1445.2" cy="1482.9" r="8.5" fill="#555657"/>
<circle cx="1272.6" cy="1483.7" r="8.5" fill="#555657"/>
<circle cx="1297.4" cy="1460.0" r="8.5" fill="#555657"/>
<circle cx="1493.9" cy="1443.0" r="8.5" fill="#3B1250"/>
<circle cx="1346.2" cy="1483.2" r="8.5" fill="#555657"/>
<circle cx="1202.1" cy="1443.4" r="8.5" fill="#3B1250"/>
<circle cx="1225.8" cy="1456.1" r="8.5" fill="#555657"/>
<circle cx="1278.1" cy="1488.4" r="8.5" fill="#555657"/>
<circle cx="1354.3" cy="1498.9" r="8.5" fill="#555657"/>
<circle cx="1460.7" cy="1461.4" r="8.5" fill="#555657"/>
<circle cx="1471.0" cy="1464.1" r="8.5" fill="#555657"/>
<circle cx="1355.5" cy="1478.5" r="8.5" fill="#555657"/>
<circle cx="1287.5" cy="1454.2" r="8.5" fill="#555657"/>
<circle cx="1238.9" cy="1458.3" r="8.5" fill="#555657"/>
<circle cx="1392.3" cy="1470.0" r="8.5" fill="#555657"/>
<circle cx="1321.1" cy="1472.6" r="8.5" fill="#555657"/>
<circle cx="1282.4" cy="1481.1" r="8.5" fill="#555657"/>
<circle cx="1310.8" cy="1478.1" r="8.5" fill="#555657"/>
<circle cx="1426.4" cy="1460.1" r="8.5" fill="#555657"/>
<circle cx="1430.7" cy="1484.7" r="8.5" fill="#555657"/>
<circle cx="1329.5" cy="1470.4" r="8.5" fill="#555657"/>
<circle cx="1355.5" cy="1482.3" r="8.5" fill="#555657"/>
<circle cx="1331.4" cy="1478.9" r="8.5" fill="#555657"/>
<circle cx="1362.7" cy="1504.5" r="8.5" fill="#555657"/>
<circle cx="1281.5" cy="1464.4" r="8.5" fill="#555657"/>
<circle cx="1353.2" cy="1458.4" r="8.5" fill="#555657"/>
<circle cx="1223.0" cy="1457.2" r="8.5" fill="#555657"/>
<circle cx="1344.1" cy="1491.2" r="8.5" fill="#555657"/>
<circle cx="1292.4" cy="1437.2" r="8.5" fill="#3B1250"/>
<circle cx="1422.2" cy="1468.8" r="8.5" fill="#555657"/>
<circle cx="1255.5" cy="1428.3" r="8.5" fill="#3B1250"/>
<circle cx="1408.9" cy="1478.3" r="8.5" fill="#555657"/>
<circle cx="1297.4" cy="1484.8" r="8.5" fill="#555657"/>
<circle cx="1438.8" cy="1478.8" r="8.5" fill="#555657"/>
<circle cx="1405.1" cy="1467.9" r="8.5" fill="#555657"/>
<circle cx="1372.0" cy="1477.5" r="8.5" fill="#555657"/>
<circle cx="1342.1" cy="1482.2" r="8.5" fill="#555657"/>
<circle cx="1386.0" cy="1499.9" r="8.5" fill="#555657"/>
<circle cx="1327.2" cy="1455.6" r="8.5" fill="#555657"/>
<circle cx="1471.6" cy="1443.2" r="8.5" fill="#3B1250"/>
<circle cx="1302.5" cy="1455.4" r="8.5" fill="#555657"/>
<circle cx="1314.6" cy="1477.3" r="8.5" fill="#555657"/>
<circle cx="1211.8" cy="1424.2" r="8.5" fill="#3B1250"/>
<circle cx="1293.2" cy="1492.3" r="8.5" fill="#555657"/>
<circle cx="1390.0" cy="1482.8" r="8.5" fill="#555657"/>
<circle cx="1359.0" cy="1497.5" r="8.5" fill="#555657"/>
<circle cx="1398.4" cy="1503.8" r="8.5" fill="#555657"/>
<circle cx="1333.0" cy="1481.3" r="8.5" fill="#555657"/>
<circle cx="1411.1" cy="1457.5" r="8.5" fill="#555657"/>
<circle cx="1309.0" cy="1464.2" r="8.5" fill="#555657"/>
<circle cx="1347.4" cy="1480.9" r="8.5" fill="#555657"/>
<circle cx="1363.2" cy="1492.3" r="8.5" fill="#555657"/>
<circle cx="1406.7" cy="1462.5" r="8.5" fill="#555657"/>
<circle cx="1280.6" cy="1460.4" r="8.5" fill="#555657"/>
<circle cx="1327.4" cy="1434.8" r="8.5" fill="#3B1250"/>
<circle cx="1274.8" cy="1488.2" r="8.5" fill="#555657"/>
<circle cx="1326.9" cy="1463.1" r="8.5" fill="#555657"/>
<circle cx="1349.1" cy="1444.6" r="8.5" fill="#3B1250"/>
<circle cx="1483.4" cy="1441.4" r="8.5" fill="#3B1250"/>
<circle cx="1410.2" cy="1479.7" r="8.5" fill="#555657"/>
<circle cx="1427.7" cy="1470.7" r="8.5" fill="#555657"/>
<circle cx="1262.2" cy="1480.0" r="8.5" fill="#555657"/>
<circle cx="1292.6" cy="1480.8" r="8.5" fill="#555657"/>
<circle cx="1448.6" cy="1479.5" r="8.5" fill="#555657"/>
<circle cx="1394.5" cy="1502.0" r="8.5" fill="#555657"/>
<circle cx="1228.2" cy="1458.3" r="8.5" fill="#555657"/>
<circle cx="1301.9" cy="1476.5" r="8.5" fill="#555657"/>
<circle cx="1336.1" cy="1491.8" r="8.5" fill="#555657"/>
<circle cx="1191.0" cy="1428.7" r="8.5" fill="#3B1250"/>
<circle cx="1380.3" cy="1470.5" r="8.5" fill="#555657"/>
<circle cx="1406.7" cy="1502.0" r="8.5" fill="#555657"/>
<circle cx="1280.7" cy="1481.2" r="8.5" fill="#555657"/>
<circle cx="1434.6" cy="1486.8" r="8.5" fill="#555657"/>
<circle cx="1322.9" cy="1480.7" r="8.5" fill="#555657"/>
<circle cx="1282.1" cy="1474.9" r="8.5" fill="#555657"/>
<circle cx="1342.5" cy="1508.2" r="8.5" fill="#555657"/>
<circle cx="1417.7" cy="1457.5" r="8.5" fill="#555657"/>
<circle cx="1419.1" cy="1474.5" r="8.5" fill="#555657"/>
<circle cx="1371.3" cy="1510.7" r="8.5" fill="#555657"/>
<circle cx="1193.2" cy="1456.5" r="8.5" fill="#555657"/>
<circle cx="1229.0" cy="1459.5" r="8.5" fill="#555657"/>
<circle cx="1266.1" cy="1455.0" r="8.5" fill="#555657"/>
<circle cx="1240.3" cy="1424.8" r="8.5" fill="#3B1250"/>
<circle cx="1428.6" cy="1442.6" r="8.5" fill="#3B1250"/>
<circle cx="1208.4" cy="1425.6" r="8.5" fill="#3B1250"/>
<circle cx="1261.3" cy="1481.9" r="8.5" fill="#555657"/>
<circle cx="1466.9" cy="1456.8" r="8.5" fill="#555657"/>
<circle cx="1344.2" cy="1466.4" r="8.5" fill="#555657"/>
<circle cx="1285.5" cy="1464.9" r="8.5" fill="#555657"/>
<circle cx="1400.9" cy="1491.3" r="8.5" fill="#555657"/>
<circle cx="1303.9" cy="1468.0" r="8.5" fill="#555657"/>
<circle cx="1345.1" cy="1497.5" r="8.5" fill="#555657"/>
<circle cx="1346.8" cy="1455.3" r="8.5" fill="#555657"/>
<circle cx="1417.2" cy="1480.7" r="8.5" fill="#555657"/>
<circle cx="1353.3" cy="1485.7" r="8.5" fill="#555657"/>
<circle cx="1344.8" cy="1471.9" r="8.5" fill="#555657"/>
<circle cx="1315.6" cy="1499.1" r="8.5" fill="#555657"/>
<circle cx="1346.0" cy="1459.9" r="8.5" fill="#555657"/>
<circle cx="1308.6" cy="1460.5" r="8.5" fill="#555657"/>
<circle cx="1358.2" cy="1483.5" r="8.5" fill="#555657"/>
<circle cx="1396.1" cy="1473.7" r="8.5" fill="#555657"/>
<circle cx="1405.2" cy="1496.0" r="8.5" fill="#555657"/>
<circle cx="1386.2" cy="1494.3" r="8.5" fill="#555657"/>
<circle cx="1322.9" cy="1496.9" r="8.5" fill="#555657"/>
<circle cx="1255.1" cy="1439.7" r="8.5" fill="#3B1250"/>
<circle cx="1298.7" cy="1418.7" r="8.5" fill="#3B1250"/>
<circle cx="1236.3" cy="1463.0" r="8.5" fill="#555657"/>
<circle cx="1245.9" cy="1471.1" r="8.5" fill="#555657"/>
<circle cx="1269.1" cy="1485.9" r="8.5" fill="#555657"/>
<circle cx="1345.8" cy="1442.1" r="8.5" fill="#3B1250"/>
<circle cx="1449.7" cy="1467.1" r="8.5" fill="#555657"/>
<circle cx="1323.9" cy="1490.0" r="8.5" fill="#555657"/>
<circle cx="1329.5" cy="1460.7" r="8.5" fill="#555657"/>
<circle cx="1415.3" cy="1488.2" r="8.5" fill="#555657"/>
<circle cx="1354.4" cy="1456.5" r="8.5" fill="#555657"/>
<circle cx="1284.9" cy="1482.0" r="8.5" fill="#555657"/>
<circle cx="1334.2" cy="1468.1" r="8.5" fill="#555657"/>
<circle cx="1353.4" cy="1484.0" r="8.5" fill="#555657"/>
<circle cx="1248.8" cy="1463.4" r="8.5" fill="#555657"/>
<circle cx="1413.4" cy="1469.3" r="8.5" fill="#555657"/>
<circle cx="1378.4" cy="1471.6" r="8.5" fill="#555657"/>
<circle cx="1384.3" cy="1505.1" r="8.5" fill="#555657"/>
<circle cx="1398.0" cy="1484.1" r="8.5" fill="#555657"/>
<circle cx="1296.9" cy="1490.8" r="8.5" fill="#555657"/>
<circle cx="1347.7" cy="1478.8" r="8.5" fill="#555657"/>
<circle cx="1405.4" cy="1500.8" r="8.5" fill="#555657"/>
<circle cx="1376.0" cy="1499.9" r="8.5" fill="#555657"/>
<circle cx="1291.1" cy="1471.0" r="8.5" fill="#555657"/>
<circle cx="1364.3" cy="1497.9" r="8.5" fill="#555657"/>
<circle cx="1439.6" cy="1440.2" r="8.5" fill="#3B1250"/>
<circle cx="1205.2" cy="1454.2" r="8.5" fill="#555657"/>
<circle cx="1312.1" cy="1474.8" r="8.5" fill="#555657"/>
<circle cx="1348.2" cy="1499.5" r="8.5" fill="#555657"/>
<circle cx="1327.0" cy="1485.5" r="8.5" fill="#555657"/>
<circle cx="1429.8" cy="1481.3" r="8.5" fill="#555657"/>
<circle cx="1359.4" cy="1506.8" r="8.5" fill="#555657"/>
<circle cx="1328.0" cy="1458.7" r="8.5" fill="#555657"/>
<circle cx="1420.6" cy="1475.8" r="8.5" fill="#555657"/>
<circle cx="1383.4" cy="1464.1" r="8.5" fill="#555657"/>
<circle cx="1269.8" cy="1471.5" r="8.5" fill="#555657"/>
<circle cx="1360.6" cy="1495.9" r="8.5" fill="#555657"/>
<circle cx="1396.6" cy="1482.1" r="8.5" fill="#555657"/>
<circle cx="1378.5" cy="1463.9" r="8.5" fill="#555657"/>
<circle cx="1426.5" cy="1482.0" r="8.5" fill="#555657"/>
<circle cx="1253.2" cy="1475.6" r="8.5" fill="#555657"/>
<circle cx="1286.3" cy="1464.5" r="8.5" fill="#555657"/>
<circle cx="1379.3" cy="1500.8" r="8.5" fill="#555657"/>
<circle cx="1379.6" cy="1499.3" r="8.5" fill="#555657"/>
<circle cx="1346.1" cy="1480.3" r="8.5" fill="#555657"/>
<circle cx="1358.9" cy="1489.8" r="8.5" fill="#555657"/>
<circle cx="1237.5" cy="1454.1" r="8.5" fill="#555657"/>
<circle cx="1374.9" cy="1474.7" r="8.5" fill="#555657"/>
<circle cx="1312.9" cy="1454.4" r="8.5" fill="#555657"/>
<circle cx="1430.5" cy="1488.3" r="8.5" fill="#555657"/>
<circle cx="1375.7" cy="1467.3" r="8.5" fill="#555657"/>
<circle cx="1290.9" cy="1486.5" r="8.5" fill="#555657"/>
<circle cx="1187.5" cy="1440.4" r="8.5" fill="#3B1250"/>
<circle cx="1332.4" cy="1459.8" r="8.5" fill="#555657"/>
<circle cx="1336.3" cy="1500.4" r="8.5" fill="#555657"/>
<circle cx="1321.8" cy="1473.7" r="8.5" fill="#555657"/>
<circle cx="1361.1" cy="1483.0" r="8.5" fill="#555657"/>
<circle cx="1356.5" cy="1511.0" r="8.5" fill="#555657"/>
<circle cx="1468.4" cy="1459.3" r="8.5" fill="#555657"/>
<circle cx="1206.9" cy="1458.0" r="8.5" fill="#555657"/>
<circle cx="1318.3" cy="1463.3" r="8.5" fill="#555657"/>
<circle cx="1335.8" cy="1490.4" r="8.5" fill="#555657"/>
<circle cx="1244.2" cy="1465.8" r="8.5" fill="#555657"/>
<circle cx="1469.0" cy="1470.2" r="8.5" fill="#555657"/>
<circle cx="1325.5" cy="1483.9" r="8.5" fill="#555657"/>
<circle cx="1435.1" cy="1476.6" r="8.5" fill="#555657"/>
<circle cx="1224.4" cy="1442.1" r="8.5" fill="#3B1250"/>
<circle cx="1372.6" cy="1475.3" r="8.5" fill="#555657"/>
<circle cx="1339.4" cy="1505.2" r="8.5" fill="#555657"/>
<circle cx="1369.9" cy="1487.3" r="8.5" fill="#555657"/>
<circle cx="1348.2" cy="1443.8" r="8.5" fill="#3B1250"/>
<circle cx="1358.8" cy="1479.9" r="8.5" fill="#555657"/>
<circle cx="1211.0" cy="1456.5" r="8.5" fill="#555657"/>
<circle cx="1306.0" cy="1490.4" r="8.5" fill="#555657"/>
<circle cx="1251.7" cy="1429.4" r="8.5" fill="#3B1250"/>
<circle cx="1367.0" cy="1502.6" r="8.5" fill="#555657"/>
<circle cx="1420.7" cy="1468.3" r="8.5" fill="#555657"/>
<circle cx="1393.2" cy="1458.3" r="8.5" fill="#555657"/>
<circle cx="1266.0" cy="1471.4" r="8.5" fill="#555657"/>
<circle cx="1362.8" cy="1510.7" r="8.5" fill="#555657"/>
<circle cx="1221.0" cy="1454.7" r="8.5" fill="#555657"/>
<circle cx="1400.7" cy="1474.1" r="8.5" fill="#555657"/>
<circle cx="1228.4" cy="1456.9" r="8.5" fill="#555657"/>
<circle cx="1288.2" cy="1464.9" r="8.5" fill="#555657"/>
<circle cx="1407.4" cy="1497.8" r="8.5" fill="#555657"/>
<circle cx="1272.2" cy="1423.1" r="8.5" fill="#3B1250"/>
<circle cx="1275.9" cy="1430.9" r="8.5" fill="#3B1250"/>
<circle cx="1291.7" cy="1463.0" r="8.5" fill="#555657"/>
<circle cx="1318.8" cy="1500.1" r="8.5" fill="#555657"/>
<circle cx="1495.5" cy="1456.8" r="8.5" fill="#555657"/>
<circle cx="1389.7" cy="1507.7" r="8.5" fill="#555657"/>
<circle cx="1315.2" cy="1468.1" r="8.5" fill="#555657"/>
<circle cx="1361.9" cy="1498.4" r="8.5" fill="#555657"/>
<circle cx="1244.6" cy="1468.2" r="8.5" fill="#555657"/>
<circle cx="1295.7" cy="1432.7" r="8.5" fill="#3B1250"/>
<circle cx="1327.4" cy="1473.1" r="8.5" fill="#555657"/>
<circle cx="1371.5" cy="1477.0" r="8.5" fill="#555657"/>
<circle cx="1357.9" cy="1477.1" r="8.5" fill="#555657"/>
<circle cx="1330.5" cy="1483.9" r="8.5" fill="#555657"/>
<circle cx="1251.2" cy="1479.2" r="8.5" fill="#555657"/>
<circle cx="1323.2" cy="1434.3" r="8.5" fill="#3B1250"/>
<circle cx="1257.1" cy="1481.1" r="8.5" fill="#555657"/>
<circle cx="1393.6" cy="1445.0" r="8.5" fill="#3B1250"/>
<circle cx="1337.6" cy="1469.1" r="8.5" fill="#555657"/>
<circle cx="1353.6" cy="1488.4" r="8.5" fill="#555657"/>
<circle cx="1239.7" cy="1465.6" r="8.5" fill="#555657"/>
<circle cx="1247.9" cy="1441.8" r="8.5" fill="#3B1250"/>
<circle cx="1332.1" cy="1488.8" r="8.5" fill="#555657"/>
<circle cx="1355.1" cy="1454.2" r="8.5" fill="#555657"/>
<circle cx="1407.6" cy="1460.2" r="8.5" fill="#555657"/>
<circle cx="1314.6" cy="1435.5" r="8.5" fill="#3B1250"/>
<circle cx="1346.9" cy="1492.6" r="8.5" fill="#555657"/>
<circle cx="1347.8" cy="1482.9" r="8.5" fill="#555657"/>
<circle cx="1344.6" cy="1507.2" r="8.5" fill="#555657"/>
<circle cx="1395.3" cy="1479.4" r="8.5" fill="#555657"/>
<circle cx="1412.5" cy="1482.5" r="8.5" fill="#555657"/>
<circle cx="1291.2" cy="1470.2" r="8.5" fill="#555657"/>
<circle cx="1306.7" cy="1496.5" r="8.5" fill="#555657"/>
<circle cx="1337.9" cy="1467.9" r="8.5" fill="#555657"/>
<circle cx="1447.9" cy="1464.1" r="8.5" fill="#555657"/>
<circle cx="1426.4" cy="1485.8" r="8.5" fill="#555657"/>
<circle cx="1401.9" cy="1459.1" r="8.5" fill="#555657"/>
<circle cx="1286.8" cy="1490.6" r="8.5" fill="#555657"/>
<circle cx="1411.4" cy="1474.5" r="8.5" fill="#555657"/>
<circle cx="1391.9" cy="1460.2" r="8.5" fill="#555657"/>
<circle cx="1358.4" cy="1499.4" r="8.5" fill="#555657"/>
<circle cx="1231.7" cy="1456.0" r="8.5" fill="#555657"/>
<circle cx="1410.6" cy="1486.9" r="8.5" fill="#555657"/>
<circle cx="1336.1" cy="1462.4" r="8.5" fill="#555657"/>
<circle cx="1308.0" cy="1491.6" r="8.5" fill="#555657"/>
<circle cx="1404.5" cy="1463.3" r="8.5" fill="#555657"/>
<circle cx="1302.6" cy="1443.8" r="8.5" fill="#3B1250"/>
<circle cx="1373.1" cy="1503.3" r="8.5" fill="#555657"/>
<circle cx="1246.2" cy="1462.9" r="8.5" fill="#555657"/>
<circle cx="1317.2" cy="1488.1" r="8.5" fill="#555657"/>
<circle cx="1386.9" cy="1461.6" r="8.5" fill="#555657"/>
<circle cx="1507.6" cy="1445.4" r="8.5" fill="#3B1250"/>
<circle cx="1415.4" cy="1491.4" r="8.5" fill="#555657"/>
<circle cx="1333.2" cy="1488.9" r="8.5" fill="#555657"/>
<circle cx="1220.3" cy="1454.3" r="8.5" fill="#555657"/>
<circle cx="1392.7" cy="1474.3" r="8.5" fill="#555657"/>
<circle cx="1354.1" cy="1470.4" r="8.5" fill="#555657"/>
<circle cx="1347.1" cy="1509.2" r="8.5" fill="#555657"/>
<circle cx="1401.4" cy="1470.4" r="8.5" fill="#555657"/>
<circle cx="1334.9" cy="1467.1" r="8.5" fill="#555657"/>
<circle cx="1295.7" cy="1472.5" r="8.5" fill="#555657"/>
<circle cx="1425.9" cy="1477.0" r="8.5" fill="#555657"/>
<circle cx="1351.5" cy="1503.7" r="8.5" fill="#555657"/>
<circle cx="1255.5" cy="1457.8" r="8.5" fill="#555657"/>
<circle cx="1465.0" cy="1462.1" r="8.5" fill="#555657"/>
<circle cx="1306.2" cy="1471.4" r="8.5" fill="#555657"/>
<circle cx="1458.3" cy="1459.6" r="8.5" fill="#555657"/>
<circle cx="1210.2" cy="1429.7" r="8.5" fill="#3B1250"/>
<circle cx="1430.8" cy="1478.3" r="8.5" fill="#555657"/>
<circle cx="1439.0" cy="1473.8" r="8.5" fill="#555657"/>
<circle cx="1327.2" cy="1431.4" r="8.5" fill="#3B1250"/>
<circle cx="1210.0" cy="1456.5" r="8.5" fill="#555657"/>
<circle cx="1374.2" cy="1484.4" r="8.5" fill="#555657"/>
<circle cx="1297.7" cy="1493.5" r="8.5" fill="#555657"/>
<circle cx="1302.5" cy="1467.7" r="8.5" fill="#555657"/>
<circle cx="1231.2" cy="1458.7" r="8.5" fill="#555657"/>
<circle cx="1425.1" cy="1481.1" r="8.5" fill="#555657"/>
<circle cx="1368.1" cy="1512.2" r="8.5" fill="#555657"/>
<circle cx="1326.2" cy="1481.2" r="8.5" fill="#555657"/>
<circle cx="1328.7" cy="1430.9" r="8.5" fill="#3B1250"/>
<circle cx="1457.9" cy="1435.9" r="8.5" fill="#3B1250"/>
<circle cx="1350.0" cy="1495.0" r="8.5" fill="#555657"/>
<circle cx="1362.9" cy="1496.2" r="8.5" fill="#555657"/>
<circle cx="1480.5" cy="1458.9" r="8.5" fill="#555657"/>
<circle cx="1370.9" cy="1511.9" r="8.5" fill="#555657"/>
<circle cx="1411.4" cy="1460.9" r="8.5" fill="#555657"/>
<circle cx="1360.2" cy="1488.0" r="8.5" fill="#555657"/>
<circle cx="1349.4" cy="1456.7" r="8.5" fill="#555657"/>
<circle cx="1447.6" cy="1480.6" r="8.5" fill="#555657"/>
<circle cx="1479.8" cy="1457.8" r="8.5" fill="#555657"/>
<circle cx="1311.8" cy="1489.5" r="8.5" fill="#555657"/>
<circle cx="1388.2" cy="1501.8" r="8.5" fill="#555657"/>
<circle cx="1333.6" cy="1438.9" r="8.5" fill="#3B1250"/>
<circle cx="1194.3" cy="1453.9" r="8.5" fill="#555657"/>
<circle cx="1375.1" cy="1507.5" r="8.5" fill="#555657"/>
<circle cx="1388.6" cy="1447.0" r="8.5" fill="#3B1250"/>
<circle cx="1302.6" cy="1471.3" r="8.5" fill="#555657"/>
<circle cx="1347.9" cy="1470.7" r="8.5" fill="#555657"/>
<circle cx="1308.2" cy="1438.3" r="8.5" fill="#3B1250"/>
<circle cx="1317.5" cy="1501.8" r="8.5" fill="#555657"/>
<circle cx="1344.2" cy="1468.4" r="8.5" fill="#555657"/>
<circle cx="1313.1" cy="1442.8" r="8.5" fill="#3B1250"/>
<circle cx="1360.9" cy="1492.4" r="8.5" fill="#555657"/>
<circle cx="1255.0" cy="1414.3" r="8.5" fill="#3B1250"/>
<circle cx="1275.9" cy="1459.2" r="8.5" fill="#555657"/>
<circle cx="1324.9" cy="1488.5" r="8.5" fill="#555657"/>
<circle cx="1440.2" cy="1472.8" r="8.5" fill="#555657"/>
<circle cx="1286.3" cy="1480.0" r="8.5" fill="#555657"/>
<circle cx="1378.8" cy="1476.1" r="8.5" fill="#555657"/>
<circle cx="1229.7" cy="1456.5" r="8.5" fill="#555657"/>
<circle cx="1377.7" cy="1461.4" r="8.5" fill="#555657"/>
<circle cx="1303.8" cy="1478.8" r="8.5" fill="#555657"/>
<circle cx="1456.3" cy="1474.0" r="8.5" fill="#555657"/>
<circle cx="1422.4" cy="1466.1" r="8.5" fill="#555657"/>
<circle cx="1240.6" cy="1464.2" r="8.5" fill="#555657"/>
<circle cx="1455.3" cy="1458.2" r="8.5" fill="#555657"/>
<circle cx="1371.8" cy="1477.4" r="8.5" fill="#555657"/>
<circle cx="1346.3" cy="1473.8" r="8.5" fill="#555657"/>
<circle cx="1395.8" cy="1464.7" r="8.5" fill="#555657"/>
<circle cx="1324.2" cy="1469.3" r="8.5" fill="#555657"/>
<circle cx="1434.9" cy="1483.1" r="8.5" fill="#555657"/>
<circle cx="1346.3" cy="1441.8" r="8.5" fill="#3B1250"/>
<circle cx="1343.6" cy="1480.1" r="8.5" fill="#555657"/>
<circle cx="1272.5" cy="1481.3" r="8.5" fill="#555657"/>
<circle cx="1430.9" cy="1440.9" r="8.5" fill="#3B1250"/>
<circle cx="1292.3" cy="1469.7" r="8.5" fill="#555657"/>
<circle cx="1283.3" cy="1488.7" r="8.5" fill="#555657"/>
<circle cx="1218.5" cy="1457.2" r="8.5" fill="#555657"/>
<circle cx="1398.6" cy="1494.7" r="8.5" fill="#555657"/>
<circle cx="1424.5" cy="1469.9" r="8.5" fill="#555657"/>
<circle cx="1315.4" cy="1483.1" r="8.5" fill="#555657"/>
<circle cx="1318.2" cy="1472.7" r="8.5" fill="#555657"/>
<circle cx="1300.3" cy="1461.6" r="8.5" fill="#555657"/>
<circle cx="1374.5" cy="1511.8" r="8.5" fill="#555657"/>
<circle cx="1281.9" cy="1472.3" r="8.5" fill="#555657"/>
<circle cx="1435.3" cy="1477.6" r="8.5" fill="#555657"/>
<circle cx="1432.4" cy="1472.3" r="8.5" fill="#555657"/>
<circle cx="1278.4" cy="1460.8" r="8.5" fill="#555657"/>
<circle cx="1336.3" cy="1465.9" r="8.5" fill="#555657"/>
<circle cx="1307.7" cy="1463.5" r="8.5" fill="#555657"/>
<circle cx="1414.6" cy="1466.1" r="8.5" fill="#555657"/>
<circle cx="1248.7" cy="1466.2" r="8.5" fill="#555657"/>
<circle cx="1474.9" cy="1465.5" r="8.5" fill="#555657"/>
<circle cx="1358.0" cy="1486.2" r="8.5" fill="#555657"/>
<circle cx="1249.2" cy="1456.3" r="8.5" fill="#555657"/>
<circle cx="1187.0" cy="1430.0" r="8.5" fill="#3B1250"/>
<circle cx="1330.9" cy="1493.9" r="8.5" fill="#555657"/>
<circle cx="1230.0" cy="1456.0" r="8.5" fill="#555657"/>
<circle cx="1323.7" cy="1486.0" r="8.5" fill="#555657"/>
<circle cx="1367.4" cy="1513.0" r="8.5" fill="#555657"/>
<circle cx="1348.5" cy="1444.0" r="8.5" fill="#3B1250"/>
<circle cx="1380.8" cy="1459.3" r="8.5" fill="#555657"/>
<circle cx="1370.9" cy="1485.3" r="8.5" fill="#555657"/>
<circle cx="1346.4" cy="1442.8" r="8.5" fill="#3B1250"/>
<circle cx="1397.4" cy="1490.2" r="8.5" fill="#555657"/>
<circle cx="1427.4" cy="1466.4" r="8.5" fill="#555657"/>
<circle cx="1270.1" cy="1468.3" r="8.5" fill="#555657"/>
<circle cx="1412.4" cy="1465.0" r="8.5" fill="#555657"/>
<circle cx="1442.1" cy="1465.2" r="8.5" fill="#555657"/>
<circle cx="1369.8" cy="1504.4" r="8.5" fill="#555657"/>
<circle cx="1400.6" cy="1461.5" r="8.5" fill="#555657"/>
<circle cx="1241.0" cy="1468.0" r="8.5" fill="#555657"/>
<circle cx="1405.8" cy="1468.4" r="8.5" fill="#555657"/>
<circle cx="1339.8" cy="1495.8" r="8.5" fill="#555657"/>
<circle cx="1333.7" cy="1471.4" r="8.5" fill="#555657"/>
<circle cx="1273.7" cy="1469.7" r="8.5" fill="#555657"/>
<circle cx="1438.7" cy="1464.5" r="8.5" fill="#555657"/>
<circle cx="1407.0" cy="1470.5" r="8.5" fill="#555657"/>
<circle cx="1237.0" cy="1443.4" r="8.5" fill="#3B1250"/>
<circle cx="1290.5" cy="1472.1" r="8.5" fill="#555657"/>
<circle cx="1400.0" cy="1463.5" r="8.5" fill="#555657"/>
<circle cx="1258.6" cy="1461.4" r="8.5" fill="#555657"/>
<circle cx="1255.7" cy="1466.8" r="8.5" fill="#555657"/>
<circle cx="1237.2" cy="1426.8" r="8.5" fill="#3B1250"/>
<circle cx="1260.1" cy="1479.3" r="8.5" fill="#555657"/>
<circle cx="1278.0" cy="1483.1" r="8.5" fill="#555657"/>
<circle cx="1354.5" cy="1482.9" r="8.5" fill="#555657"/>
<circle cx="1240.1" cy="1461.9" r="8.5" fill="#555657"/>
<circle cx="1361.8" cy="1487.5" r="8.5" fill="#555657"/>
<circle cx="1354.1" cy="1478.3" r="8.5" fill="#555657"/>
<circle cx="1385.7" cy="1448.1" r="8.5" fill="#3B1250"/>
<circle cx="1331.9" cy="1428.0" r="8.5" fill="#3B1250"/>
<circle cx="1341.0" cy="1471.9" r="8.5" fill="#555657"/>
<circle cx="1304.4" cy="1458.9" r="8.5" fill="#555657"/>
<circle cx="1329.9" cy="1497.5" r="8.5" fill="#555657"/>
<circle cx="1260.7" cy="1463.3" r="8.5" fill="#555657"/>
<circle cx="1381.9" cy="1474.9" r="8.5" fill="#555657"/>
<circle cx="1332.4" cy="1432.7" r="8.5" fill="#3B1250"/>
<circle cx="1328.4" cy="1428.8" r="8.5" fill="#3B1250"/>
<circle cx="1270.8" cy="1480.8" r="8.5" fill="#555657"/>
<circle cx="1265.1" cy="1484.0" r="8.5" fill="#555657"/>
<circle cx="1416.0" cy="1486.0" r="8.5" fill="#555657"/>
<circle cx="1355.2" cy="1487.9" r="8.5" fill="#555657"/>
<circle cx="1330.0" cy="1490.1" r="8.5" fill="#555657"/>
<circle cx="1346.0" cy="1484.5" r="8.5" fill="#555657"/>
<circle cx="1302.3" cy="1419.7" r="8.5" fill="#3B1250"/>
<circle cx="1311.8" cy="1488.0" r="8.5" fill="#555657"/>
<circle cx="1318.2" cy="1499.4" r="8.5" fill="#555657"/>
<circle cx="1272.5" cy="1426.2" r="8.5" fill="#3B1250"/>
<circle cx="1318.5" cy="1478.5" r="8.5" fill="#555657"/>
<circle cx="1351.2" cy="1457.7" r="8.5" fill="#555657"/>
<circle cx="1334.1" cy="1494.3" r="8.5" fill="#555657"/>
<circle cx="1276.2" cy="1471.1" r="8.5" fill="#555657"/>
<circle cx="1281.1" cy="1461.9" r="8.5" fill="#555657"/>
<circle cx="1372.6" cy="1486.3" r="8.5" fill="#555657"/>
<circle cx="1360.7" cy="1502.5" r="8.5" fill="#555657"/>
<circle cx="1405.1" cy="1488.0" r="8.5" fill="#555657"/>
<circle cx="1311.3" cy="1455.3" r="8.5" fill="#555657"/>
<circle cx="1387.6" cy="1476.8" r="8.5" fill="#555657"/>
<circle cx="1361.0" cy="1483.5" r="8.5" fill="#555657"/>
<circle cx="1268.6" cy="1428.3" r="8.5" fill="#3B1250"/>
<circle cx="1293.4" cy="1454.6" r="8.5" fill="#555657"/>
<circle cx="1194.6" cy="1454.2" r="8.5" fill="#555657"/>
<circle cx="1317.6" cy="1454.1" r="8.5" fill="#555657"/>
<circle cx="1375.4" cy="1466.3" r="8.5" fill="#555657"/>
<circle cx="1354.8" cy="1462.1" r="8.5" fill="#555657"/>
<circle cx="1332.0" cy="1473.4" r="8.5" fill="#555657"/>
<circle cx="1320.4" cy="1470.7" r="8.5" fill="#555657"/>
<circle cx="1311.1" cy="1443.3" r="8.5" fill="#3B1250"/>
<circle cx="1379.0" cy="1502.7" r="8.5" fill="#555657"/>
<circle cx="1335.8" cy="1473.5" r="8.5" fill="#555657"/>
<circle cx="1365.0" cy="1504.3" r="8.5" fill="#555657"/>
<circle cx="1403.9" cy="1441.3" r="8.5" fill="#3B1250"/>
<circle cx="1367.0" cy="1511.4" r="8.5" fill="#555657"/>
<circle cx="1317.7" cy="1425.2" r="8.5" fill="#3B1250"/>
<circle cx="1268.3" cy="1438.6" r="8.5" fill="#3B1250"/>
<circle cx="1454.0" cy="1467.7" r="8.5" fill="#555657"/>
<circle cx="1434.0" cy="1486.0" r="8.5" fill="#555657"/>
<circle cx="1350.6" cy="1493.6" r="8.5" fill="#555657"/>
<circle cx="1214.2" cy="1420.4" r="8.5" fill="#3B1250"/>
<circle cx="1323.5" cy="1423.5" r="8.5" fill="#3B1250"/>
<circle cx="1395.1" cy="1499.7" r="8.5" fill="#555657"/>
<circle cx="1299.1" cy="1480.5" r="8.5" fill="#555657"/>
<circle cx="1346.0" cy="1455.5" r="8.5" fill="#555657"/>
<circle cx="1359.6" cy="1500.1" r="8.5" fill="#555657"/>
<circle cx="1407.0" cy="1474.7" r="8.5" fill="#555657"/>
<circle cx="1361.5" cy="1492.5" r="8.5" fill="#555657"/>
<circle cx="1243.0" cy="1458.8" r="8.5" fill="#555657"/>
<circle cx="1354.2" cy="1474.6" r="8.5" fill="#555657"/>
<circle cx="1245.9" cy="1474.9" r="8.5" fill="#555657"/>
<circle cx="1348.5" cy="1459.8" r="8.5" fill="#555657"/>
<circle cx="1401.9" cy="1462.0" r="8.5" fill="#555657"/>
<circle cx="1311.9" cy="1498.9" r="8.5" fill="#555657"/>
<circle cx="1239.3" cy="1467.2" r="8.5" fill="#555657"/>
<circle cx="1371.0" cy="1491.1" r="8.5" fill="#555657"/>
<circle cx="1333.6" cy="1481.8" r="8.5" fill="#555657"/>
<circle cx="1262.9" cy="1479.6" r="8.5" fill="#555657"/>
<circle cx="1445.1" cy="1477.4" r="8.5" fill="#555657"/>
<circle cx="1464.8" cy="1465.4" r="8.5" fill="#555657"/>
<circle cx="1488.8" cy="1437.3" r="8.5" fill="#3B1250"/>
<circle cx="1272.8" cy="1480.9" r="8.5" fill="#555657"/>
<circle cx="1356.8" cy="1480.3" r="8.5" fill="#555657"/>
<circle cx="1343.4" cy="1500.8" r="8.5" fill="#555657"/>
<circle cx="1309.3" cy="1472.9" r="8.5" fill="#555657"/>
<circle cx="1222.1" cy="1454.5" r="8.5" fill="#555657"/>
<circle cx="1259.5" cy="1466.9" r="8.5" fill="#555657"/>
<circle cx="1263.9" cy="1462.9" r="8.5" fill="#555657"/>
<circle cx="1344.9" cy="1502.3" r="8.5" fill="#555657"/>
<circle cx="1212.8" cy="1454.1" r="8.5" fill="#555657"/>
<circle cx="1312.8" cy="1471.2" r="8.5" fill="#555657"/>
<circle cx="1265.3" cy="1469.5" r="8.5" fill="#555657"/>
<circle cx="1399.2" cy="1493.9" r="8.5" fill="#555657"/>
<circle cx="1328.3" cy="1491.7" r="8.5" fill="#555657"/>
<circle cx="1481.6" cy="1463.0" r="8.5" fill="#555657"/>
<circle cx="1338.5" cy="1459.7" r="8.5" fill="#555657"/>
<circle cx="1368.9" cy="1492.2" r="8.5" fill="#555657"/>
<circle cx="1349.4" cy="1503.4" r="8.5" fill="#555657"/>
<circle cx="1389.1" cy="1466.5" r="8.5" fill="#555657"/>
<circle cx="1375.5" cy="1500.1" r="8.5" fill="#555657"/>
<circle cx="1361.4" cy="1511.6" r="8.5" fill="#555657"/>
<circle cx="1298.0" cy="1486.6" r="8.5" fill="#555657"/>
<circle cx="1424.0" cy="1483.7" r="8.5" fill="#555657"/>
<circle cx="1343.8" cy="1502.9" r="8.5" fill="#555657"/>
<circle cx="1275.7" cy="1432.2" r="8.5" fill="#3B1250"/>
<circle cx="1363.7" cy="1496.3" r="8.5" fill="#555657"/>
<circle cx="1290.8" cy="1462.1" r="8.5" fill="#555657"/>
<circle cx="1374.9" cy="1464.7" r="8.5" fill="#555657"/>
<circle cx="1408.1" cy="1481.4" r="8.5" fill="#555657"/>
<circle cx="1384.0" cy="1474.9" r="8.5" fill="#555657"/>
<circle cx="1342.2" cy="1481.1" r="8.5" fill="#555657"/>
<circle cx="1242.9" cy="1457.8" r="8.5" fill="#555657"/>
<circle cx="1369.7" cy="1492.9" r="8.5" fill="#555657"/>
<circle cx="1409.6" cy="1458.5" r="8.5" fill="#555657"/>
<circle cx="1206.2" cy="1438.0" r="8.5" fill="#3B1250"/>
<circle cx="1383.8" cy="1495.7" r="8.5" fill="#555657"/>
<circle cx="1393.9" cy="1496.3" r="8.5" fill="#555657"/>
<circle cx="1383.6" cy="1480.7" r="8.5" fill="#555657"/>
<circle cx="1211.9" cy="1454.1" r="8.5" fill="#555657"/>
<circle cx="1226.9" cy="1456.5" r="8.5" fill="#555657"/>
<circle cx="1284.7" cy="1454.8" r="8.5" fill="#555657"/>
<circle cx="1321.2" cy="1501.6" r="8.5" fill="#555657"/>
<circle cx="1333.3" cy="1487.0" r="8.5" fill="#555657"/>
<circle cx="1343.4" cy="1463.0" r="8.5" fill="#555657"/>
<circle cx="1451.0" cy="1436.5" r="8.5" fill="#3B1250"/>
<circle cx="1363.9" cy="1501.3" r="8.5" fill="#555657"/>
<circle cx="1415.9" cy="1477.3" r="8.5" fill="#555657"/>
<circle cx="1445.0" cy="1480.1" r="8.5" fill="#555657"/>
<circle cx="1334.3" cy="1495.0" r="8.5" fill="#555657"/>
<circle cx="1337.7" cy="1488.3" r="8.5" fill="#555657"/>
<circle cx="1442.6" cy="1466.9" r="8.5" fill="#555657"/>
<circle cx="1325.0" cy="1473.7" r="8.5" fill="#555657"/>
<circle cx="1471.1" cy="1469.8" r="8.5" fill="#555657"/>
<circle cx="1292.4" cy="1483.0" r="8.5" fill="#555657"/>
<circle cx="1355.5" cy="1505.6" r="8.5" fill="#555657"/>
<circle cx="1284.0" cy="1468.0" r="8.5" fill="#555657"/>
<circle cx="1410.3" cy="1482.2" r="8.5" fill="#555657"/>
<circle cx="1304.4" cy="1463.5" r="8.5" fill="#555657"/>
<circle cx="1373.5" cy="1489.9" r="8.5" fill="#555657"/>
<circle cx="1207.3" cy="1456.6" r="8.5" fill="#555657"/>
<circle cx="1391.0" cy="1481.4" r="8.5" fill="#555657"/>
<circle cx="1198.4" cy="1443.8" r="8.5" fill="#3B1250"/>
<circle cx="1378.3" cy="1474.4" r="8.5" fill="#555657"/>
<circle cx="1383.1" cy="1459.7" r="8.5" fill="#555657"/>
<circle cx="1282.5" cy="1468.4" r="8.5" fill="#555657"/>
<circle cx="1366.5" cy="1505.2" r="8.5" fill="#555657"/>
<circle cx="1321.0" cy="1430.7" r="8.5" fill="#3B1250"/>
<circle cx="1291.9" cy="1462.0" r="8.5" fill="#555657"/>
<circle cx="1370.9" cy="1478.4" r="8.5" fill="#555657"/>
<circle cx="1381.8" cy="1474.0" r="8.5" fill="#555657"/>
<circle cx="1358.5" cy="1500.1" r="8.5" fill="#555657"/>
<circle cx="1312.3" cy="1482.6" r="8.5" fill="#555657"/>
<circle cx="1314.1" cy="1466.9" r="8.5" fill="#555657"/>
<circle cx="1199.0" cy="1425.6" r="8.5" fill="#3B1250"/>
<circle cx="1245.2" cy="1466.1" r="8.5" fill="#555657"/>
<circle cx="1245.8" cy="1465.7" r="8.5" fill="#555657"/>
<circle cx="1384.5" cy="1476.3" r="8.5" fill="#555657"/>
<circle cx="1383.0" cy="1462.8" r="8.5" fill="#555657"/>
<circle cx="1358.6" cy="1474.0" r="8.5" fill="#555657"/>
<circle cx="1280.8" cy="1472.6" r="8.5" fill="#555657"/>
<circle cx="1360.5" cy="1492.1" r="8.5" fill="#555657"/>
<circle cx="1340.5" cy="1482.6" r="8.5" fill="#555657"/>
<circle cx="1276.2" cy="1431.8" r="8.5" fill="#3B1250"/>
<circle cx="1397.9" cy="1494.0" r="8.5" fill="#555657"/>
<circle cx="1343.0" cy="1505.9" r="8.5" fill="#555657"/>
<circle cx="1285.2" cy="1462.5" r="8.5" fill="#555657"/>
<circle cx="1293.4" cy="1418.7" r="8.5" fill="#3B1250"/>
<circle cx="1357.8" cy="1493.8" r="8.5" fill="#555657"/>
<circle cx="1322.5" cy="1486.1" r="8.5" fill="#555657"/>
<circle cx="1352.5" cy="1500.8" r="8.5" fill="#555657"/>
<circle cx="1423.7" cy="1462.0" r="8.5" fill="#555657"/>
<circle cx="1277.4" cy="1425.8" r="8.5" fill="#3B1250"/>
<circle cx="1343.4" cy="1443.6" r="8.5" fill="#3B1250"/>
<circle cx="1500.4" cy="1442.0" r="8.5" fill="#3B1250"/>
<circle cx="1420.9" cy="1481.4" r="8.5" fill="#555657"/>
<circle cx="1371.8" cy="1486.9" r="8.5" fill="#555657"/>
<circle cx="1331.6" cy="1428.7" r="8.5" fill="#3B1250"/>
<circle cx="1357.6" cy="1483.9" r="8.5" fill="#555657"/>
<circle cx="1284.0" cy="1441.5" r="8.5" fill="#3B1250"/>
<circle cx="1233.4" cy="1442.1" r="8.5" fill="#3B1250"/>
<circle cx="1368.1" cy="1512.4" r="8.5" fill="#555657"/>
<circle cx="1318.4" cy="1494.1" r="8.5" fill="#555657"/>
<circle cx="1311.0" cy="1441.8" r="8.5" fill="#3B1250"/>
<circle cx="1332.0" cy="1469.1" r="8.5" fill="#555657"/>
<circle cx="1322.8" cy="1486.3" r="8.5" fill="#555657"/>
<circle cx="1420.5" cy="1473.0" r="8.5" fill="#555657"/>
<circle cx="1462.5" cy="1457.8" r="8.5" fill="#555657"/>
<circle cx="1212.5" cy="1421.4" r="8.5" fill="#3B1250"/>
<circle cx="1362.8" cy="1512.9" r="8.5" fill="#555657"/>
<circle cx="1308.1" cy="1489.8" r="8.5" fill="#555657"/>
<circle cx="1321.8" cy="1491.2" r="8.5" fill="#555657"/>
<circle cx="1459.2" cy="1474.8" r="8.5" fill="#555657"/>
<circle cx="1407.0" cy="1465.9" r="8.5" fill="#555657"/>
<circle cx="1344.7" cy="1470.5" r="8.5" fill="#555657"/>
<circle cx="1344.4" cy="1488.2" r="8.5" fill="#555657"/>
<circle cx="1277.6" cy="1459.7" r="8.5" fill="#555657"/>
<circle cx="1222.6" cy="1456.5" r="8.5" fill="#555657"/>
<circle cx="1313.8" cy="1455.5" r="8.5" fill="#555657"/>
<circle cx="1370.5" cy="1496.1" r="8.5" fill="#555657"/>
<circle cx="1403.9" cy="1466.0" r="8.5" fill="#555657"/>
<circle cx="1431.9" cy="1487.1" r="8.5" fill="#555657"/>
<circle cx="1240.2" cy="1466.5" r="8.5" fill="#555657"/>
<circle cx="1316.2" cy="1456.1" r="8.5" fill="#555657"/>
<circle cx="1365.0" cy="1501.2" r="8.5" fill="#555657"/>
<circle cx="1308.3" cy="1461.9" r="8.5" fill="#555657"/>
<circle cx="1401.7" cy="1504.4" r="8.5" fill="#555657"/>
<circle cx="1457.8" cy="1458.2" r="8.5" fill="#555657"/>
<circle cx="1350.5" cy="1508.5" r="8.5" fill="#555657"/>
<circle cx="1462.4" cy="1470.3" r="8.5" fill="#555657"/>
<circle cx="1374.2" cy="1498.3" r="8.5" fill="#555657"/>
<circle cx="1357.0" cy="1484.1" r="8.5" fill="#555657"/>
<circle cx="1261.6" cy="1476.6" r="8.5" fill="#555657"/>
<circle cx="1410.0" cy="1492.4" r="8.5" fill="#555657"/>
<circle cx="1333.9" cy="1506.0" r="8.5" fill="#555657"/>
<circle cx="1424.8" cy="1458.9" r="8.5" fill="#555657"/>
<circle cx="1421.9" cy="1486.4" r="8.5" fill="#555657"/>
<circle cx="1307.8" cy="1455.2" r="8.5" fill="#555657"/>
<circle cx="1421.5" cy="1468.6" r="8.5" fill="#555657"/>
<circle cx="1341.8" cy="1483.8" r="8.5" fill="#555657"/>
<circle cx="1271.9" cy="1442.8" r="8.5" fill="#3B1250"/>
<circle cx="1341.4" cy="1455.8" r="8.5" fill="#555657"/>
<circle cx="1280.3" cy="1479.0" r="8.5" fill="#555657"/>
<circle cx="1367.4" cy="1507.7" r="8.5" fill="#555657"/>
<circle cx="1353.5" cy="1467.1" r="8.5" fill="#555657"/>
<circle cx="1310.1" cy="1483.0" r="8.5" fill="#555657"/>
<circle cx="1322.5" cy="1496.0" r="8.5" fill="#555657"/>
<circle cx="1362.1" cy="1501.5" r="8.5" fill="#555657"/>
<circle cx="1346.4" cy="1473.6" r="8.5" fill="#555657"/>
<circle cx="1370.3" cy="1491.8" r="8.5" fill="#555657"/>
<circle cx="1378.6" cy="1470.7" r="8.5" fill="#555657"/>
<circle cx="1256.3" cy="1455.5" r="8.5" fill="#555657"/>
<circle cx="1330.7" cy="1492.9" r="8.5" fill="#555657"/>
<circle cx="1318.5" cy="1501.2" r="8.5" fill="#555657"/>
<circle cx="1390.2" cy="1500.5" r="8.5" fill="#555657"/>
<circle cx="1342.0" cy="1458.8" r="8.5" fill="#555657"/>
<circle cx="1365.1" cy="1504.7" r="8.5" fill="#555657"/>
<circle cx="1463.7" cy="1474.1" r="8.5" fill="#555657"/>
<circle cx="1442.4" cy="1461.4" r="8.5" fill="#555657"/>
<circle cx="1286.5" cy="1461.6" r="8.5" fill="#555657"/>
<circle cx="1387.7" cy="1496.9" r="8.5" fill="#555657"/>
<circle cx="1343.3" cy="1481.9" r="8.5" fill="#555657"/>
<circle cx="1317.1" cy="1468.4" r="8.5" fill="#555657"/>
<circle cx="1314.9" cy="1458.0" r="8.5" fill="#555657"/>
<circle cx="1323.1" cy="1499.1" r="8.5" fill="#555657"/>
<circle cx="1238.4" cy="1456.8" r="8.5" fill="#555657"/>
<circle cx="1388.3" cy="1481.3" r="8.5" fill="#555657"/>
<circle cx="1232.1" cy="1434.3" r="8.5" fill="#3B1250"/>
<circle cx="1241.7" cy="1470.6" r="8.5" fill="#555657"/>
<circle cx="1448.4" cy="1464.8" r="8.5" fill="#555657"/>
<circle cx="1451.6" cy="1478.0" r="8.5" fill="#555657"/>
<circle cx="1301.6" cy="1476.4" r="8.5" fill="#555657"/>
<circle cx="1382.6" cy="1471.6" r="8.5" fill="#555657"/>
<circle cx="1355.9" cy="1462.3" r="8.5" fill="#555657"/>
<circle cx="1264.5" cy="1465.2" r="8.5" fill="#555657"/>
<circle cx="1311.5" cy="1485.7" r="8.5" fill="#555657"/>
<circle cx="1469.3" cy="1464.3" r="8.5" fill="#555657"/>
<circle cx="1457.7" cy="1442.6" r="8.5" fill="#3B1250"/>
<circle cx="1222.9" cy="1454.9" r="8.5" fill="#555657"/>
<circle cx="1419.1" cy="1484.5" r="8.5" fill="#555657"/>
<circle cx="1388.7" cy="1481.7" r="8.5" fill="#555657"/>
<circle cx="1305.5" cy="1476.2" r="8.5" fill="#555657"/>
<circle cx="1442.7" cy="1458.5" r="8.5" fill="#555657"/>
<circle cx="1403.7" cy="1458.7" r="8.5" fill="#555657"/>
<circle cx="1386.8" cy="1472.3" r="8.5" fill="#555657"/>
<circle cx="1392.7" cy="1498.9" r="8.5" fill="#555657"/>
<circle cx="1484.3" cy="1438.5" r="8.5" fill="#3B1250"/>
<circle cx="1317.0" cy="1498.7" r="8.5" fill="#555657"/>
<circle cx="1375.0" cy="1467.8" r="8.5" fill="#555657"/>
<circle cx="1347.0" cy="1443.8" r="8.5" fill="#3B1250"/>
<circle cx="1335.2" cy="1459.8" r="8.5" fill="#555657"/>
<circle cx="1383.0" cy="1474.2" r="8.5" fill="#555657"/>
<circle cx="1210.4" cy="1457.6" r="8.5" fill="#555657"/>
<circle cx="1306.4" cy="1470.7" r="8.5" fill="#555657"/>
<circle cx="1336.6" cy="1494.3" r="8.5" fill="#555657"/>
<circle cx="1202.4" cy="1454.7" r="8.5" fill="#555657"/>
<circle cx="1311.8" cy="1478.2" r="8.5" fill="#555657"/>
<circle cx="1307.2" cy="1473.3" r="8.5" fill="#555657"/>
<circle cx="1359.7" cy="1482.4" r="8.5" fill="#555657"/>
<circle cx="1266.5" cy="1466.0" r="8.5" fill="#555657"/>
<circle cx="1219.1" cy="1458.8" r="8.5" fill="#555657"/>
<circle cx="1374.9" cy="1463.1" r="8.5" fill="#555657"/>
<circle cx="1442.8" cy="1465.9" r="8.5" fill="#555657"/>
<circle cx="1412.5" cy="1473.9" r="8.5" fill="#555657"/>
<circle cx="1313.5" cy="1426.2" r="8.5" fill="#3B1250"/>
<circle cx="1295.9" cy="1474.8" r="8.5" fill="#555657"/>
<circle cx="1254.9" cy="1430.2" r="8.5" fill="#3B1250"/>
<circle cx="1436.9" cy="1474.1" r="8.5" fill="#555657"/>
<circle cx="1282.7" cy="1432.6" r="8.5" fill="#3B1250"/>
<circle cx="1342.9" cy="1505.1" r="8.5" fill="#555657"/>
<circle cx="1398.4" cy="1480.6" r="8.5" fill="#555657"/>
<circle cx="1366.7" cy="1503.9" r="8.5" fill="#555657"/>
<circle cx="1245.2" cy="1458.4" r="8.5" fill="#555657"/>
<circle cx="1294.3" cy="1480.9" r="8.5" fill="#555657"/>
<circle cx="1360.6" cy="1479.3" r="8.5" fill="#555657"/>
<circle cx="1215.0" cy="1454.5" r="8.5" fill="#555657"/>
<circle cx="1286.9" cy="1480.1" r="8.5" fill="#555657"/>
<circle cx="1331.1" cy="1484.7" r="8.5" fill="#555657"/>
<circle cx="1370.5" cy="1490.7" r="8.5" fill="#555657"/>
<circle cx="1411.2" cy="1476.6" r="8.5" fill="#555657"/>
<circle cx="1378.2" cy="1478.7" r="8.5" fill="#555657"/>
<circle cx="1238.1" cy="1454.3" r="8.5" fill="#555657"/>
<circle cx="1409.4" cy="1466.3" r="8.5" fill="#555657"/>
<circle cx="1394.6" cy="1444.6" r="8.5" fill="#3B1250"/>
<circle cx="1366.3" cy="1503.6" r="8.5" fill="#555657"/>
<circle cx="1301.7" cy="1479.4" r="8.5" fill="#555657"/>
<circle cx="1310.2" cy="1475.8" r="8.5" fill="#555657"/>
<circle cx="1377.1" cy="1497.9" r="8.5" fill="#555657"/>
<circle cx="1305.1" cy="1496.3" r="8.5" fill="#555657"/>
<circle cx="1405.9" cy="1489.3" r="8.5" fill="#555657"/>
<circle cx="1378.2" cy="1468.6" r="8.5" fill="#555657"/>
<circle cx="1406.2" cy="1494.0" r="8.5" fill="#555657"/>
<circle cx="1253.0" cy="1477.1" r="8.5" fill="#555657"/>
<circle cx="1431.3" cy="1459.9" r="8.5" fill="#555657"/>
<circle cx="1377.9" cy="1496.7" r="8.5" fill="#555657"/>
<circle cx="1400.1" cy="1469.2" r="8.5" fill="#555657"/>
<circle cx="1353.6" cy="1473.1" r="8.5" fill="#555657"/>
<circle cx="1187.5" cy="1436.8" r="8.5" fill="#3B1250"/>
<circle cx="1504.3" cy="1443.8" r="8.5" fill="#3B1250"/>
<circle cx="1222.1" cy="1459.1" r="8.5" fill="#555657"/>
<circle cx="1484.2" cy="1442.6" r="8.5" fill="#3B1250"/>
<circle cx="1214.3" cy="1443.4" r="8.5" fill="#3B1250"/>
<circle cx="1385.2" cy="1493.6" r="8.5" fill="#555657"/>
<circle cx="1460.7" cy="1457.4" r="8.5" fill="#555657"/>
<circle cx="1363.6" cy="1505.7" r="8.5" fill="#555657"/>
<circle cx="1314.6" cy="1475.1" r="8.5" fill="#555657"/>
<circle cx="1362.8" cy="1506.7" r="8.5" fill="#555657"/>
<circle cx="1235.2" cy="1430.2" r="8.5" fill="#3B1250"/>
<circle cx="1394.1" cy="1444.8" r="8.5" fill="#3B1250"/>
<circle cx="1437.0" cy="1468.4" r="8.5" fill="#555657"/>
<circle cx="1400.8" cy="1475.2" r="8.5" fill="#555657"/>
<circle cx="1391.2" cy="1483.8" r="8.5" fill="#555657"/>
<circle cx="1320.3" cy="1497.1" r="8.5" fill="#555657"/>
<circle cx="1346.1" cy="1442.1" r="8.5" fill="#3B1250"/>
<circle cx="1294.7" cy="1456.4" r="8.5" fill="#555657"/>
<circle cx="1249.8" cy="1435.9" r="8.5" fill="#3B1250"/>
<circle cx="1396.5" cy="1484.1" r="8.5" fill="#555657"/>
<circle cx="1419.2" cy="1463.8" r="8.5" fill="#555657"/>
<circle cx="1408.1" cy="1476.1" r="8.5" fill="#555657"/>
<circle cx="1248.5" cy="1477.9" r="8.5" fill="#555657"/>
<circle cx="1287.5" cy="1473.6" r="8.5" fill="#555657"/>
<circle cx="1370.6" cy="1492.7" r="8.5" fill="#555657"/>
<circle cx="1383.8" cy="1479.5" r="8.5" fill="#555657"/>
<circle cx="1357.5" cy="1479.0" r="8.5" fill="#555657"/>
<circle cx="1263.9" cy="1442.2" r="8.5" fill="#3B1250"/>
<circle cx="1327.0" cy="1500.3" r="8.5" fill="#555657"/>
<circle cx="1417.3" cy="1439.8" r="8.5" fill="#3B1250"/>
<circle cx="1313.0" cy="1456.7" r="8.5" fill="#555657"/>
<circle cx="1339.6" cy="1496.1" r="8.5" fill="#555657"/>
<circle cx="1359.8" cy="1488.2" r="8.5" fill="#555657"/>
<circle cx="1386.6" cy="1503.6" r="8.5" fill="#555657"/>
<circle cx="1302.2" cy="1493.8" r="8.5" fill="#555657"/>
<circle cx="1197.4" cy="1455.1" r="8.5" fill="#555657"/>
<circle cx="1195.9" cy="1455.7" r="8.5" fill="#555657"/>
<circle cx="1310.2" cy="1437.2" r="8.5" fill="#3B1250"/>
<circle cx="1381.2" cy="1474.7" r="8.5" fill="#555657"/>
<circle cx="1436.6" cy="1467.3" r="8.5" fill="#555657"/>
<circle cx="1382.8" cy="1508.3" r="8.5" fill="#555657"/>
<circle cx="1297.5" cy="1483.9" r="8.5" fill="#555657"/>
<circle cx="1416.2" cy="1489.9" r="8.5" fill="#555657"/>
<circle cx="1332.2" cy="1457.5" r="8.5" fill="#555657"/>
<circle cx="1378.1" cy="1464.9" r="8.5" fill="#555657"/>
<circle cx="1312.6" cy="1495.5" r="8.5" fill="#555657"/>
<circle cx="1312.8" cy="1422.9" r="8.5" fill="#3B1250"/>
<circle cx="1333.7" cy="1481.4" r="8.5" fill="#555657"/>
<circle cx="1391.6" cy="1479.1" r="8.5" fill="#555657"/>
<circle cx="1363.1" cy="1499.7" r="8.5" fill="#555657"/>
<circle cx="1345.3" cy="1443.3" r="8.5" fill="#3B1250"/>
<circle cx="1100.2" cy="1452.8" r="8.5" fill="#555657"/>
<circle cx="1138.5" cy="1456.6" r="8.5" fill="#555657"/>
<circle cx="1199.1" cy="1456.6" r="8.5" fill="#555657"/>
<circle cx="1209.1" cy="1465.3" r="8.5" fill="#555657"/>
<circle cx="1199.6" cy="1475.4" r="8.5" fill="#555657"/>
<circle cx="1248.0" cy="1472.9" r="8.5" fill="#555657"/>
<circle cx="1247.5" cy="1487.4" r="8.5" fill="#555657"/>
<circle cx="1269.3" cy="1487.4" r="8.5" fill="#555657"/>
<circle cx="1494.3" cy="1452.8" r="8.5" fill="#555657"/>
<circle cx="1478.0" cy="1452.8" r="8.5" fill="#555657"/>
<circle cx="1461.7" cy="1455.3" r="8.5" fill="#555657"/>
<circle cx="1454.2" cy="1480.4" r="8.5" fill="#555657"/>
<circle cx="1627.2" cy="1010.9" r="8.5" fill="#F09B4B"/>
<circle cx="1517.1" cy="1206.6" r="8.5" fill="#F09B4B"/>
<circle cx="1588.1" cy="1206.6" r="8.5" fill="#F09B4B"/>
<circle cx="1478.0" cy="1232.1" r="8.5" fill="#F09B4B"/>
</g>
<line x1="1365.40" y1="931.70" x2="1365.40" y2="1541.70" stroke="#000" stroke-width="2.8" stroke-dasharray="18.2 7.57"/>
<line x1="962.00" y1="1274.59" x2="1731.70" y2="1274.59" stroke="#000" stroke-width="2.8" stroke-dasharray="18.2 7.57"/>
<line x1="1136.50" y1="1404.50" x2="1184.10" y2="1418.30" stroke="#000" stroke-width="3.3" stroke-linecap="butt"/>
<line x1="1456.70" y1="1289.50" x2="1487.50" y2="1315.10" stroke="#000" stroke-width="3.3" stroke-linecap="butt"/>
<line x1="1519.80" y1="1302.00" x2="1499.30" y2="1311.30" stroke="#000" stroke-width="3.3" stroke-linecap="butt"/>
<line x1="1499.30" y1="1323.10" x2="1507.30" y2="1331.30" stroke="#000" stroke-width="3.3" stroke-linecap="butt"/>
<text x="1641.80" y="1033.80" font-size="26.8" fill="#000">ICAM3</text>
<text x="1474.10" y="1189.80" font-size="26.8" fill="#000">CRTAM</text>
<text x="1602.70" y="1205.00" font-size="26.8" fill="#000" textLength="45.3">LY9</text>
<text x="1409.10" y="1226.70" font-size="26.8" fill="#000">CD6</text>
<text x="1137.30" y="1310.60" font-size="26.8" fill="#000" textLength="101.0">PPP3R1</text>
<text x="1075.20" y="1405.20" font-size="26.8" fill="#000" textLength="63.3">VAT1</text>
<text x="1386.70" y="1297.00" font-size="26.8" fill="#000">LAG3</text>
<text x="1370.40" y="1321.30" font-size="26.8" fill="#000">FCRL5</text>
<text x="1493.10" y="1297.00" font-size="26.8" fill="#000">LCP1</text>
<text x="1574.50" y="1303.00" font-size="26.8" fill="#000">CD48</text>
<text x="1613.30" y="1330.10" font-size="26.8" fill="#000">PTPRC</text>
<text x="1507.40" y="1345.60" font-size="26.8" fill="#000">KLRD1</text>
<rect x="962.40" y="934.00" width="769.30" height="607.70" fill="none" stroke="#3A3D3D" stroke-width="3.2"/>
<text x="968.50" y="964.00" font-size="30" fill="#000">Decreased risk</text>
<text x="1724.00" y="964.00" font-size="30" text-anchor="end" fill="#000">Increased risk</text>
<line x1="953.40" y1="1514.20" x2="960.90" y2="1514.20" stroke="#3A3D3D" stroke-width="2.8"/>
<text x="946.50" y="1523.70" font-size="23.6" text-anchor="end" fill="#000">0</text>
<line x1="953.40" y1="1330.03" x2="960.90" y2="1330.03" stroke="#3A3D3D" stroke-width="2.8"/>
<text x="946.50" y="1339.53" font-size="23.6" text-anchor="end" fill="#000">1</text>
<line x1="953.40" y1="1145.86" x2="960.90" y2="1145.86" stroke="#3A3D3D" stroke-width="2.8"/>
<text x="946.50" y="1155.36" font-size="23.6" text-anchor="end" fill="#000">2</text>
<line x1="953.40" y1="961.69" x2="960.90" y2="961.69" stroke="#3A3D3D" stroke-width="2.8"/>
<text x="946.50" y="971.19" font-size="23.6" text-anchor="end" fill="#000">3</text>
<line x1="1131.93" y1="1543.20" x2="1131.93" y2="1549.20" stroke="#3A3D3D" stroke-width="2.8"/>
<text x="1132.08" y="1573.80" font-size="23.5" text-anchor="middle" fill="#000">0.3</text>
<line x1="1365.40" y1="1543.20" x2="1365.40" y2="1549.20" stroke="#3A3D3D" stroke-width="2.8"/>
<text x="1366.20" y="1573.80" font-size="23.5" text-anchor="middle" fill="#000">1.0</text>
<line x1="1579.63" y1="1543.20" x2="1579.63" y2="1549.20" stroke="#3A3D3D" stroke-width="2.8"/>
<text x="1580.43" y="1573.80" font-size="23.5" text-anchor="middle" fill="#000">3.0</text>
<text x="1363.00" y="1608.50" font-size="30" text-anchor="middle" fill="#000">Hazard Ratio</text>
<text transform="translate(910.70 1239.20) rotate(-90)" font-size="30" text-anchor="middle" fill="#000">−Log₁₀ FDR P value</text>
<text x="-6.30" y="1673.40" font-size="54.5" fill="#231F20">E</text>
<text x="74.10" y="1672.80" font-size="30" font-weight="bold" fill="#231F20">Predictive biomarkers in elite and viremic controllers</text>
<clipPath id="clipE"><rect x="130.0" y="1719.8" width="314.3" height="606.5000000000002"/></clipPath>
<g clip-path="url(#clipE)">
<line x1="150.40" y1="1719.80" x2="150.40" y2="2326.30" stroke="#E5E5E5" stroke-width="1.8"/>
<line x1="227.70" y1="1719.80" x2="227.70" y2="2326.30" stroke="#E5E5E5" stroke-width="1.8"/>
<line x1="304.80" y1="1719.80" x2="304.80" y2="2326.30" stroke="#E5E5E5" stroke-width="1.8"/>
<line x1="381.90" y1="1719.80" x2="381.90" y2="2326.30" stroke="#E5E5E5" stroke-width="1.8"/>
<line x1="187.30" y1="1719.80" x2="187.30" y2="2326.30" stroke="#E5E5E5" stroke-width="3.2"/>
<line x1="268.00" y1="1719.80" x2="268.00" y2="2326.30" stroke="#E5E5E5" stroke-width="3.2"/>
<line x1="342.50" y1="1719.80" x2="342.50" y2="2326.30" stroke="#E5E5E5" stroke-width="3.2"/>
<line x1="422.30" y1="1719.80" x2="422.30" y2="2326.30" stroke="#E5E5E5" stroke-width="3.2"/>
<line x1="130.00" y1="1769.80" x2="444.30" y2="1769.80" stroke="#E5E5E5" stroke-width="3.2"/>
<line x1="130.00" y1="1854.10" x2="444.30" y2="1854.10" stroke="#E5E5E5" stroke-width="3.2"/>
<line x1="130.00" y1="1938.70" x2="444.30" y2="1938.70" stroke="#E5E5E5" stroke-width="3.2"/>
<line x1="130.00" y1="2023.10" x2="444.30" y2="2023.10" stroke="#E5E5E5" stroke-width="3.2"/>
<line x1="130.00" y1="2107.50" x2="444.30" y2="2107.50" stroke="#E5E5E5" stroke-width="3.2"/>
<line x1="130.00" y1="2192.00" x2="444.30" y2="2192.00" stroke="#E5E5E5" stroke-width="3.2"/>
<line x1="130.00" y1="2276.30" x2="444.30" y2="2276.30" stroke="#E5E5E5" stroke-width="3.2"/>
<line x1="331.20" y1="1755.90" x2="429.80" y2="1755.90" stroke="#5CB270" stroke-width="3.3"/>
<circle cx="380.8" cy="1755.9" r="5.0" fill="#5CB270"/>
<line x1="322.30" y1="1769.80" x2="394.00" y2="1769.80" stroke="#F5A12E" stroke-width="3.3"/>
<rect x="353.00" y="1765.00" width="9.60" height="9.60" fill="#F5A12E"/>
<line x1="297.30" y1="1784.00" x2="408.50" y2="1784.00" stroke="#8B0F1D" stroke-width="3.3"/>
<path d="M346.3 1787.8L359.1 1787.8L352.7 1776.3Z" fill="#8B0F1D"/>
<line x1="302.50" y1="1840.20" x2="370.80" y2="1840.20" stroke="#5CB270" stroke-width="3.3"/>
<circle cx="336.5" cy="1840.2" r="5.0" fill="#5CB270"/>
<line x1="295.90" y1="1854.10" x2="344.60" y2="1854.10" stroke="#F5A12E" stroke-width="3.3"/>
<rect x="315.30" y="1849.30" width="9.60" height="9.60" fill="#F5A12E"/>
<line x1="280.10" y1="1868.30" x2="351.60" y2="1868.30" stroke="#8B0F1D" stroke-width="3.3"/>
<path d="M309.0 1872.1L321.8 1872.1L315.4 1860.6Z" fill="#8B0F1D"/>
<line x1="291.80" y1="1924.80" x2="386.10" y2="1924.80" stroke="#5CB270" stroke-width="3.3"/>
<circle cx="338.9" cy="1924.8" r="5.0" fill="#5CB270"/>
<line x1="308.80" y1="1938.70" x2="380.20" y2="1938.70" stroke="#F5A12E" stroke-width="3.3"/>
<rect x="339.80" y="1933.90" width="9.60" height="9.60" fill="#F5A12E"/>
<line x1="287.80" y1="1952.90" x2="405.70" y2="1952.90" stroke="#8B0F1D" stroke-width="3.3"/>
<path d="M339.9 1956.7L352.7 1956.7L346.3 1945.2Z" fill="#8B0F1D"/>
<line x1="283.90" y1="2009.20" x2="334.00" y2="2009.20" stroke="#5CB270" stroke-width="3.3"/>
<circle cx="309.1" cy="2009.2" r="5.0" fill="#5CB270"/>
<line x1="288.00" y1="2023.10" x2="325.50" y2="2023.10" stroke="#F5A12E" stroke-width="3.3"/>
<rect x="301.90" y="2018.30" width="9.60" height="9.60" fill="#F5A12E"/>
<line x1="265.80" y1="2037.30" x2="317.10" y2="2037.30" stroke="#8B0F1D" stroke-width="3.3"/>
<path d="M285.0 2041.1L297.8 2041.1L291.4 2029.6Z" fill="#8B0F1D"/>
<line x1="286.70" y1="2093.60" x2="319.10" y2="2093.60" stroke="#5CB270" stroke-width="3.3"/>
<circle cx="302.7" cy="2093.6" r="5.0" fill="#5CB270"/>
<line x1="276.50" y1="2107.50" x2="300.50" y2="2107.50" stroke="#F5A12E" stroke-width="3.3"/>
<rect x="283.60" y="2102.70" width="9.60" height="9.60" fill="#F5A12E"/>
<line x1="262.90" y1="2121.70" x2="296.10" y2="2121.70" stroke="#8B0F1D" stroke-width="3.3"/>
<path d="M272.9 2125.5L285.7 2125.5L279.3 2114.0Z" fill="#8B0F1D"/>
<line x1="297.10" y1="2178.10" x2="357.00" y2="2178.10" stroke="#5CB270" stroke-width="3.3"/>
<circle cx="326.9" cy="2178.1" r="5.0" fill="#5CB270"/>
<line x1="280.30" y1="2192.00" x2="328.20" y2="2192.00" stroke="#F5A12E" stroke-width="3.3"/>
<rect x="299.40" y="2187.20" width="9.60" height="9.60" fill="#F5A12E"/>
<line x1="273.10" y1="2206.20" x2="353.60" y2="2206.20" stroke="#8B0F1D" stroke-width="3.3"/>
<path d="M306.7 2210.0L319.5 2210.0L313.1 2198.5Z" fill="#8B0F1D"/>
<line x1="143.40" y1="2262.40" x2="226.00" y2="2262.40" stroke="#5CB270" stroke-width="3.3"/>
<circle cx="184.9" cy="2262.4" r="5.0" fill="#5CB270"/>
<line x1="179.20" y1="2276.30" x2="245.00" y2="2276.30" stroke="#F5A12E" stroke-width="3.3"/>
<rect x="207.20" y="2271.50" width="9.60" height="9.60" fill="#F5A12E"/>
<line x1="205.60" y1="2290.50" x2="298.20" y2="2290.50" stroke="#8B0F1D" stroke-width="3.3"/>
<path d="M245.2 2294.3L258.0 2294.3L251.6 2282.8Z" fill="#8B0F1D"/>
<line x1="268.00" y1="1721.30" x2="268.00" y2="2326.30" stroke="#000" stroke-width="3.7" stroke-dasharray="12.9 12.9"/>
</g>
<rect x="130.00" y="1719.80" width="314.30" height="606.50" fill="none" stroke="#333333" stroke-width="2.1"/>
<line x1="121.00" y1="1769.80" x2="129.00" y2="1769.80" stroke="#333333" stroke-width="3.0"/>
<text x="114.20" y="1778.60" font-size="23.7" text-anchor="end" fill="#000">ICAM3</text>
<line x1="121.00" y1="1854.10" x2="129.00" y2="1854.10" stroke="#333333" stroke-width="3.0"/>
<text x="114.20" y="1862.90" font-size="23.7" text-anchor="end" fill="#000">CRTAM</text>
<line x1="121.00" y1="1938.70" x2="129.00" y2="1938.70" stroke="#333333" stroke-width="3.0"/>
<text x="114.20" y="1947.50" font-size="23.7" text-anchor="end" fill="#000">LY9</text>
<line x1="121.00" y1="2023.10" x2="129.00" y2="2023.10" stroke="#333333" stroke-width="3.0"/>
<text x="114.20" y="2031.90" font-size="23.7" text-anchor="end" fill="#000">CD6</text>
<line x1="121.00" y1="2107.50" x2="129.00" y2="2107.50" stroke="#333333" stroke-width="3.0"/>
<text x="114.20" y="2116.30" font-size="23.7" text-anchor="end" fill="#000">SH2D1A</text>
<line x1="121.00" y1="2192.00" x2="129.00" y2="2192.00" stroke="#333333" stroke-width="3.0"/>
<text x="114.20" y="2200.80" font-size="23.7" text-anchor="end" fill="#000">C1QL2</text>
<line x1="121.00" y1="2276.30" x2="129.00" y2="2276.30" stroke="#333333" stroke-width="3.0"/>
<text x="114.20" y="2285.10" font-size="23.7" text-anchor="end" fill="#000">CNGB3</text>
<line x1="187.20" y1="2327.30" x2="187.20" y2="2334.90" stroke="#333333" stroke-width="3.0"/>
<text x="187.20" y="2359.50" font-size="23.5" text-anchor="middle" fill="#000">0.3</text>
<line x1="267.90" y1="2327.30" x2="267.90" y2="2334.90" stroke="#333333" stroke-width="3.0"/>
<text x="267.90" y="2359.50" font-size="23.5" text-anchor="middle" fill="#000">1.0</text>
<line x1="341.90" y1="2327.30" x2="341.90" y2="2334.90" stroke="#333333" stroke-width="3.0"/>
<text x="341.90" y="2359.50" font-size="23.5" text-anchor="middle" fill="#000">3.0</text>
<line x1="422.10" y1="2327.30" x2="422.10" y2="2334.90" stroke="#333333" stroke-width="3.0"/>
<text x="422.10" y="2359.50" font-size="23.5" text-anchor="middle" fill="#000">10.0</text>
<text x="287.00" y="2394.00" font-size="30" text-anchor="middle" fill="#000">Hazard Ratio (95% CI)</text>
<text x="479.40" y="1845.80" font-size="30.0" fill="#000">Predicted event during follow-up:</text>
<line x1="481.70" y1="1899.80" x2="512.30" y2="1899.80" stroke="#5CB270" stroke-width="3.6"/>
<circle cx="497.0" cy="1899.8" r="7.5" fill="#5CB270"/>
<text x="530.40" y="1908.90" font-size="24.15" fill="#000">Virological Loss (viral load &gt;10,000 copies/mL)</text>
<text x="530.80" y="1937.80" font-size="24.1" font-style="italic" fill="#000">n = 56 / 181</text>
<line x1="481.70" y1="1996.20" x2="512.30" y2="1996.20" stroke="#F5A12E" stroke-width="3.6"/>
<rect x="489.60" y="1988.80" width="14.80" height="14.80" fill="#F5A12E"/>
<text x="530.40" y="2005.30" font-size="24.15" fill="#000">&gt;1000 copies/mL increase in viral load</text>
<text x="530.80" y="2034.20" font-size="24.1" font-style="italic" fill="#000">n = 91 / 181</text>
<line x1="481.70" y1="2092.30" x2="512.30" y2="2092.30" stroke="#8B0F1D" stroke-width="3.6"/>
<path d="M487.0 2098.1L507.0 2098.1L497.0 2080.6Z" fill="#8B0F1D"/>
<text x="530.40" y="2101.40" font-size="24.15" fill="#000">Immunological Loss (CD4 &lt; 500 cells/mm³)</text>
<text x="530.80" y="2130.30" font-size="24.1" font-style="italic" fill="#000">n = 42 / 138</text>
<text x="1174.90" y="1673.20" font-size="53.5" fill="#231F20">F</text>
<text x="1249.60" y="1672.20" font-size="30.2" font-weight="bold" fill="#231F20">Risk of detectable viral load</text>
<text x="1249.20" y="1718.30" font-size="30.1" font-style="italic" fill="#231F20">Exclusively elite controllers</text>
<clipPath id="clipF"><rect x="1248.2" y="1742.6" width="471.70000000000005" height="552.3000000000002"/></clipPath>
<g clip-path="url(#clipF)">
<line x1="1331.45" y1="1742.60" x2="1331.45" y2="2294.90" stroke="#E5E5E5" stroke-width="1.8"/>
<line x1="1479.75" y1="1742.60" x2="1479.75" y2="2294.90" stroke="#E5E5E5" stroke-width="1.8"/>
<line x1="1628.05" y1="1742.60" x2="1628.05" y2="2294.90" stroke="#E5E5E5" stroke-width="1.8"/>
<line x1="1257.30" y1="1742.60" x2="1257.30" y2="2294.90" stroke="#E5E5E5" stroke-width="3.2"/>
<line x1="1405.60" y1="1742.60" x2="1405.60" y2="2294.90" stroke="#E5E5E5" stroke-width="3.2"/>
<line x1="1553.90" y1="1742.60" x2="1553.90" y2="2294.90" stroke="#E5E5E5" stroke-width="3.2"/>
<line x1="1702.20" y1="1742.60" x2="1702.20" y2="2294.90" stroke="#E5E5E5" stroke-width="3.2"/>
<line x1="1248.20" y1="1788.90" x2="1719.90" y2="1788.90" stroke="#E5E5E5" stroke-width="3.2"/>
<line x1="1248.20" y1="1865.80" x2="1719.90" y2="1865.80" stroke="#E5E5E5" stroke-width="3.2"/>
<line x1="1248.20" y1="1942.40" x2="1719.90" y2="1942.40" stroke="#E5E5E5" stroke-width="3.2"/>
<line x1="1248.20" y1="2019.40" x2="1719.90" y2="2019.40" stroke="#E5E5E5" stroke-width="3.2"/>
<line x1="1248.20" y1="2096.00" x2="1719.90" y2="2096.00" stroke="#E5E5E5" stroke-width="3.2"/>
<line x1="1248.20" y1="2172.90" x2="1719.90" y2="2172.90" stroke="#E5E5E5" stroke-width="3.2"/>
<line x1="1248.20" y1="2249.70" x2="1719.90" y2="2249.70" stroke="#E5E5E5" stroke-width="3.2"/>
<line x1="1380.30" y1="1779.30" x2="1662.10" y2="1779.30" stroke="#B5B8B8" stroke-width="3.4"/>
<circle cx="1521.1" cy="1779.3" r="6.7" fill="#B5B8B8"/>
<line x1="1490.30" y1="1798.50" x2="1656.60" y2="1798.50" stroke="#000" stroke-width="3.4"/>
<circle cx="1573.2" cy="1798.5" r="6.7" fill="#000"/>
<line x1="1397.10" y1="1856.20" x2="1593.00" y2="1856.20" stroke="#B5B8B8" stroke-width="3.4"/>
<circle cx="1495.1" cy="1856.2" r="6.7" fill="#B5B8B8"/>
<line x1="1451.00" y1="1875.40" x2="1553.90" y2="1875.40" stroke="#000" stroke-width="3.4"/>
<circle cx="1502.3" cy="1875.4" r="6.7" fill="#000"/>
<line x1="1370.80" y1="1932.80" x2="1698.90" y2="1932.80" stroke="#B5B8B8" stroke-width="3.4"/>
<circle cx="1534.9" cy="1932.8" r="6.7" fill="#B5B8B8"/>
<line x1="1487.80" y1="1952.00" x2="1661.60" y2="1952.00" stroke="#000" stroke-width="3.4"/>
<circle cx="1574.5" cy="1952.0" r="6.7" fill="#000"/>
<line x1="1401.10" y1="2009.80" x2="1575.70" y2="2009.80" stroke="#B5B8B8" stroke-width="3.4"/>
<circle cx="1488.3" cy="2009.8" r="6.7" fill="#B5B8B8"/>
<line x1="1437.40" y1="2029.00" x2="1526.10" y2="2029.00" stroke="#000" stroke-width="3.4"/>
<circle cx="1481.8" cy="2029.0" r="6.7" fill="#000"/>
<line x1="1397.90" y1="2086.40" x2="1448.50" y2="2086.40" stroke="#B5B8B8" stroke-width="3.4"/>
<circle cx="1422.9" cy="2086.4" r="6.7" fill="#B5B8B8"/>
<line x1="1401.10" y1="2105.60" x2="1439.20" y2="2105.60" stroke="#000" stroke-width="3.4"/>
<circle cx="1420.2" cy="2105.6" r="6.7" fill="#000"/>
<line x1="1301.80" y1="2163.30" x2="1480.50" y2="2163.30" stroke="#B5B8B8" stroke-width="3.4"/>
<circle cx="1390.9" cy="2163.3" r="6.7" fill="#B5B8B8"/>
<line x1="1367.60" y1="2182.50" x2="1496.80" y2="2182.50" stroke="#000" stroke-width="3.4"/>
<circle cx="1431.9" cy="2182.5" r="6.7" fill="#000"/>
<line x1="1297.90" y1="2240.10" x2="1505.40" y2="2240.10" stroke="#B5B8B8" stroke-width="3.4"/>
<circle cx="1401.0" cy="2240.1" r="6.7" fill="#B5B8B8"/>
<line x1="1269.20" y1="2259.30" x2="1455.80" y2="2259.30" stroke="#000" stroke-width="3.4"/>
<circle cx="1362.5" cy="2259.3" r="6.7" fill="#000"/>
<line x1="1405.60" y1="1742.10" x2="1405.60" y2="2294.90" stroke="#000" stroke-width="3.6" stroke-dasharray="13.0 12.8"/>
</g>
<rect x="1248.20" y="1742.60" width="471.70" height="552.30" fill="none" stroke="#333333" stroke-width="2.1"/>
<line x1="1239.20" y1="1788.90" x2="1247.20" y2="1788.90" stroke="#333333" stroke-width="3.0"/>
<text x="1233.00" y="1797.70" font-size="23.8" text-anchor="end" fill="#000">ICAM3</text>
<line x1="1239.20" y1="1865.80" x2="1247.20" y2="1865.80" stroke="#333333" stroke-width="3.0"/>
<text x="1233.00" y="1874.60" font-size="23.8" text-anchor="end" fill="#000">CRTAM</text>
<line x1="1239.20" y1="1942.40" x2="1247.20" y2="1942.40" stroke="#333333" stroke-width="3.0"/>
<text x="1233.00" y="1951.20" font-size="23.8" text-anchor="end" fill="#000">LY9</text>
<line x1="1239.20" y1="2019.40" x2="1247.20" y2="2019.40" stroke="#333333" stroke-width="3.0"/>
<text x="1233.00" y="2028.20" font-size="23.8" text-anchor="end" fill="#000">CD6</text>
<line x1="1239.20" y1="2096.00" x2="1247.20" y2="2096.00" stroke="#333333" stroke-width="3.0"/>
<text x="1233.00" y="2104.80" font-size="23.8" text-anchor="end" fill="#000">SH2D1A</text>
<line x1="1239.20" y1="2172.90" x2="1247.20" y2="2172.90" stroke="#333333" stroke-width="3.0"/>
<text x="1233.00" y="2181.70" font-size="23.8" text-anchor="end" fill="#000">C1QL2</text>
<line x1="1239.20" y1="2249.70" x2="1247.20" y2="2249.70" stroke="#333333" stroke-width="3.0"/>
<text x="1233.00" y="2258.50" font-size="23.8" text-anchor="end" fill="#000">CNGB3</text>
<line x1="1257.30" y1="2295.90" x2="1257.30" y2="2303.40" stroke="#333333" stroke-width="3.0"/>
<text x="1257.10" y="2328.20" font-size="24" text-anchor="middle" fill="#000">0.1</text>
<line x1="1405.60" y1="2295.90" x2="1405.60" y2="2303.40" stroke="#333333" stroke-width="3.0"/>
<text x="1405.40" y="2328.20" font-size="24" text-anchor="middle" fill="#000">1.0</text>
<line x1="1553.90" y1="2295.90" x2="1553.90" y2="2303.40" stroke="#333333" stroke-width="3.0"/>
<text x="1553.70" y="2328.20" font-size="24" text-anchor="middle" fill="#000">10.0</text>
<line x1="1702.20" y1="2295.90" x2="1702.20" y2="2303.40" stroke="#333333" stroke-width="3.0"/>
<text x="1702.00" y="2328.20" font-size="24" text-anchor="middle" fill="#000">100.0</text>
<text x="1484.80" y="2363.20" font-size="30.2" text-anchor="middle" fill="#000">Hazard Ratio (95% CI)</text>
<line x1="1202.50" y1="2415.50" x2="1244.20" y2="2415.50" stroke="#000" stroke-width="3.6"/>
<circle cx="1223.4" cy="2415.5" r="11.0" fill="#000"/>
<text x="1266.10" y="2424.40" font-size="27.2" fill="#000">All EC (n=36)</text>
<line x1="1202.50" y1="2466.50" x2="1244.20" y2="2466.50" stroke="#B5B8B8" stroke-width="3.6"/>
<circle cx="1223.4" cy="2466.5" r="11.0" fill="#B5B8B8"/>
<text x="1266.00" y="2476.40" font-size="27.2" fill="#000">EC &lt;50 copies/mL at sampling (n=30)</text>
</svg>
</body></html>
